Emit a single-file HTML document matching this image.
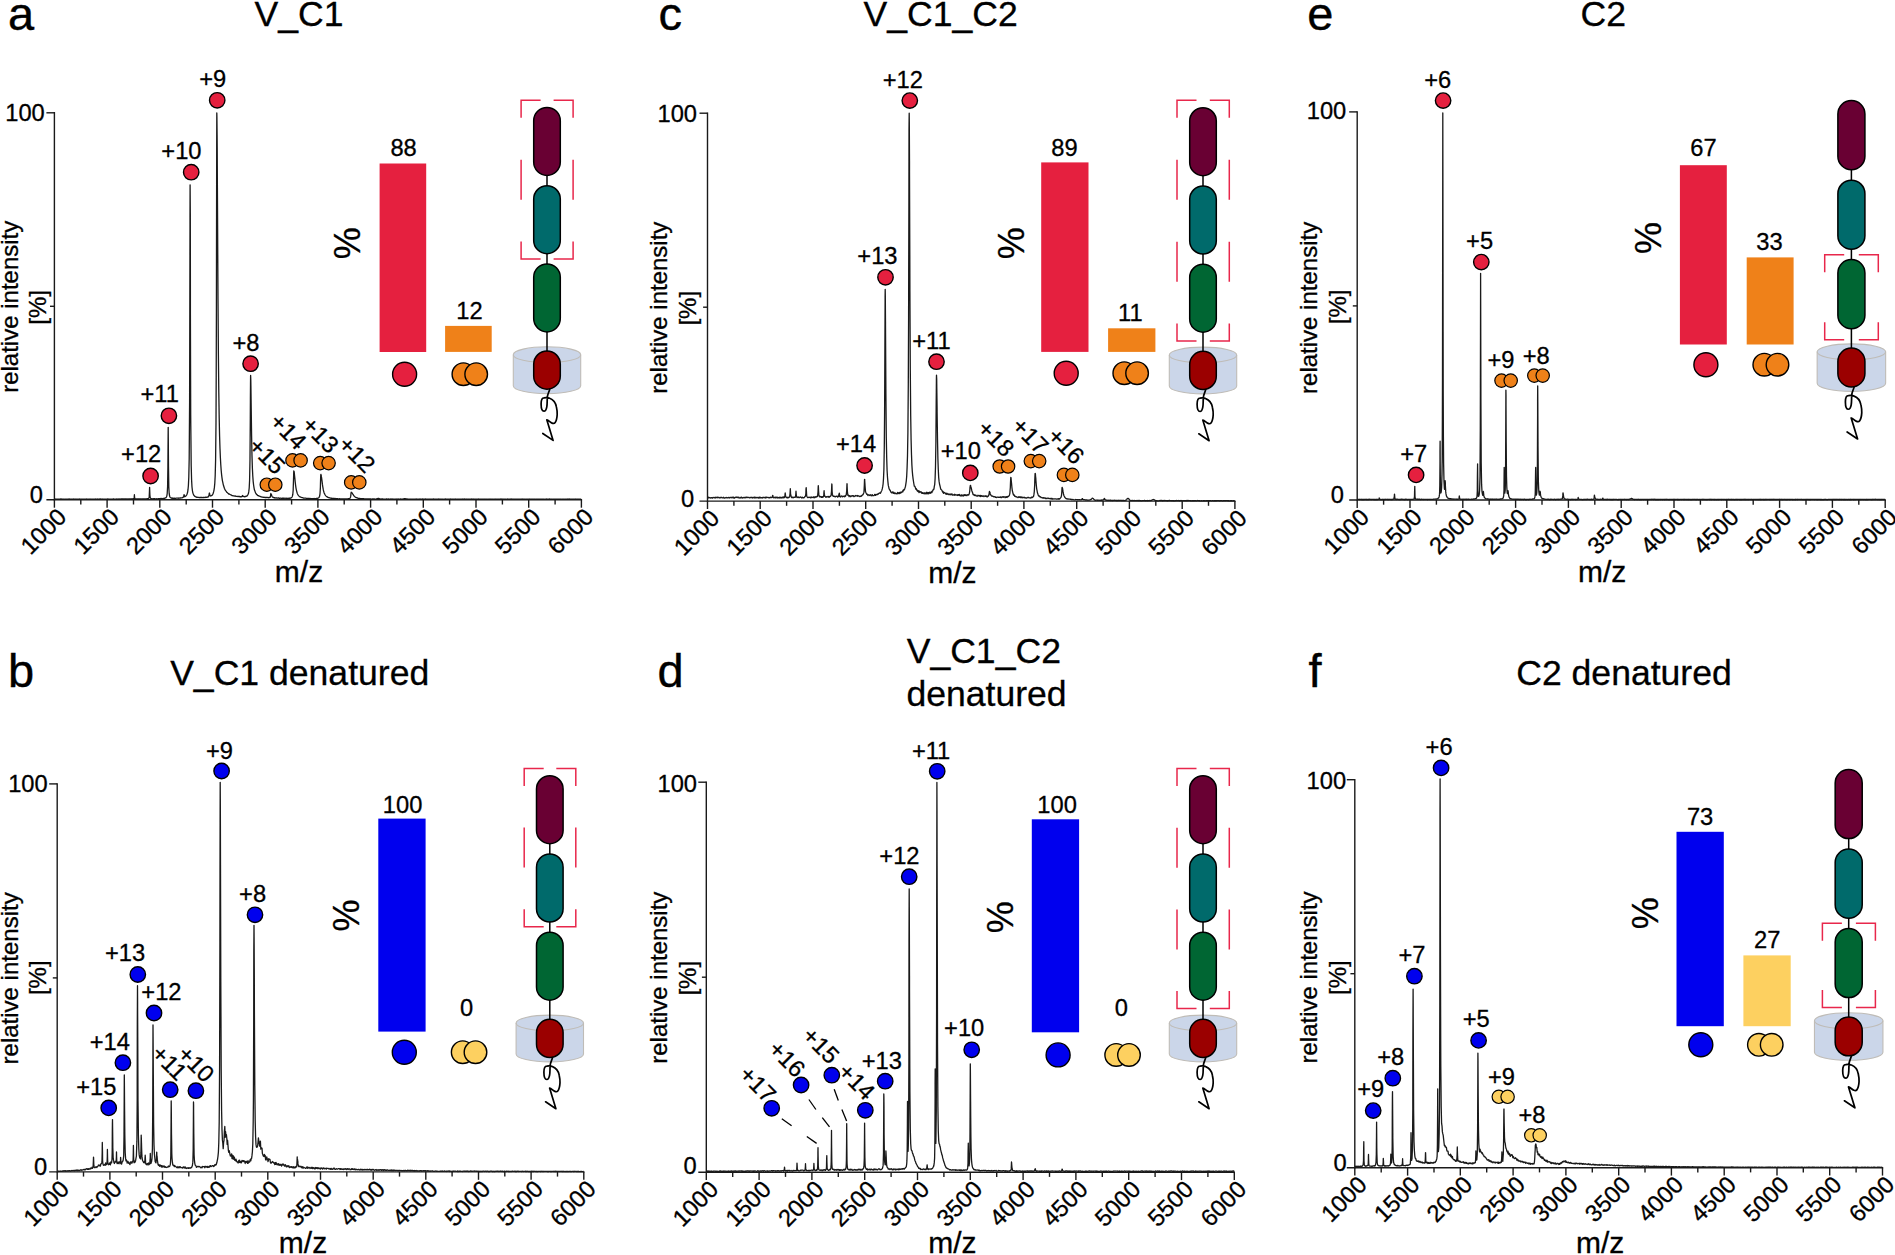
<!DOCTYPE html>
<html lang="en"><head><meta charset="utf-8"><title>Native MS spectra</title>
<style>
html,body{margin:0;padding:0;background:#fff;}
body{width:1895px;height:1255px;overflow:hidden;}
svg{display:block;}
text{font-family:"Liberation Sans",Arial,sans-serif;stroke:#000;stroke-width:.3px;}
</style></head><body>
<svg width="1895" height="1255" viewBox="0 0 1895 1255" font-family='"Liberation Sans", Arial, sans-serif' fill="#000">
<rect width="1895" height="1255" fill="#fff"/>
<text x="8" y="30.4" font-size="47" text-anchor="start" style="stroke-width:.4px">a</text>
<text x="299" y="25.9" font-size="35.6" text-anchor="middle">V_C1</text>
<line x1="54.4" y1="112.1" x2="54.4" y2="500.5" stroke="#1a1a1a" stroke-width="1.4"/>
<line x1="46.4" y1="499.8" x2="582.1" y2="499.8" stroke="#1a1a1a" stroke-width="1.4"/>
<line x1="46.4" y1="112.8" x2="54.4" y2="112.8" stroke="#1a1a1a" stroke-width="1.4"/>
<line x1="50" y1="306.3" x2="54.4" y2="306.3" stroke="#1a1a1a" stroke-width="1.4"/>
<text x="44.8" y="121.3" font-size="23.7" text-anchor="end">100</text>
<text x="42.9" y="503" font-size="23.7" text-anchor="end">0</text>
<line x1="54.4" y1="499.8" x2="54.4" y2="507.7" stroke="#1a1a1a" stroke-width="1.4"/>
<text transform="translate(67.8 518.4) rotate(-45)" font-size="23.7" text-anchor="end">1000</text>
<line x1="80.8" y1="499.8" x2="80.8" y2="504.5" stroke="#1a1a1a" stroke-width="1.4"/>
<line x1="107.1" y1="499.8" x2="107.1" y2="507.7" stroke="#1a1a1a" stroke-width="1.4"/>
<text transform="translate(120.5 518.4) rotate(-45)" font-size="23.7" text-anchor="end">1500</text>
<line x1="133.5" y1="499.8" x2="133.5" y2="504.5" stroke="#1a1a1a" stroke-width="1.4"/>
<line x1="159.8" y1="499.8" x2="159.8" y2="507.7" stroke="#1a1a1a" stroke-width="1.4"/>
<text transform="translate(173.2 518.4) rotate(-45)" font-size="23.7" text-anchor="end">2000</text>
<line x1="186.2" y1="499.8" x2="186.2" y2="504.5" stroke="#1a1a1a" stroke-width="1.4"/>
<line x1="212.5" y1="499.8" x2="212.5" y2="507.7" stroke="#1a1a1a" stroke-width="1.4"/>
<text transform="translate(225.9 518.4) rotate(-45)" font-size="23.7" text-anchor="end">2500</text>
<line x1="238.9" y1="499.8" x2="238.9" y2="504.5" stroke="#1a1a1a" stroke-width="1.4"/>
<line x1="265.2" y1="499.8" x2="265.2" y2="507.7" stroke="#1a1a1a" stroke-width="1.4"/>
<text transform="translate(278.6 518.4) rotate(-45)" font-size="23.7" text-anchor="end">3000</text>
<line x1="291.6" y1="499.8" x2="291.6" y2="504.5" stroke="#1a1a1a" stroke-width="1.4"/>
<line x1="317.9" y1="499.8" x2="317.9" y2="507.7" stroke="#1a1a1a" stroke-width="1.4"/>
<text transform="translate(331.3 518.4) rotate(-45)" font-size="23.7" text-anchor="end">3500</text>
<line x1="344.2" y1="499.8" x2="344.2" y2="504.5" stroke="#1a1a1a" stroke-width="1.4"/>
<line x1="370.6" y1="499.8" x2="370.6" y2="507.7" stroke="#1a1a1a" stroke-width="1.4"/>
<text transform="translate(384 518.4) rotate(-45)" font-size="23.7" text-anchor="end">4000</text>
<line x1="396.9" y1="499.8" x2="396.9" y2="504.5" stroke="#1a1a1a" stroke-width="1.4"/>
<line x1="423.3" y1="499.8" x2="423.3" y2="507.7" stroke="#1a1a1a" stroke-width="1.4"/>
<text transform="translate(436.7 518.4) rotate(-45)" font-size="23.7" text-anchor="end">4500</text>
<line x1="449.6" y1="499.8" x2="449.6" y2="504.5" stroke="#1a1a1a" stroke-width="1.4"/>
<line x1="476" y1="499.8" x2="476" y2="507.7" stroke="#1a1a1a" stroke-width="1.4"/>
<text transform="translate(489.4 518.4) rotate(-45)" font-size="23.7" text-anchor="end">5000</text>
<line x1="502.4" y1="499.8" x2="502.4" y2="504.5" stroke="#1a1a1a" stroke-width="1.4"/>
<line x1="528.7" y1="499.8" x2="528.7" y2="507.7" stroke="#1a1a1a" stroke-width="1.4"/>
<text transform="translate(542.1 518.4) rotate(-45)" font-size="23.7" text-anchor="end">5500</text>
<line x1="555.1" y1="499.8" x2="555.1" y2="504.5" stroke="#1a1a1a" stroke-width="1.4"/>
<line x1="581.4" y1="499.8" x2="581.4" y2="507.7" stroke="#1a1a1a" stroke-width="1.4"/>
<text transform="translate(594.8 518.4) rotate(-45)" font-size="23.7" text-anchor="end">6000</text>
<text transform="translate(17.5 306.8) rotate(-90)" font-size="24" text-anchor="middle">relative intensity</text>
<text transform="translate(46 307.3) rotate(-90)" font-size="24" text-anchor="middle">[%]</text>
<text x="299" y="582" font-size="30" text-anchor="middle">m/z</text>
<path d="M54.4,499.2 54.8,499.1 55.2,499 55.6,499.2 56,499.1 56.4,499.1 56.8,499.2 57.2,499.1 57.6,499.1 58,499.1 58.4,499.2 58.8,499.2 59.2,499.2 59.6,499.1 60,499.1 60.4,499.3 60.8,499 61.2,499 61.6,499.1 62,499.1 62.4,499.2 62.8,499.3 63.2,499.1 63.6,499.3 64,499.2 64.4,499.2 64.8,499.3 65.2,499.2 65.6,499.2 66,499.1 66.4,499.1 66.8,499.1 67.2,499.2 67.6,499.1 68,499.2 68.4,499.2 68.8,499 69.2,499 69.6,499.1 70,499.1 70.4,499.2 70.8,499.2 71.2,499.2 71.6,499.3 72,499.1 72.4,499.2 72.8,499.1 73.2,499.2 73.6,499 74,499.1 74.4,499.3 74.8,499.2 75.2,499.1 75.6,499.2 76,499 76.4,499.2 76.8,499.3 77.2,499.1 77.6,499.1 78,499.2 78.4,499.2 78.8,499.2 79.2,499 79.6,499.1 80,499.2 80.4,499.2 80.8,499.2 81.2,499.3 81.6,499.1 82,499.2 82.4,499.1 82.8,499.2 83.2,499.2 83.6,499.1 84,499.2 84.4,499.1 84.8,499.2 85.2,499.2 85.6,499.2 86,499.2 86.4,499 86.8,499.1 87.2,499.2 87.6,499.1 88,499.2 88.4,499.2 88.8,499.1 89.2,499.1 89.6,499.2 90,499 90.4,499.2 90.8,499.2 91.2,499.1 91.6,499.2 92,499.2 92.4,499.2 92.8,499.2 93.2,499.1 93.6,499.2 94,499.1 94.4,499.2 94.8,499.2 95.2,499 95.6,499.1 96,499.1 96.4,499.1 96.8,499.2 97.2,499.2 97.6,499 98,499.1 98.4,499.2 98.8,499.2 99.2,499.1 99.6,499 100,499.2 100.4,499 100.8,499 101.2,499.1 101.6,499.2 102,499.2 102.4,499.2 102.8,499 103.2,499.2 103.6,499.1 104,499.2 104.4,499.1 104.8,499.1 105.2,499.2 105.6,499.2 106,499.1 106.4,499.2 106.8,499.2 107.2,499.1 107.6,499 108,499.1 108.4,499.2 108.8,499 109.2,499.2 109.6,499.2 110,499.2 110.4,499.1 110.8,499.2 111.2,499.2 111.6,499.1 112,499.1 112.4,499.2 112.8,499.1 113.2,499 113.6,499 114,499.1 114.4,499.1 114.8,499.1 115.2,499.2 115.6,499.2 116,499.2 116.4,499 116.8,499.1 117.2,499 117.6,499.2 118,499.1 118.4,499.1 118.8,499 119.2,499.1 119.6,499 120,499.2 120.4,499.1 120.8,499 121.2,499 121.6,499 122,499 122.4,499 122.8,499 123.2,499.1 123.6,499 124,499 124.4,499 124.8,499.1 125.2,499 125.6,499 126,499.1 126.4,499 126.8,499.1 127.2,499 127.6,499 128,499.2 128.4,499 128.8,498.9 129.2,499 129.6,499 130,499.1 130.4,499 130.8,499 131.2,499.1 131.6,498.9 132,499.1 132.4,498.9 132.8,499.1 133.2,498.9 133.6,498.8 133.8,498.8 134,498.3 134.1,497.9 134.3,496 134.4,494.7 134.4,494.9 134.5,496.3 134.7,498 134.8,498.2 135,498.8 135.2,498.9 135.6,498.8 136,498.9 136.4,499 136.8,498.9 137.2,499 137.6,498.9 138,499.1 138.4,499 138.8,498.9 139.2,498.9 139.6,498.9 140,499 140.4,499 140.8,499 141.2,499.1 141.6,499 142,498.9 142.4,498.9 142.8,498.9 143.2,498.8 143.6,499 144,499 144.4,498.9 144.8,499 145.2,499 145.6,498.9 146,498.9 146.4,498.9 146.8,498.9 147.2,498.7 147.6,498.6 148,498.7 148.4,498.6 148.8,498.2 149,497.4 149.2,496.4 149.3,494.8 149.5,490 149.6,487.4 149.6,487.3 149.7,489.9 149.9,494.7 150,496 150.2,497.6 150.4,497.9 150.8,498.5 151.2,498.7 151.6,498.8 152,498.7 152.4,498.8 152.8,498.8 153.2,498.8 153.6,498.7 154,498.7 154.4,498.7 154.8,498.9 155.2,498.8 155.6,498.9 156,498.9 156.4,498.8 156.8,498.7 157.2,498.8 157.6,498.8 158,498.8 158.4,498.7 158.8,498.7 159.2,498.7 159.6,498.6 160,498.7 160.4,498.6 160.8,498.5 161.2,498.8 161.6,498.5 162,498.5 162.4,498.7 162.8,498.6 163.2,498.5 163.6,498.3 164,498.4 164.4,498.3 164.8,498.1 165.2,498 165.6,497.8 166,497.6 166.4,497 166.8,496.1 167.2,493.6 167.6,486.6 167.6,486.3 167.9,466.7 168,451.1 168.1,439.1 168.2,427.3 168.3,439.1 168.4,454.3 168.5,466.7 168.8,486.7 168.8,486.8 169.2,493.7 169.6,496.1 170,497.1 170.4,497.5 170.8,497.8 171.2,497.9 171.6,498.1 172,498.3 172.4,498.1 172.8,498.4 173.2,498.2 173.6,498.4 174,498.3 174.4,498.2 174.8,498.4 175.2,498.4 175.6,498.3 176,498.2 176.4,498.1 176.8,498.2 177.2,498.1 177.6,498.2 178,498 178.4,498.3 178.8,498.2 179.2,498.1 179.6,498.1 180,498 180.4,498 180.8,497.9 181.2,497.8 181.6,497.8 182,497.8 182.4,497.7 182.8,497.4 183.2,497.2 183.5,497.1 183.6,496.7 183.8,496.1 183.9,495.1 184,494.8 184.1,494.7 184.2,495 184.4,496 184.4,496.1 184.7,496.7 184.8,496.5 185.2,496.6 185.6,496.3 186,495.8 186.4,495.4 186.8,494.7 187.2,493.6 187.6,492.3 188,489.7 188.4,485.5 188.8,477.1 189.2,458.2 189.5,415.9 189.6,402.5 189.8,314.7 190,227.4 190,217.3 190.1,184.8 190.3,215.1 190.4,291 190.4,312.2 190.7,414.7 190.8,425.8 191.2,465.8 191.6,480.1 192,487 192.4,490.5 192.8,492.6 193.2,493.8 193.6,494.9 194,495.5 194.4,495.9 194.8,496.4 195.2,496.5 195.6,496.9 196,496.9 196.4,497.1 196.8,497.3 197.2,497.2 197.6,497.3 198,497.4 198.4,497.4 198.8,497.4 199.2,497.6 199.6,497.6 200,497.5 200.4,497.5 200.8,497.5 201.2,497.4 201.6,497.5 202,497.4 202.4,497.7 202.8,497.5 203.2,497.4 203.6,497.4 204,497.6 204.4,497.6 204.8,497.3 205.2,497.5 205.6,497.2 206,497.2 206.4,497.4 206.8,497.3 207.2,497.1 207.6,497.1 208,497 208.4,496.5 208.8,495.9 208.8,495.8 209.1,494.7 209.2,493.8 209.3,493.2 209.4,493 209.5,493.3 209.6,493.7 209.7,494.2 210,495.3 210,495.7 210.4,496 210.8,495.8 211.2,495.8 211.6,495.4 212,495.3 212.4,494.8 212.8,494.2 213.2,493.3 213.6,491.9 214,490.1 214.4,487.4 214.8,483.2 215.2,475.5 215.6,460 216,422.7 216.2,378.1 216.4,313.7 216.5,251.4 216.7,145.8 216.8,114 216.8,113 216.9,116.4 217.1,134.7 217.2,146.8 217.4,187.8 217.6,224.7 218,299.2 218.4,354.7 218.8,392.3 219.2,418 219.6,436.2 220,448.8 220.4,458 220.8,465 221.2,470.5 221.6,474.6 222,477.8 222.4,480.6 222.8,482.4 223.2,484.3 223.6,485.8 224,487 224.4,488.2 224.8,489.2 225.2,489.9 225.6,490.6 226,491 226.4,491.6 226.8,492.3 227.2,492.5 227.6,492.9 228,493.2 228.4,493.5 228.8,494 229.2,494 229.6,494.2 230,494.5 230.4,494.7 230.8,494.8 231.2,495.1 231.6,495.2 232,495.6 232.4,495.6 232.8,495.6 233.2,495.9 233.6,495.9 234,495.8 234.4,495.9 234.8,496.2 235.2,496 235.6,496.1 236,496.3 236.4,496.3 236.8,496.4 237.2,496.4 237.6,496.5 238,496.3 238.4,496.5 238.8,496.5 239.2,496.5 239.6,496.5 240,496.9 240.4,496.6 240.8,496.6 241.2,496.8 241.6,496.6 241.9,496.7 242,496.5 242.2,496.2 242.4,495.9 242.4,495.8 242.5,495.5 242.6,495.7 242.8,496.1 242.8,495.9 243.1,496.4 243.2,496.3 243.6,496.6 244,496.5 244.4,496.8 244.8,496.6 245.2,496.5 245.6,496.7 246,496.2 246.4,496.3 246.8,496 247.2,495.8 247.6,495.2 248,494.5 248.4,493.6 248.8,491.4 249.2,488 249.6,480.2 250,458.9 250.3,418 250.4,398.7 250.5,384.6 250.6,375.4 250.7,377.3 250.8,380.1 250.9,385.6 251.2,407.6 251.6,436.1 252,456 252.4,468.5 252.8,476.2 253.2,481.6 253.6,485 254,487.6 254.4,489.8 254.8,490.8 255.2,491.9 255.6,493.1 256,493.4 256.4,494.2 256.8,494.6 257.2,494.8 257.6,495.4 258,495.6 258.4,495.6 258.8,495.9 259.2,496.2 259.6,496.1 260,496.3 260.4,496.5 260.8,496.8 261.2,496.8 261.6,496.9 262,497.1 262.4,497.2 262.8,497.1 263.2,497.3 263.6,497.3 264,497.2 264.4,497.3 264.8,497.5 265.2,497.4 265.6,497.5 266,497.4 266.4,497.5 266.8,497.4 267.2,497.4 267.6,497.5 268,497.7 268.4,497.8 268.8,497.5 269.2,497.5 269.6,497.5 270,497.4 270.3,497 270.4,496.4 270.6,495.6 270.7,494.1 270.8,493.7 270.9,493.5 271,493.8 271.2,494.1 271.2,493.9 271.5,494.7 271.6,495.1 272,496.4 272.4,496.9 272.8,497.2 273.2,497.4 273.6,497.5 274,497.8 274.4,497.7 274.8,498 275.2,498 275.6,497.9 276,497.9 276.4,497.9 276.8,498.1 277.2,498 277.6,498.2 278,498.1 278.4,498 278.8,498 279.2,498.3 279.6,498.3 280,498.1 280.4,498.1 280.8,498.1 281.2,498.3 281.6,498.3 282,498.3 282.4,498.1 282.8,498.3 283.2,498.2 283.6,498.1 284,498.3 284.4,498.3 284.8,498.2 285.2,498.2 285.6,498.3 286,498.4 286.4,498.4 286.8,498.2 287.2,498.4 287.6,498.4 288,498.3 288.4,498.3 288.8,498.2 289.2,498.3 289.6,498.1 290,498.3 290.4,498.2 290.8,497.9 291.2,497.9 291.6,497.6 292,497 292.4,496.2 292.8,494.5 293.2,489.9 293.2,489.2 293.5,479.9 293.6,477 293.7,473 293.8,470.9 293.9,471.1 294,471.2 294.1,471.7 294.4,473.7 294.4,474.1 294.8,477.7 295.2,481.9 295.6,485.4 296,488.1 296.4,490.1 296.8,491.7 297.2,493.2 297.6,494.1 298,494.8 298.4,495.4 298.8,495.9 299.2,496.3 299.6,496.6 300,496.8 300.4,496.9 300.8,497.2 301.2,497.3 301.6,497.5 302,497.7 302.4,497.7 302.8,497.7 303.2,498 303.6,498.1 304,498.1 304.4,498.1 304.8,498.2 305.2,498.1 305.6,498.2 306,498.2 306.4,498.5 306.8,498.4 307.2,498.3 307.6,498.5 308,498.6 308.4,498.4 308.8,498.4 309.2,498.6 309.6,498.5 310,498.7 310.4,498.5 310.8,498.6 311.2,498.7 311.6,498.7 312,498.6 312.4,498.6 312.8,498.6 313.2,498.7 313.6,498.7 314,498.5 314.4,498.6 314.8,498.6 315.2,498.6 315.6,498.6 316,498.6 316.4,498.5 316.8,498.6 317.2,498.4 317.6,498.4 318,498.2 318.4,498 318.8,497.7 319.2,497.2 319.6,496.2 320,493.8 320.2,490.7 320.4,487.1 320.5,482.6 320.7,476.3 320.8,474.7 320.8,474.5 321,474.4 321.1,474.9 321.2,475.3 321.4,476.7 321.6,477.8 322,480.9 322.4,484.2 322.8,486.8 323.2,489.2 323.6,491 324,492.4 324.4,493.4 324.8,494.2 325.2,495 325.6,495.6 326,496 326.4,496.3 326.8,496.5 327.2,497 327.6,497.2 328,497.4 328.4,497.6 328.8,497.7 329.2,497.7 329.6,497.8 330,498 330.4,498.1 330.8,498.2 331.2,498.3 331.6,498.2 332,498.4 332.4,498.4 332.8,498.3 333.2,498.5 333.6,498.5 334,498.4 334.4,498.5 334.8,498.6 335.2,498.6 335.6,498.5 336,498.7 336.4,498.7 336.8,498.8 337.2,498.6 337.6,498.7 338,498.8 338.4,498.8 338.8,498.8 339.2,498.8 339.6,498.7 340,498.8 340.4,498.9 340.8,499 341.2,498.9 341.6,498.9 342,498.8 342.4,498.8 342.8,498.9 343.2,499 343.6,499 344,498.9 344.4,499 344.8,498.8 345.2,498.9 345.6,498.9 346,498.8 346.4,499 346.8,498.9 347.2,499 347.6,498.8 348,499 348.4,498.7 348.8,498.7 349.2,498.6 349.6,498.6 350,498.3 350.4,497.5 350.6,496.7 350.8,495.6 350.9,494.4 351.1,492.7 351.2,492.4 351.2,492.2 351.4,492.4 351.5,492.4 351.6,492.5 351.8,492.6 352,492.9 352.4,493.3 352.8,494.1 353.2,494.7 353.6,495.3 354,495.9 354.4,496.2 354.8,496.7 355.2,497 355.6,497.3 356,497.5 356.4,497.6 356.8,497.7 357.2,498 357.6,498 358,498.2 358.4,498.3 358.8,498.3 359.2,498.3 359.6,498.4 360,498.5 360.4,498.7 360.8,498.6 361.2,498.6 361.6,498.7 362,498.7 362.4,498.7 362.8,498.9 363.2,498.6 363.6,498.7 364,498.9 364.4,498.8 364.8,498.9 365.2,498.9 365.6,498.9 366,498.9 366.4,498.9 366.8,498.9 367.2,498.9 367.6,499 368,499 368.4,498.9 368.8,499 369.2,498.8 369.6,498.9 370,498.9 370.4,499 370.8,498.9 371.2,499.1 371.6,499.1 372,499.1 372.4,499 372.8,499 373.2,499.1 373.6,499 374,498.9 374.4,499 374.8,499.1 375.2,499.1 375.6,499.1 376,499.1 376.4,499 376.8,498.9 377.2,498.6 377.6,498.6 378,498.5 378.4,498.4 378.8,498.5 379.2,498.6 379.6,498.8 380,499 380.4,499 380.8,499.2 381.2,499.1 381.6,499 382,499 382.4,499 382.8,499 383.2,499.1 383.6,499.2 384,499.1 384.4,499.1 384.8,499.1 385.2,499.2 385.6,499.1 386,499.1 386.4,499 386.8,499 387.2,499.1 387.6,499.2 388,499 388.4,499 388.8,499.1 389.2,499.1 389.6,499.1 390,499.2 390.4,499.1 390.8,499 391.2,499.1 391.6,499.1 392,499 392.4,499.2 392.8,499 393.2,499.1 393.6,499.2 394,499.2 394.4,499.2 394.8,499.1 395.2,499.1 395.6,499.2 396,499 396.4,499.1 396.8,499.1 397.2,499.2 397.6,499 398,499.2 398.4,499 398.8,499.1 399.2,499.1 399.6,499.1 400,499.2 400.4,499 400.8,499 401.2,499.1 401.6,499.1 402,499.2 402.4,499 402.8,499.2 403.2,499 403.6,499.1 404,498.9 404.4,498.7 404.8,498.8 405.2,498.6 405.6,498.8 406,498.9 406.4,498.9 406.8,498.9 407.2,499 407.6,499.1 408,499.2 408.4,499.1 408.8,499.1 409.2,499.2 409.6,499.1 410,499.1 410.4,499.3 410.8,499.2 411.2,499.1 411.6,499.2 412,499.2 412.4,499.1 412.8,499.2 413.2,499.1 413.6,499.2 414,499.1 414.4,499.2 414.8,499.1 415.2,499.3 415.6,499.1 416,499.2 416.4,499 416.8,499.1 417.2,499.1 417.6,499.2 418,499.1 418.4,499.1 418.8,499.1 419.2,499.1 419.6,499.1 420,499 420.4,499.1 420.8,499.1 421.2,499.2 421.6,499.2 422,499.1 422.4,499 422.8,499.1 423.2,499.1 423.6,499.2 424,499 424.4,499.2 424.8,499.3 425.2,499.1 425.6,499 426,499.1 426.4,499.1 426.8,499.1 427.2,499.2 427.6,499.1 428,499.2 428.4,499.2 428.8,499.2 429.2,499.1 429.6,499.2 430,499.3 430.4,499.1 430.8,499.1 431.2,499.2 431.6,499.2 432,499.2 432.4,499.2 432.8,499.3 433.2,499.1 433.6,499 434,499.1 434.4,499.1 434.8,499.2 435.2,499.1 435.6,499.2 436,499.1 436.4,499.1 436.8,499.1 437.2,499.2 437.6,499.1 438,499.2 438.4,499.1 438.8,499 439.2,499.3 439.6,499.2 440,499.2 440.4,499.2 440.8,499.3 441.2,499.1 441.6,499.1 442,499.2 442.4,499.2 442.8,499.1 443.2,499.3 443.6,499.3 444,499.1 444.4,499.2 444.8,499.2 445.2,499 445.6,499 446,499.2 446.4,499.2 446.8,499.2 447.2,499.1 447.6,499.1 448,499.2 448.4,499.1 448.8,499.2 449.2,499.2 449.6,499.2 450,499.1 450.4,499 450.8,499.2 451.2,499.1 451.6,499.2 452,499.1 452.4,499.3 452.8,499.2 453.2,499.1 453.6,499.2 454,499.1 454.4,499.1 454.8,499.1 455.2,499.2 455.6,499.1 456,499 456.4,499.2 456.8,499.3 457.2,499.2 457.6,499.2 458,499.1 458.4,499.2 458.8,499.2 459.2,499.2 459.6,499.1 460,499.1 460.4,499.2 460.8,499.1 461.2,499.1 461.6,499.1 462,499.2 462.4,499.2 462.8,499 463.2,499.1 463.6,499.2 464,499.1 464.4,499.3 464.8,499 465.2,499.2 465.6,499.1 466,499.1 466.4,499.3 466.8,499.1 467.2,499.2 467.6,499.2 468,499.1 468.4,499.3 468.8,499.2 469.2,499.1 469.6,499.2 470,499.2 470.4,499.1 470.8,499.2 471.2,499.1 471.6,499 472,499.3 472.4,499.2 472.8,499.1 473.2,499.2 473.6,499 474,499.2 474.4,499.2 474.8,499.1 475.2,499.1 475.6,499.2 476,499.1 476.4,499.1 476.8,499.1 477.2,499.2 477.6,499.1 478,499.1 478.4,499.1 478.8,499 479.2,499.2 479.6,499.1 480,499.2 480.4,499.1 480.8,499.2 481.2,499.2 481.6,499.1 482,499.1 482.4,499.1 482.8,499.2 483.2,499.2 483.6,499.2 484,499.1 484.4,499.2 484.8,499.3 485.2,499.1 485.6,499.1 486,499.1 486.4,499.1 486.8,499.2 487.2,499.2 487.6,499.3 488,499.2 488.4,499.2 488.8,499.2 489.2,499.2 489.6,499.1 490,499.3 490.4,499.1 490.8,499.1 491.2,499.1 491.6,499.1 492,499.2 492.4,499.2 492.8,499.2 493.2,499.3 493.6,499.2 494,499.1 494.4,499.1 494.8,499.2 495.2,499.1 495.6,499.3 496,499.1 496.4,499.2 496.8,499.2 497.2,499.2 497.6,499.1 498,499.1 498.4,499.1 498.8,499.3 499.2,499.2 499.6,499.2 500,499.2 500.4,499 500.8,499.3 501.2,499.2 501.6,499.1 502,499 502.4,499.2 502.8,499.2 503.2,499.1 503.6,499.3 504,499.2 504.4,499.1 504.8,499.2 505.2,499.2 505.6,499.2 506,499.2 506.4,499.3 506.8,499.3 507.2,499 507.6,499.1 508,499.1 508.4,499.2 508.8,499.2 509.2,499.1 509.6,499.2 510,499.2 510.4,499 510.8,499.2 511.2,499.2 511.6,499 512,499.1 512.4,499.3 512.8,499.2 513.2,499.1 513.6,499.3 514,499.2 514.4,499.1 514.8,499.1 515.2,499.1 515.6,499.1 516,499.2 516.4,499.2 516.8,499.1 517.2,499.2 517.6,499.1 518,499.2 518.4,499.2 518.8,499.2 519.2,499.1 519.6,499.2 520,499.2 520.4,499.2 520.8,499.2 521.2,499.2 521.6,499.2 522,499 522.4,499.1 522.8,499.1 523.2,499.2 523.6,499.2 524,499.3 524.4,499.1 524.8,499.2 525.2,499.2 525.6,499.3 526,499.2 526.4,499.2 526.8,499.2 527.2,499.1 527.6,499.1 528,499.2 528.4,499.2 528.8,499.2 529.2,499 529.6,499.2 530,499.1 530.4,499.1 530.8,499.1 531.2,499.3 531.6,499.2 532,499.2 532.4,499.3 532.8,499.1 533.2,499.2 533.6,499.1 534,499.1 534.4,499.3 534.8,499.2 535.2,499.2 535.6,499.3 536,499.2 536.4,499.1 536.8,499.3 537.2,499.2 537.6,499.2 538,499.1 538.4,499.2 538.8,499.1 539.2,499.2 539.6,499.1 540,499.1 540.4,499.2 540.8,499.2 541.2,499.2 541.6,499.1 542,499.2 542.4,499.2 542.8,499.1 543.2,499.2 543.6,499.2 544,499.2 544.4,499.2 544.8,499.3 545.2,499.3 545.6,499.1 546,499.1 546.4,499.1 546.8,499 547.2,499.2 547.6,499.1 548,499.1 548.4,499.2 548.8,499.1 549.2,499.1 549.6,499 550,499.1 550.4,499.2 550.8,499.1 551.2,499.3 551.6,499.2 552,499.2 552.4,499.3 552.8,499.2 553.2,499.2 553.6,499.2 554,499.2 554.4,499.2 554.8,499.2 555.2,499.2 555.6,499.2 556,499.1 556.4,499.2 556.8,499.2 557.2,499.2 557.6,499.2 558,499.2 558.4,499.1 558.8,499.1 559.2,499.1 559.6,499.1 560,499.3 560.4,499.2 560.8,499.2 561.2,499.3 561.6,499.2 562,499.3 562.4,499.2 562.8,499.1 563.2,499.2 563.6,499.2 564,499.2 564.4,499.3 564.8,499.2 565.2,499.1 565.6,499.1 566,499.2 566.4,499.1 566.8,499.2 567.2,499.2 567.6,499.1 568,499 568.4,499.2 568.8,499.1 569.2,499 569.6,499.1 570,499.1 570.4,499.1 570.8,499.2 571.2,499.2 571.6,499.2 572,499.1 572.4,499.1 572.8,499.2 573.2,499.1 573.6,499.3 574,499.2 574.4,499.2 574.8,499.2 575.2,499.2 575.6,499 576,499.2 576.4,499.2 576.8,499.2 577.2,499.1 577.6,499.2 578,499.3 578.4,499.1 578.8,499.2 579.2,499.2 579.6,499.2 580,499.1 580.4,499.1 580.8,499.1 581.2,499.1" fill="none" stroke="#1a1a1a" stroke-width="1.3" stroke-linejoin="round"/>
<circle cx="217.2" cy="100.3" r="7.7" fill="#e5203f" stroke="#000" stroke-width="1.4"/>
<text x="212.8" y="87.1" font-size="23.7" text-anchor="middle">+9</text>
<circle cx="191.2" cy="172.2" r="7.7" fill="#e5203f" stroke="#000" stroke-width="1.4"/>
<text x="181.4" y="159.1" font-size="23.7" text-anchor="middle">+10</text>
<circle cx="250.6" cy="363.7" r="7.7" fill="#e5203f" stroke="#000" stroke-width="1.4"/>
<text x="245.9" y="350.6" font-size="23.7" text-anchor="middle">+8</text>
<circle cx="168.9" cy="415.8" r="7.7" fill="#e5203f" stroke="#000" stroke-width="1.4"/>
<text x="159.7" y="402.3" font-size="23.7" text-anchor="middle">+11</text>
<circle cx="150.6" cy="476" r="7.7" fill="#e5203f" stroke="#000" stroke-width="1.4"/>
<text x="141.2" y="462.4" font-size="23.7" text-anchor="middle">+12</text>
<circle cx="266.8" cy="484.7" r="6.7" fill="#ef8119" stroke="#000" stroke-width="1.2"/>
<circle cx="275.3" cy="484.7" r="6.7" fill="#ef8119" stroke="#000" stroke-width="1.2"/>
<text transform="translate(246.9 447.5) rotate(45)" font-size="23.7" text-anchor="start">+15</text>
<circle cx="292.5" cy="460.4" r="6.7" fill="#ef8119" stroke="#000" stroke-width="1.2"/>
<circle cx="300.6" cy="460.4" r="6.7" fill="#ef8119" stroke="#000" stroke-width="1.2"/>
<text transform="translate(268.2 422.9) rotate(45)" font-size="23.7" text-anchor="start">+14</text>
<circle cx="320.2" cy="463.1" r="6.7" fill="#ef8119" stroke="#000" stroke-width="1.2"/>
<circle cx="328.6" cy="463.1" r="6.7" fill="#ef8119" stroke="#000" stroke-width="1.2"/>
<text transform="translate(300.3 426.3) rotate(45)" font-size="23.7" text-anchor="start">+13</text>
<circle cx="351.2" cy="482.4" r="6.7" fill="#ef8119" stroke="#000" stroke-width="1.2"/>
<circle cx="359.3" cy="482.4" r="6.7" fill="#ef8119" stroke="#000" stroke-width="1.2"/>
<text transform="translate(336.8 445.9) rotate(45)" font-size="23.7" text-anchor="start">+12</text>
<rect x="379.6" y="163.5" width="46.6" height="188.5" fill="#e5203f"/>
<rect x="445.1" y="325.9" width="46.6" height="26" fill="#ef8119"/>
<text x="403.6" y="156.4" font-size="23.7" text-anchor="middle">88</text>
<text x="469.4" y="319.1" font-size="23.7" text-anchor="middle">12</text>
<text transform="translate(360.1 243.2) rotate(-90)" font-size="36" text-anchor="middle">%</text>
<circle cx="404.6" cy="374.2" r="12" fill="#e5203f" stroke="#000" stroke-width="1.4"/>
<circle cx="463.4" cy="374.2" r="11.3" fill="#ef8119" stroke="#000" stroke-width="1.4"/>
<circle cx="476.2" cy="374.2" r="11.3" fill="#ef8119" stroke="#000" stroke-width="1.4"/>
<g transform="translate(547 107.4) scale(1.000)">
<path d="M-33.7,247.3 A33.7,7.9 0 0 1 33.7,247.3 L33.7,278.3 A33.7,7.9 0 0 1 -33.7,278.3 Z" fill="#cbd6e9" stroke="#bfbcb7" stroke-width="1.1"/>
<path d="M-33.7,247.3 A33.7,7.9 0 0 0 33.7,247.3" fill="none" stroke="#bfbcb7" stroke-width="1.1"/>
<line x1="0" y1="67" x2="0" y2="245.6" stroke="#000" stroke-width="1.5"/>
<rect x="-13.3" y="0" width="26.6" height="68" rx="13.3" ry="13.3" fill="#690033" stroke="#000" stroke-width="1.5"/>
<rect x="-13.3" y="78.3" width="26.6" height="68" rx="13.3" ry="13.3" fill="#006a6b" stroke="#000" stroke-width="1.5"/>
<rect x="-13.3" y="156.5" width="26.6" height="68" rx="13.3" ry="13.3" fill="#006633" stroke="#000" stroke-width="1.5"/>
<rect x="-13.3" y="243.6" width="26.6" height="38.2" rx="13.3" ry="13.3" fill="#9b0000" stroke="#000" stroke-width="1.5"/>
<path transform="translate(0 281.8)" d="M2.7,0 C2,3 0.5,5 0.3,8.1 C0.1,12 0.3,15 -0.2,17.7 C-0.7,20.5 -1.8,22 -3,22 C-5,22 -5.9,18.5 -5.9,14.8 C-5.9,11 -5,8.6 -3,8.6 C-1,8.3 1,8.3 2.7,9.1 C6.5,10.5 8.7,14 9.4,17.7 C10,20.5 10.4,23 10.2,25.3 C10,29 9.2,32 8,33.5 C7.2,34.5 6,34.3 5.1,33.9 C3,33 1.5,31 -0.2,30.6 L6.1,51.2 L-4.2,44.3" fill="none" stroke="#000" stroke-width="1.7" stroke-linejoin="round" stroke-linecap="round"/>
</g>
<path d="M540.6,100.3 L521.1,100.3 L521.1,117.8 M553.6,100.3 L573.1,100.3 L573.1,117.8 M540.6,259 L521.1,259 L521.1,241.5 M553.6,259 L573.1,259 L573.1,241.5 M521.1,159.7 L521.1,199.7 M573.1,159.7 L573.1,199.7" fill="none" stroke="#e8274b" stroke-width="1.5"/>
<text x="658.6" y="29.7" font-size="47" text-anchor="start" style="stroke-width:.4px">c</text>
<text x="940.6" y="25.9" font-size="35.6" text-anchor="middle">V_C1_C2</text>
<line x1="707.5" y1="112.5" x2="707.5" y2="501.8" stroke="#1a1a1a" stroke-width="1.4"/>
<line x1="699.5" y1="501.1" x2="1235.6" y2="501.1" stroke="#1a1a1a" stroke-width="1.4"/>
<line x1="699.5" y1="113.2" x2="707.5" y2="113.2" stroke="#1a1a1a" stroke-width="1.4"/>
<line x1="703.1" y1="307.2" x2="707.5" y2="307.2" stroke="#1a1a1a" stroke-width="1.4"/>
<text x="697" y="122" font-size="23.7" text-anchor="end">100</text>
<text x="694.2" y="507.2" font-size="23.7" text-anchor="end">0</text>
<line x1="707.5" y1="501.1" x2="707.5" y2="509" stroke="#1a1a1a" stroke-width="1.4"/>
<text transform="translate(720.9 519.7) rotate(-45)" font-size="23.7" text-anchor="end">1000</text>
<line x1="733.9" y1="501.1" x2="733.9" y2="505.8" stroke="#1a1a1a" stroke-width="1.4"/>
<line x1="760.2" y1="501.1" x2="760.2" y2="509" stroke="#1a1a1a" stroke-width="1.4"/>
<text transform="translate(773.6 519.7) rotate(-45)" font-size="23.7" text-anchor="end">1500</text>
<line x1="786.6" y1="501.1" x2="786.6" y2="505.8" stroke="#1a1a1a" stroke-width="1.4"/>
<line x1="813" y1="501.1" x2="813" y2="509" stroke="#1a1a1a" stroke-width="1.4"/>
<text transform="translate(826.4 519.7) rotate(-45)" font-size="23.7" text-anchor="end">2000</text>
<line x1="839.4" y1="501.1" x2="839.4" y2="505.8" stroke="#1a1a1a" stroke-width="1.4"/>
<line x1="865.7" y1="501.1" x2="865.7" y2="509" stroke="#1a1a1a" stroke-width="1.4"/>
<text transform="translate(879.1 519.7) rotate(-45)" font-size="23.7" text-anchor="end">2500</text>
<line x1="892.1" y1="501.1" x2="892.1" y2="505.8" stroke="#1a1a1a" stroke-width="1.4"/>
<line x1="918.5" y1="501.1" x2="918.5" y2="509" stroke="#1a1a1a" stroke-width="1.4"/>
<text transform="translate(931.9 519.7) rotate(-45)" font-size="23.7" text-anchor="end">3000</text>
<line x1="944.8" y1="501.1" x2="944.8" y2="505.8" stroke="#1a1a1a" stroke-width="1.4"/>
<line x1="971.2" y1="501.1" x2="971.2" y2="509" stroke="#1a1a1a" stroke-width="1.4"/>
<text transform="translate(984.6 519.7) rotate(-45)" font-size="23.7" text-anchor="end">3500</text>
<line x1="997.6" y1="501.1" x2="997.6" y2="505.8" stroke="#1a1a1a" stroke-width="1.4"/>
<line x1="1023.9" y1="501.1" x2="1023.9" y2="509" stroke="#1a1a1a" stroke-width="1.4"/>
<text transform="translate(1037.3 519.7) rotate(-45)" font-size="23.7" text-anchor="end">4000</text>
<line x1="1050.3" y1="501.1" x2="1050.3" y2="505.8" stroke="#1a1a1a" stroke-width="1.4"/>
<line x1="1076.7" y1="501.1" x2="1076.7" y2="509" stroke="#1a1a1a" stroke-width="1.4"/>
<text transform="translate(1090.1 519.7) rotate(-45)" font-size="23.7" text-anchor="end">4500</text>
<line x1="1103.1" y1="501.1" x2="1103.1" y2="505.8" stroke="#1a1a1a" stroke-width="1.4"/>
<line x1="1129.4" y1="501.1" x2="1129.4" y2="509" stroke="#1a1a1a" stroke-width="1.4"/>
<text transform="translate(1142.8 519.7) rotate(-45)" font-size="23.7" text-anchor="end">5000</text>
<line x1="1155.8" y1="501.1" x2="1155.8" y2="505.8" stroke="#1a1a1a" stroke-width="1.4"/>
<line x1="1182.2" y1="501.1" x2="1182.2" y2="509" stroke="#1a1a1a" stroke-width="1.4"/>
<text transform="translate(1195.6 519.7) rotate(-45)" font-size="23.7" text-anchor="end">5500</text>
<line x1="1208.5" y1="501.1" x2="1208.5" y2="505.8" stroke="#1a1a1a" stroke-width="1.4"/>
<line x1="1234.9" y1="501.1" x2="1234.9" y2="509" stroke="#1a1a1a" stroke-width="1.4"/>
<text transform="translate(1248.3 519.7) rotate(-45)" font-size="23.7" text-anchor="end">6000</text>
<text transform="translate(667.3 307.7) rotate(-90)" font-size="24" text-anchor="middle">relative intensity</text>
<text transform="translate(695.6 308.2) rotate(-90)" font-size="24" text-anchor="middle">[%]</text>
<text x="952.4" y="583" font-size="30" text-anchor="middle">m/z</text>
<path d="M707.5,497.2 707.9,497.1 708.3,497.2 708.7,498 709.1,497.5 709.5,497.7 709.9,497.6 710.3,498 710.7,497.9 711.1,497.7 711.5,497.9 711.9,497.6 712.3,498.1 712.7,498 713.1,497.4 713.5,497.7 713.9,497.6 714.3,497.4 714.7,497.7 715.1,498.1 715.5,497.3 715.9,497.5 716.3,497.4 716.7,497.5 717.1,497.1 717.5,497.7 717.9,497.3 718.3,497.7 718.7,497.5 719.1,497.4 719.5,497.8 719.9,498 720.3,497.6 720.7,497.4 721.1,497.5 721.5,497.6 721.9,497.4 722.3,497.9 722.7,497.9 723.1,497.8 723.5,497.3 723.9,497.9 724.3,498 724.7,498 725.1,498.1 725.5,497.8 725.9,497.5 726.3,497.3 726.7,497.8 727.1,497.7 727.5,497.8 727.9,497.8 728.3,497.3 728.7,497.5 729.1,497.8 729.5,498 729.9,497.3 730.3,497.4 730.7,497.3 731.1,497.9 731.5,497.5 731.9,497.2 732.3,497.5 732.7,497.1 733.1,497.9 733.5,497.1 733.9,498.1 734.3,497.7 734.7,498.1 735.1,497.3 735.5,497.4 735.9,497.1 736.3,497.3 736.7,497.1 737.1,497.6 737.5,497.1 737.9,497.3 738.3,497.8 738.7,497.1 739.1,497.7 739.5,497.9 739.9,498 740.3,497.6 740.7,497.9 741.1,497.1 741.5,497.1 741.9,497.9 742.3,498 742.7,497.6 743.1,497.9 743.5,497.5 743.9,497.3 744.3,497.8 744.7,497.7 745.1,497.2 745.5,497.6 745.9,497.8 746.3,497.2 746.7,497.3 747.1,497.2 747.5,497.4 747.9,497.7 748.3,497.4 748.7,497.3 749.1,497.4 749.5,497.9 749.9,497.8 750.3,497.7 750.7,497.3 751.1,497.5 751.5,497.5 751.9,497.3 752.3,498 752.7,497.5 753.1,497.8 753.5,497.5 753.9,497.2 754.3,497.9 754.7,497.1 755.1,498 755.5,497.5 755.9,497.5 756.3,497.9 756.7,497.5 757.1,497.6 757.5,497.6 757.9,497.4 758.3,498.1 758.7,497.7 759.1,497.3 759.5,498 759.9,497.2 760.3,497.9 760.7,497.4 761.1,497.9 761.5,497.6 761.9,497.7 762.3,498 762.7,497.4 763.1,497.6 763.5,497.4 763.9,497.5 764.3,497.5 764.7,497.6 765.1,497.8 765.5,497.2 765.9,498 766.3,497.2 766.7,497.2 767.1,497.6 767.5,497.3 767.9,497.4 768.3,497.5 768.7,497.8 769.1,497.8 769.5,497.7 769.9,497.8 770.3,497.1 770.7,497.7 771.1,497.6 771.5,497.6 771.9,497 772.1,497.2 772.3,496.9 772.4,496.8 772.6,495.7 772.7,495.5 772.7,495.3 772.9,495.7 773,496.2 773.1,496.8 773.3,497.6 773.5,497.4 773.9,497.9 774.3,497.5 774.7,497.6 775.1,497.2 775.5,497.8 775.9,497.2 776.3,497.8 776.7,497.1 777.1,497.4 777.5,498 777.9,497.3 778.3,497.8 778.7,497.7 779.1,497.9 779.5,497.2 779.9,498 780.3,497.3 780.7,497.7 781.1,497.4 781.5,497.8 781.9,498 782.3,497.1 782.7,497.4 783.1,497.9 783.5,497 783.9,497 784.3,497.6 784.6,497.4 784.7,496.6 784.9,496.1 785.1,493.6 785.2,493 785.3,493.6 785.5,495.4 785.5,495.4 785.8,496.5 785.9,496.9 786.3,497.2 786.7,497.6 787.1,497.8 787.5,497.9 787.9,497.1 788.3,497.7 788.7,497.4 789.1,497.4 789.5,496.7 789.7,496.3 789.9,494.7 790,494.1 790.2,490.7 790.3,488.7 790.3,488.7 790.4,490.1 790.6,494.2 790.7,494.8 790.9,495.8 791.1,496.3 791.5,497.6 791.9,497.5 792.3,497.1 792.7,497.1 793.1,497.9 793.5,497.6 793.9,497.2 794.3,497.2 794.7,497.3 795.1,497.4 795.4,496.7 795.5,496.9 795.7,495.2 795.9,492.7 795.9,492.1 796,491.2 796.1,492.5 796.3,494.9 796.3,495.2 796.6,496.5 796.7,496.9 797.1,497.6 797.5,497.1 797.9,497.4 798.3,497 798.7,497.5 799.1,497.4 799.5,497.6 799.9,497.4 800.3,497.1 800.7,497 801.1,497.4 801.5,497.6 801.9,498 802.3,497.2 802.7,497.6 803.1,497.6 803.5,497.9 803.9,497.9 804.3,497.5 804.7,496.7 805.1,496.7 805.5,495.8 805.6,495.6 805.9,493.1 805.9,492.4 806,488.8 806.2,487.7 806.3,488.7 806.3,489.2 806.5,492.7 806.7,495.8 806.8,496.2 807.1,496.8 807.5,497.5 807.9,497.1 808.3,497.6 808.7,497.3 809.1,497.2 809.5,497.3 809.9,497.4 810.3,497.8 810.7,497.6 811.1,496.9 811.5,497.7 811.9,497.6 812.3,497.4 812.7,497.3 813.1,497.1 813.5,497.6 813.9,496.8 814.3,497.8 814.7,497 815.1,497.2 815.5,496.8 815.9,497.5 816.3,496.9 816.7,496.5 817.1,496.5 817.5,496.5 817.7,494.7 817.9,493.1 818,492.1 818.2,486.7 818.3,485.7 818.3,485.6 818.4,486.7 818.6,491.4 818.7,492.5 818.9,494.9 819.1,495.8 819.5,496.8 819.9,496.8 820.3,496.4 820.7,496.8 821.1,496.6 821.5,497.4 821.9,496.8 822.3,496.7 822.7,497.4 823.1,496.4 823.5,496.6 823.5,496.5 823.8,495.2 823.9,492.8 823.9,492.8 824.1,490.7 824.2,492.8 824.3,493.6 824.4,494.4 824.7,496.1 824.7,496.2 825.1,496.4 825.5,496.7 825.9,497.3 826.3,496.6 826.7,497.1 827.1,496.8 827.5,496.9 827.9,496.4 828.3,497 828.7,496.5 829.1,497.3 829.5,497 829.9,496.5 830.3,496.4 830.7,495.8 831.1,495.6 831.2,494.3 831.5,491.2 831.5,491.4 831.7,486.6 831.8,484 831.9,484.3 832,485.9 832.1,491 832.3,493.5 832.4,494.2 832.7,495.6 833.1,496.2 833.5,496.4 833.9,496.1 834.3,496.3 834.7,496.3 835.1,497 835.5,496.6 835.9,496.3 836.3,496.4 836.7,496.1 837.1,496.1 837.5,497.1 837.9,496.5 838.3,496.6 838.7,496.5 838.7,496 839,494.5 839.1,493.6 839.1,494.1 839.3,493.2 839.4,493.7 839.5,494.2 839.6,495.1 839.9,496.5 839.9,496.1 840.3,496.7 840.7,497 841.1,496.4 841.5,495.9 841.9,496.2 842.3,496.2 842.7,496.9 843.1,496.4 843.5,496.3 843.9,496.1 844.3,496.4 844.7,496.8 845.1,495.6 845.5,496.3 845.9,495.3 846.3,494.6 846.4,493.4 846.7,490.7 846.7,490.4 846.9,485.5 847,483.7 847.1,484 847.1,485.5 847.3,489.7 847.5,492.7 847.6,493.4 847.9,495.4 848.3,495.2 848.7,495.4 849.1,496.7 849.5,495.7 849.9,495.8 850.3,496 850.7,496.7 851.1,495.9 851.5,495.9 851.9,496.1 852.3,495.6 852.7,495.6 853.1,496 853.5,495.6 853.9,496.7 854.3,496.4 854.7,496.1 855.1,496.1 855.5,495.5 855.9,495.9 856.3,495.9 856.7,495.9 857.1,495.5 857.5,496.2 857.9,495.7 858.3,495.9 858.7,496.1 859.1,496.2 859.5,496.4 859.9,496.6 860.3,496.1 860.7,496.1 861.1,496.3 861.5,495.7 861.9,495.8 862.3,494.9 862.7,494.8 863.1,494.6 863.5,493.6 863.9,492.4 864,491.7 864.3,485.6 864.3,485.9 864.5,480.1 864.6,479.3 864.7,479.3 864.7,480.3 864.9,483.4 865.1,486.5 865.2,487.8 865.5,491.5 865.9,492.5 866.3,493.4 866.7,494.3 867.1,494.1 867.5,494.3 867.9,495.6 868.3,494.8 868.7,494.9 869.1,494.9 869.5,495.5 869.9,495.2 870.3,495.1 870.7,494.7 871.1,495.9 871.5,495.4 871.9,495.5 872.3,494.7 872.7,495.7 873.1,495.7 873.5,495.6 873.9,495.6 874.3,495.1 874.7,494.4 875.1,495.1 875.5,495.4 875.9,494.5 876.3,494.9 876.7,494.5 877.1,494.1 877.5,494.5 877.9,494 878.3,494 878.7,493.5 879.1,493.4 879.5,493 879.9,493 880.3,493.4 880.7,492.7 881.1,491.7 881.5,491 881.9,490.2 882.3,488.7 882.7,486.7 883.1,484 883.5,478.6 883.9,469.4 884.3,446.6 884.6,411.8 884.7,391.1 884.9,345 885.1,301.8 885.1,297.2 885.2,289.3 885.3,295.3 885.5,322.1 885.5,324.2 885.8,376.4 885.9,394.1 886.3,437.6 886.7,458.1 887.1,470.7 887.5,477.3 887.9,481.6 888.3,485.4 888.7,486.9 889.1,488.9 889.5,489.2 889.9,490.3 890.3,490.4 890.7,492 891.1,492.2 891.5,492.2 891.9,493.1 892.3,492.6 892.7,491.9 893.1,492.1 893.5,493.4 893.9,492.4 894.3,493.5 894.7,493.5 895.1,492.9 895.5,493.5 895.9,493.6 896.3,493.8 896.7,493.7 897.1,493.6 897.5,492.4 897.9,493.8 898.3,492.9 898.7,493.4 899.1,492.5 899.5,493.6 899.9,492.9 900.3,492.1 900.7,493.2 901.1,492.4 901.5,492.4 901.9,491.9 902.3,491.4 902.7,492 903.1,490.2 903.5,490.8 903.9,489.4 904.3,489.8 904.7,488.9 905.1,487.6 905.5,486.2 905.9,483.7 906.3,480.8 906.7,476.3 907.1,467.6 907.5,455.8 907.9,432.5 908.3,383.3 908.6,317.3 908.7,272.7 908.9,200.1 909,130.2 909.1,120.3 909.2,113.2 909.3,121.6 909.5,161.1 909.5,171.3 909.8,254.2 909.9,290.7 910.3,370.5 910.7,416 911.1,439.9 911.5,454.7 911.9,465.1 912.3,471.4 912.7,475.6 913.1,478.9 913.5,481.5 913.9,484 914.3,486.2 914.7,486.1 915.1,486.9 915.5,488 915.9,489.3 916.3,488.7 916.7,489.8 917.1,490.7 917.5,490.2 917.9,491.5 918.3,491.7 918.7,490.8 919.1,492.5 919.5,491.2 919.9,492.2 920.3,492 920.7,491.9 921.1,491.7 921.5,493 921.9,493.3 922.3,492.6 922.7,493.2 923.1,492.9 923.5,493.5 923.9,493.6 924.3,492.8 924.7,493.8 925.1,493.4 925.5,493.2 925.9,493.8 926.3,492.5 926.7,492.3 927.1,493.9 927.5,492.5 927.9,493.6 928.3,492.6 928.7,493.8 929.1,492.5 929.5,492.1 929.9,493.2 930.3,493.3 930.7,492.9 931.1,491.8 931.5,491.8 931.9,492.7 932.3,491 932.7,490.9 933.1,489.9 933.5,489.1 933.9,489.3 934.3,486.4 934.7,484.6 935.1,478.7 935.5,466.8 935.9,442 935.9,439.1 936.2,401.8 936.3,392.3 936.4,379.6 936.5,375.1 936.6,377.4 936.7,379.1 936.8,388 937.1,409.3 937.1,411.9 937.5,439.1 937.9,458.8 938.3,469.9 938.7,477.6 939.1,481.4 939.5,484 939.9,485.5 940.3,487.1 940.7,489.2 941.1,489.4 941.5,489.9 941.9,490.3 942.3,491.2 942.7,492.2 943.1,491.5 943.5,493.3 943.9,492.6 944.3,492.9 944.7,492.4 945.1,493 945.5,493.8 945.9,494 946.3,494.3 946.7,493.2 947.1,493.3 947.5,494.1 947.9,494.4 948.3,493.9 948.7,494.6 949.1,494.1 949.5,494.5 949.9,494.6 950.3,494 950.7,494.8 951.1,494.7 951.5,494.4 951.9,493.8 952.3,495.1 952.7,494.9 953.1,495 953.5,495 953.9,494.8 954.3,494.3 954.7,495.3 955.1,494.5 955.5,495 955.9,494.8 956.3,494.9 956.7,494.8 957.1,495.5 957.5,494.8 957.9,495.2 958.3,494.6 958.7,494.9 959.1,495.3 959.5,494.4 959.9,495.6 960.3,495.9 960.7,495.8 961.1,494.9 961.5,495.9 961.9,494.9 962.3,495.9 962.7,495.6 963.1,495.1 963.5,496 963.9,495.4 964.3,494.6 964.7,495 965.1,495.5 965.5,494.8 965.9,495.3 966.3,494.9 966.7,495.6 967.1,495.5 967.5,494.9 967.9,494.7 968.3,494.6 968.7,495.1 969.1,494 969.5,492.6 969.7,491.3 969.9,489.4 970,487.3 970.2,486.3 970.3,485.5 970.4,486.1 970.6,485.5 970.7,486 970.9,487.6 971.1,487.3 971.5,489.1 971.9,491 972.3,492 972.7,493 973.1,494.5 973.5,494.6 973.9,494.9 974.3,495.5 974.7,494.8 975.1,495.1 975.5,495.5 975.9,495.1 976.3,495.9 976.7,495.9 977.1,496.2 977.5,496.1 977.9,495.3 978.3,495.9 978.7,495.6 979.1,495.4 979.5,495.8 979.9,496.2 980.3,495.4 980.7,496.6 981.1,496.2 981.5,495.6 981.9,495.9 982.3,496.4 982.7,495.8 983.1,495.9 983.5,496 983.9,496.6 984.3,496.1 984.7,496.1 985.1,495.9 985.5,496.3 985.9,495.8 986.3,496.1 986.7,496.7 987.1,496.3 987.5,496.7 987.9,496.1 988.3,496.2 988.7,494.9 989,495 989.1,493.8 989.2,492.7 989.4,492 989.5,491.4 989.5,491.8 989.7,491.7 989.9,492.1 989.9,492 990.1,493.2 990.3,494.1 990.7,494.7 991.1,495.5 991.5,495.9 991.9,496.2 992.3,495.9 992.7,496.3 993.1,496.4 993.5,496.6 993.9,496.8 994.3,496.8 994.7,496.6 995.1,496.9 995.5,497.4 995.9,497.2 996.3,497.4 996.7,497.5 997.1,497.1 997.5,497.1 997.9,497.1 998.3,497.4 998.7,497.4 999.1,497.1 999.5,497.3 999.9,497.4 1000.3,497.1 1000.7,496.9 1001.1,497.6 1001.5,497.7 1001.9,497.2 1002.3,496.7 1002.7,497 1003.1,497.3 1003.5,496.7 1003.9,497 1004.3,496.8 1004.7,496.8 1005.1,497.7 1005.5,497.5 1005.9,496.8 1006.3,497.2 1006.7,496.6 1007.1,497.5 1007.5,496.4 1007.9,496.7 1008.3,496.7 1008.7,496 1009.1,495.8 1009.5,494.9 1009.9,493.2 1010.2,488.8 1010.3,488.2 1010.5,482.7 1010.7,478.8 1010.7,478.7 1010.8,477.3 1011,477.8 1011.1,478.3 1011.1,478.7 1011.4,482.3 1011.5,482.7 1011.9,487.3 1012.3,490.5 1012.7,492.2 1013.1,493.8 1013.5,495 1013.9,494.7 1014.3,495.2 1014.7,496.3 1015.1,496.1 1015.5,496.4 1015.9,496.9 1016.3,496.7 1016.7,497.1 1017.1,497.2 1017.5,497.1 1017.9,497.6 1018.3,497.4 1018.7,496.7 1019.1,497 1019.5,497.4 1019.9,496.8 1020.3,497.5 1020.7,497 1021.1,497.6 1021.5,497 1021.9,497.5 1022.3,497.1 1022.7,497.8 1023.1,497.6 1023.5,497.6 1023.9,497.2 1024.3,497.2 1024.7,497.9 1025.1,497.7 1025.5,497.9 1025.9,498 1026.3,498 1026.7,498.1 1027.1,497.8 1027.5,497.7 1027.9,497.3 1028.3,497.5 1028.7,497.4 1029.1,497.9 1029.5,497.9 1029.9,497.8 1030.3,497.9 1030.7,498.1 1031.1,497.8 1031.5,497.1 1031.9,497.8 1032.3,497.3 1032.7,497.3 1033.1,496.5 1033.5,496.5 1033.9,494.7 1034.3,491.6 1034.5,488.1 1034.7,484.9 1034.8,479.7 1035,475.4 1035.1,473.5 1035.2,473.4 1035.3,473.6 1035.5,474.8 1035.5,475.7 1035.8,478.3 1035.9,480.4 1036.3,485 1036.7,488.8 1037.1,490.9 1037.5,493.1 1037.9,494.1 1038.3,495.4 1038.7,496 1039.1,495.8 1039.5,496.6 1039.9,496.9 1040.3,496.6 1040.7,497 1041.1,497.7 1041.5,497.5 1041.9,497.7 1042.3,497.7 1042.7,498 1043.1,498.1 1043.5,497.6 1043.9,498 1044.3,498.1 1044.7,498 1045.1,498 1045.5,498.5 1045.9,498.1 1046.3,498.4 1046.7,498.6 1047.1,498.6 1047.5,498.1 1047.9,498.2 1048.3,498.2 1048.7,498.5 1049.1,498.5 1049.5,498.7 1049.9,498.4 1050.3,498.6 1050.7,498.8 1051.1,498.3 1051.5,498.7 1051.9,499.1 1052.3,498.5 1052.7,499.1 1053.1,498.9 1053.5,498.8 1053.9,499 1054.3,498.9 1054.7,498.9 1055.1,498.8 1055.5,498.8 1055.9,498.8 1056.3,499.2 1056.7,499.1 1057.1,499.2 1057.5,499 1057.9,498.9 1058.3,498.7 1058.7,499.2 1059.1,498.6 1059.5,499 1059.9,498.5 1060.3,498.2 1060.7,497.7 1061.1,497.1 1061.5,495.3 1061.6,494.7 1061.9,490.8 1061.9,490 1062,488 1062.2,487.3 1062.3,488 1062.3,488 1062.5,488.1 1062.7,489.6 1062.8,489.8 1063.1,491.9 1063.5,493.9 1063.9,495.5 1064.3,496.2 1064.7,497.2 1065.1,497.7 1065.5,498.2 1065.9,498.4 1066.3,498.7 1066.7,498.6 1067.1,499.1 1067.5,499 1067.9,498.8 1068.3,498.9 1068.7,499.2 1069.1,499.1 1069.5,499.1 1069.9,499.2 1070.3,499.3 1070.7,499.2 1071.1,499.5 1071.5,499.5 1071.9,499.6 1072.3,499.6 1072.7,499.5 1073.1,499.5 1073.5,499.7 1073.9,499.8 1074.3,499.9 1074.7,499.8 1075.1,499.8 1075.5,499.6 1075.9,499.5 1076.3,499.7 1076.7,499.6 1077.1,499.7 1077.5,499.9 1077.9,499.6 1078.3,499.6 1078.7,499.9 1079.1,499.9 1079.5,499.7 1079.9,499.7 1080.3,499.9 1080.7,499.8 1081.1,499.8 1081.5,499.6 1081.8,499.2 1081.9,499.5 1082.1,499.1 1082.3,498.6 1082.3,499 1082.4,498.9 1082.5,498.7 1082.7,499 1082.7,499.1 1083,499.5 1083.1,499.7 1083.5,499.6 1083.9,499.9 1084.3,499.9 1084.7,499.7 1085.1,499.9 1085.5,500 1085.9,500 1086.3,500.1 1086.7,499.9 1087.1,499.9 1087.5,500.2 1087.9,500.3 1088.3,500.1 1088.7,500.2 1089.1,500 1089.5,500.2 1089.9,500 1090.3,499.9 1090.7,499.5 1091.1,499.5 1091.5,499.1 1091.9,498.6 1092.3,498.1 1092.7,498.3 1093.1,498.5 1093.5,498.8 1093.9,499.3 1094.3,499.9 1094.7,499.8 1095.1,500.3 1095.5,500.3 1095.9,500.2 1096.3,500.2 1096.7,500.1 1097.1,500.4 1097.5,500.2 1097.9,500.4 1098.3,500.4 1098.7,500.1 1099.1,500.1 1099.5,500.4 1099.9,500.4 1100.3,500.4 1100.7,500.2 1101.1,500.4 1101.5,500 1101.9,500.4 1102.3,500.1 1102.7,500 1103.1,500.1 1103.5,499.7 1103.8,499.7 1103.9,499.2 1104.1,498.9 1104.3,498.4 1104.3,498.4 1104.4,498.4 1104.5,498.4 1104.7,499.1 1104.7,499.2 1105,499.7 1105.1,499.6 1105.5,500 1105.9,500.1 1106.3,500.2 1106.7,500.4 1107.1,500.1 1107.5,500.3 1107.9,500.3 1108.3,500.3 1108.7,500.2 1109.1,500.3 1109.5,500.3 1109.9,500.2 1110.3,500.5 1110.7,500.2 1111.1,500.3 1111.5,500.4 1111.9,500.5 1112.3,500.4 1112.7,500.5 1113.1,500.6 1113.5,500.3 1113.9,500.3 1114.3,500.2 1114.7,500.3 1115.1,500.4 1115.5,500.3 1115.9,500.5 1116.3,500.5 1116.7,500.4 1117.1,500.4 1117.5,500.6 1117.9,500.6 1118.3,500.3 1118.7,500.6 1119.1,500.4 1119.5,500.5 1119.9,500.3 1120.3,500.3 1120.7,500.5 1121.1,500.5 1121.5,500.4 1121.9,500.6 1122.3,500.7 1122.7,500.3 1123.1,500.5 1123.5,500.4 1123.9,500.5 1124.3,500.7 1124.7,500.6 1125.1,500.6 1125.5,500.2 1125.9,500.2 1126.3,500.1 1126.7,499.6 1127.1,498.8 1127.5,498.5 1127.9,498.3 1128.3,498.3 1128.7,498.8 1129.1,499.2 1129.5,499.9 1129.9,500.1 1130.3,500.5 1130.7,500.7 1131.1,500.5 1131.5,500.6 1131.9,500.7 1132.3,500.6 1132.7,500.4 1133.1,500.6 1133.5,500.7 1133.9,500.6 1134.3,500.5 1134.7,500.6 1135.1,500.6 1135.5,500.6 1135.9,500.7 1136.3,500.5 1136.7,500.7 1137.1,500.7 1137.5,500.6 1137.9,500.5 1138.3,500.5 1138.7,500.6 1139.1,500.8 1139.5,500.5 1139.9,500.5 1140.3,500.8 1140.7,500.7 1141.1,500.7 1141.5,500.8 1141.9,500.8 1142.3,500.6 1142.7,500.6 1143.1,500.7 1143.5,500.6 1143.9,500.6 1144.3,500.5 1144.7,500.5 1145.1,500.6 1145.5,500.6 1145.9,500.8 1146.3,500.7 1146.7,500.7 1147.1,500.5 1147.5,500.6 1147.9,500.8 1148.3,500.7 1148.7,500.7 1149.1,500.6 1149.5,500.5 1149.9,500.7 1150.3,500.6 1150.7,500.6 1151.1,500.4 1151.5,500.4 1151.9,500.2 1152.3,500 1152.7,499.7 1153.1,499.5 1153.5,499.6 1153.9,499.7 1154.3,499.9 1154.7,500.1 1155.1,500.4 1155.5,500.6 1155.9,500.6 1156.3,500.6 1156.7,500.7 1157.1,500.7 1157.5,500.8 1157.9,500.8 1158.3,500.8 1158.7,500.8 1159.1,500.7 1159.5,500.5 1159.9,500.7 1160.3,500.5 1160.7,500.6 1161.1,500.5 1161.5,500.6 1161.9,500.5 1162.3,500.6 1162.7,500.8 1163.1,500.8 1163.5,500.5 1163.9,500.7 1164.3,500.6 1164.7,500.5 1165.1,500.5 1165.5,500.7 1165.9,500.7 1166.3,500.6 1166.7,500.6 1167.1,500.8 1167.5,500.6 1167.9,500.8 1168.3,500.7 1168.7,500.6 1169.1,500.5 1169.5,500.5 1169.9,500.5 1170.3,500.7 1170.7,500.7 1171.1,500.7 1171.5,500.7 1171.9,500.8 1172.3,500.7 1172.7,500.7 1173.1,500.8 1173.5,500.6 1173.9,500.8 1174.3,500.7 1174.7,500.8 1175.1,500.8 1175.5,500.7 1175.9,500.6 1176.3,500.5 1176.7,500.6 1177.1,500.6 1177.5,500.7 1177.9,500.7 1178.3,500.7 1178.7,500.5 1179.1,500.6 1179.5,500.8 1179.9,500.6 1180.3,500.6 1180.7,500.6 1181.1,500.5 1181.5,500.7 1181.9,500.7 1182.3,500.8 1182.7,500.8 1183.1,500.6 1183.5,500.6 1183.9,500.6 1184.3,500.7 1184.7,500.6 1185.1,500.8 1185.5,500.7 1185.9,500.7 1186.3,500.8 1186.7,500.5 1187.1,500.8 1187.5,500.5 1187.9,500.6 1188.3,500.5 1188.7,500.7 1189.1,500.6 1189.5,500.7 1189.9,500.7 1190.3,500.6 1190.7,500.8 1191.1,500.7 1191.5,500.8 1191.9,500.8 1192.3,500.6 1192.7,500.8 1193.1,500.6 1193.5,500.8 1193.9,500.6 1194.3,500.8 1194.7,500.6 1195.1,500.7 1195.5,500.6 1195.9,500.8 1196.3,500.8 1196.7,500.8 1197.1,500.5 1197.5,500.6 1197.9,500.7 1198.3,500.6 1198.7,500.6 1199.1,500.8 1199.5,500.7 1199.9,500.8 1200.3,500.8 1200.7,500.8 1201.1,500.8 1201.5,500.7 1201.9,500.8 1202.3,500.8 1202.7,500.8 1203.1,500.8 1203.5,500.6 1203.9,500.8 1204.3,500.6 1204.7,500.8 1205.1,500.8 1205.5,500.8 1205.9,500.7 1206.3,500.8 1206.7,500.7 1207.1,500.6 1207.5,500.7 1207.9,500.8 1208.3,500.6 1208.7,500.8 1209.1,500.7 1209.5,500.8 1209.9,500.6 1210.3,500.7 1210.7,500.7 1211.1,500.8 1211.5,500.8 1211.9,500.8 1212.3,500.6 1212.7,500.6 1213.1,500.7 1213.5,500.8 1213.9,500.8 1214.3,500.6 1214.7,500.8 1215.1,500.7 1215.5,500.8 1215.9,500.7 1216.3,500.8 1216.7,500.6 1217.1,500.6 1217.5,500.7 1217.9,500.6 1218.3,500.7 1218.7,500.7 1219.1,500.6 1219.5,500.8 1219.9,500.8 1220.3,500.6 1220.7,500.7 1221.1,500.7 1221.5,500.7 1221.9,500.6 1222.3,500.8 1222.7,500.8 1223.1,500.8 1223.5,500.6 1223.9,500.7 1224.3,500.6 1224.7,500.6 1225.1,500.8 1225.5,500.7 1225.9,500.6 1226.3,500.7 1226.7,500.7 1227.1,500.7 1227.5,500.7 1227.9,500.8 1228.3,500.7 1228.7,500.6 1229.1,500.8 1229.5,500.8 1229.9,500.8 1230.3,500.8 1230.7,500.6 1231.1,500.7 1231.5,500.8 1231.9,500.7 1232.3,500.8 1232.7,500.8 1233.1,500.8 1233.5,500.7 1233.9,500.8 1234.3,500.7 1234.7,500.8" fill="none" stroke="#1a1a1a" stroke-width="1.3" stroke-linejoin="round"/>
<circle cx="909.8" cy="100.6" r="7.7" fill="#e5203f" stroke="#000" stroke-width="1.4"/>
<text x="902.8" y="87.8" font-size="23.7" text-anchor="middle">+12</text>
<circle cx="885.5" cy="277.3" r="7.7" fill="#e5203f" stroke="#000" stroke-width="1.4"/>
<text x="877.4" y="264.4" font-size="23.7" text-anchor="middle">+13</text>
<circle cx="936.5" cy="361.7" r="7.7" fill="#e5203f" stroke="#000" stroke-width="1.4"/>
<text x="931.5" y="348.9" font-size="23.7" text-anchor="middle">+11</text>
<circle cx="864.6" cy="465.5" r="7.7" fill="#e5203f" stroke="#000" stroke-width="1.4"/>
<text x="856.1" y="452" font-size="23.7" text-anchor="middle">+14</text>
<circle cx="970.3" cy="472.9" r="7.7" fill="#e5203f" stroke="#000" stroke-width="1.4"/>
<text x="960.8" y="459.1" font-size="23.7" text-anchor="middle">+10</text>
<circle cx="999.7" cy="466.5" r="6.7" fill="#ef8119" stroke="#000" stroke-width="1.2"/>
<circle cx="1008.1" cy="466.5" r="6.7" fill="#ef8119" stroke="#000" stroke-width="1.2"/>
<text transform="translate(975.8 430) rotate(45)" font-size="23.7" text-anchor="start">+18</text>
<circle cx="1030.8" cy="461.1" r="6.7" fill="#ef8119" stroke="#000" stroke-width="1.2"/>
<circle cx="1039.2" cy="461.1" r="6.7" fill="#ef8119" stroke="#000" stroke-width="1.2"/>
<text transform="translate(1010.2 427.3) rotate(45)" font-size="23.7" text-anchor="start">+17</text>
<circle cx="1063.9" cy="474.9" r="6.7" fill="#ef8119" stroke="#000" stroke-width="1.2"/>
<circle cx="1072.3" cy="474.9" r="6.7" fill="#ef8119" stroke="#000" stroke-width="1.2"/>
<text transform="translate(1046 437.4) rotate(45)" font-size="23.7" text-anchor="start">+16</text>
<rect x="1041.2" y="162.4" width="47.3" height="189.5" fill="#e5203f"/>
<rect x="1108.1" y="328.3" width="47.3" height="23.6" fill="#ef8119"/>
<text x="1064.5" y="156.4" font-size="23.7" text-anchor="middle">89</text>
<text x="1130.4" y="321.2" font-size="23.7" text-anchor="middle">11</text>
<text transform="translate(1023.7 243.2) rotate(-90)" font-size="36" text-anchor="middle">%</text>
<circle cx="1066.2" cy="373.2" r="12" fill="#e5203f" stroke="#000" stroke-width="1.4"/>
<circle cx="1124.3" cy="373.2" r="11.3" fill="#ef8119" stroke="#000" stroke-width="1.4"/>
<circle cx="1137.1" cy="373.2" r="11.3" fill="#ef8119" stroke="#000" stroke-width="1.4"/>
<g transform="translate(1203 107.7) scale(1.000)">
<path d="M-33.7,247.3 A33.7,7.9 0 0 1 33.7,247.3 L33.7,278.3 A33.7,7.9 0 0 1 -33.7,278.3 Z" fill="#cbd6e9" stroke="#bfbcb7" stroke-width="1.1"/>
<path d="M-33.7,247.3 A33.7,7.9 0 0 0 33.7,247.3" fill="none" stroke="#bfbcb7" stroke-width="1.1"/>
<line x1="0" y1="67" x2="0" y2="245.6" stroke="#000" stroke-width="1.5"/>
<rect x="-13.3" y="0" width="26.6" height="68" rx="13.3" ry="13.3" fill="#690033" stroke="#000" stroke-width="1.5"/>
<rect x="-13.3" y="78.3" width="26.6" height="68" rx="13.3" ry="13.3" fill="#006a6b" stroke="#000" stroke-width="1.5"/>
<rect x="-13.3" y="156.5" width="26.6" height="68" rx="13.3" ry="13.3" fill="#006633" stroke="#000" stroke-width="1.5"/>
<rect x="-13.3" y="243.6" width="26.6" height="38.2" rx="13.3" ry="13.3" fill="#9b0000" stroke="#000" stroke-width="1.5"/>
<path transform="translate(0 281.8)" d="M2.7,0 C2,3 0.5,5 0.3,8.1 C0.1,12 0.3,15 -0.2,17.7 C-0.7,20.5 -1.8,22 -3,22 C-5,22 -5.9,18.5 -5.9,14.8 C-5.9,11 -5,8.6 -3,8.6 C-1,8.3 1,8.3 2.7,9.1 C6.5,10.5 8.7,14 9.4,17.7 C10,20.5 10.4,23 10.2,25.3 C10,29 9.2,32 8,33.5 C7.2,34.5 6,34.3 5.1,33.9 C3,33 1.5,31 -0.2,30.6 L6.1,51.2 L-4.2,44.3" fill="none" stroke="#000" stroke-width="1.7" stroke-linejoin="round" stroke-linecap="round"/>
</g>
<path d="M1196.5,100.3 L1177,100.3 L1177,117.8 M1209.8,100.3 L1229.3,100.3 L1229.3,117.8 M1196.5,341.1 L1177,341.1 L1177,323.6 M1209.8,341.1 L1229.3,341.1 L1229.3,323.6 M1177,159.7 L1177,199.7 M1229.3,159.7 L1229.3,199.7 M1177,241.7 L1177,281.7 M1229.3,241.7 L1229.3,281.7" fill="none" stroke="#e8274b" stroke-width="1.5"/>
<text x="1307.3" y="29.7" font-size="47" text-anchor="start" style="stroke-width:.4px">e</text>
<text x="1603.2" y="25.9" font-size="35.6" text-anchor="middle">C2</text>
<line x1="1357.2" y1="111.2" x2="1357.2" y2="500.7" stroke="#1a1a1a" stroke-width="1.4"/>
<line x1="1349.2" y1="500" x2="1885.9" y2="500" stroke="#1a1a1a" stroke-width="1.4"/>
<line x1="1349.2" y1="111.9" x2="1357.2" y2="111.9" stroke="#1a1a1a" stroke-width="1.4"/>
<line x1="1352.8" y1="305.9" x2="1357.2" y2="305.9" stroke="#1a1a1a" stroke-width="1.4"/>
<text x="1346.3" y="118.9" font-size="23.7" text-anchor="end">100</text>
<text x="1343.9" y="502.9" font-size="23.7" text-anchor="end">0</text>
<line x1="1357.2" y1="500" x2="1357.2" y2="507.9" stroke="#1a1a1a" stroke-width="1.4"/>
<text transform="translate(1370.6 518.6) rotate(-45)" font-size="23.7" text-anchor="end">1000</text>
<line x1="1383.6" y1="500" x2="1383.6" y2="504.7" stroke="#1a1a1a" stroke-width="1.4"/>
<line x1="1410" y1="500" x2="1410" y2="507.9" stroke="#1a1a1a" stroke-width="1.4"/>
<text transform="translate(1423.4 518.6) rotate(-45)" font-size="23.7" text-anchor="end">1500</text>
<line x1="1436.4" y1="500" x2="1436.4" y2="504.7" stroke="#1a1a1a" stroke-width="1.4"/>
<line x1="1462.8" y1="500" x2="1462.8" y2="507.9" stroke="#1a1a1a" stroke-width="1.4"/>
<text transform="translate(1476.2 518.6) rotate(-45)" font-size="23.7" text-anchor="end">2000</text>
<line x1="1489.2" y1="500" x2="1489.2" y2="504.7" stroke="#1a1a1a" stroke-width="1.4"/>
<line x1="1515.6" y1="500" x2="1515.6" y2="507.9" stroke="#1a1a1a" stroke-width="1.4"/>
<text transform="translate(1529 518.6) rotate(-45)" font-size="23.7" text-anchor="end">2500</text>
<line x1="1542" y1="500" x2="1542" y2="504.7" stroke="#1a1a1a" stroke-width="1.4"/>
<line x1="1568.4" y1="500" x2="1568.4" y2="507.9" stroke="#1a1a1a" stroke-width="1.4"/>
<text transform="translate(1581.8 518.6) rotate(-45)" font-size="23.7" text-anchor="end">3000</text>
<line x1="1594.8" y1="500" x2="1594.8" y2="504.7" stroke="#1a1a1a" stroke-width="1.4"/>
<line x1="1621.2" y1="500" x2="1621.2" y2="507.9" stroke="#1a1a1a" stroke-width="1.4"/>
<text transform="translate(1634.6 518.6) rotate(-45)" font-size="23.7" text-anchor="end">3500</text>
<line x1="1647.6" y1="500" x2="1647.6" y2="504.7" stroke="#1a1a1a" stroke-width="1.4"/>
<line x1="1674" y1="500" x2="1674" y2="507.9" stroke="#1a1a1a" stroke-width="1.4"/>
<text transform="translate(1687.4 518.6) rotate(-45)" font-size="23.7" text-anchor="end">4000</text>
<line x1="1700.4" y1="500" x2="1700.4" y2="504.7" stroke="#1a1a1a" stroke-width="1.4"/>
<line x1="1726.8" y1="500" x2="1726.8" y2="507.9" stroke="#1a1a1a" stroke-width="1.4"/>
<text transform="translate(1740.2 518.6) rotate(-45)" font-size="23.7" text-anchor="end">4500</text>
<line x1="1753.2" y1="500" x2="1753.2" y2="504.7" stroke="#1a1a1a" stroke-width="1.4"/>
<line x1="1779.6" y1="500" x2="1779.6" y2="507.9" stroke="#1a1a1a" stroke-width="1.4"/>
<text transform="translate(1793 518.6) rotate(-45)" font-size="23.7" text-anchor="end">5000</text>
<line x1="1806" y1="500" x2="1806" y2="504.7" stroke="#1a1a1a" stroke-width="1.4"/>
<line x1="1832.4" y1="500" x2="1832.4" y2="507.9" stroke="#1a1a1a" stroke-width="1.4"/>
<text transform="translate(1845.8 518.6) rotate(-45)" font-size="23.7" text-anchor="end">5500</text>
<line x1="1858.8" y1="500" x2="1858.8" y2="504.7" stroke="#1a1a1a" stroke-width="1.4"/>
<line x1="1885.2" y1="500" x2="1885.2" y2="507.9" stroke="#1a1a1a" stroke-width="1.4"/>
<text transform="translate(1898.6 518.6) rotate(-45)" font-size="23.7" text-anchor="end">6000</text>
<text transform="translate(1317.2 307.9) rotate(-90)" font-size="24" text-anchor="middle">relative intensity</text>
<text transform="translate(1346 306.9) rotate(-90)" font-size="24" text-anchor="middle">[%]</text>
<text x="1602.2" y="582" font-size="30" text-anchor="middle">m/z</text>
<path d="M1357.2,499.4 1357.6,499.3 1358,499.3 1358.4,499.3 1358.8,499.3 1359.2,499.3 1359.6,499.6 1360,499.4 1360.4,499.3 1360.8,499.4 1361.2,499.3 1361.6,499.6 1362,499.4 1362.4,499.5 1362.8,499.4 1363.2,499.4 1363.6,499.6 1364,499.5 1364.4,499.5 1364.8,499.3 1365.2,499.3 1365.6,499.5 1366,499.3 1366.4,499.6 1366.8,499.4 1367.2,499.6 1367.6,499.6 1368,499.3 1368.4,499.5 1368.8,499.5 1369.2,499.2 1369.6,499.3 1370,499.5 1370.4,499.3 1370.8,499.4 1371.2,499.4 1371.6,499.5 1372,499.3 1372.4,499.4 1372.8,499.3 1373.2,499.3 1373.6,499.5 1374,499.5 1374.4,499.5 1374.8,499.5 1375.2,499.6 1375.6,499.5 1376,499.4 1376.4,499.6 1376.8,499.4 1377.2,499.5 1377.6,499.5 1378,499.3 1378.4,499.4 1378.7,499.4 1378.8,499.2 1379,498.9 1379.2,498.5 1379.2,498 1379.3,498 1379.4,498.2 1379.6,498.9 1379.6,499.2 1379.9,499.2 1380,499.4 1380.4,499.4 1380.8,499.6 1381.2,499.6 1381.6,499.5 1382,499.3 1382.4,499.5 1382.8,499.3 1383.2,499.3 1383.6,499.3 1384,499.5 1384.4,499.5 1384.8,499.4 1385.2,499.3 1385.6,499.6 1386,499.3 1386.4,499.3 1386.8,499.3 1387.2,499.6 1387.6,499.3 1388,499.6 1388.4,499.5 1388.8,499.4 1389.2,499.3 1389.6,499.5 1390,499.3 1390.4,499.4 1390.8,499.5 1391.2,499.5 1391.6,499.5 1392,499.5 1392.4,499.5 1392.8,499.3 1393.2,499.1 1393.6,499.2 1393.9,498.9 1394,498.3 1394.2,497.5 1394.4,495.4 1394.4,494.8 1394.5,494.1 1394.6,495.1 1394.8,497.5 1394.8,497.7 1395.1,498.9 1395.2,498.8 1395.6,499.4 1396,499.3 1396.4,499.2 1396.8,499.5 1397.2,499.3 1397.6,499.2 1398,499.3 1398.4,499.3 1398.8,499.5 1399.2,499.4 1399.6,499.5 1400,499.3 1400.4,499.5 1400.8,499.4 1401.2,499.2 1401.6,499.3 1402,499.2 1402.4,499.4 1402.8,499.4 1403.2,499.3 1403.6,499.4 1404,499.5 1404.4,499.4 1404.8,499.5 1405.2,499.5 1405.6,499.2 1406,499.2 1406.4,499.4 1406.8,499.4 1407.2,499.5 1407.6,499.6 1408,499.5 1408.4,499.3 1408.8,499.3 1409.2,499.4 1409.6,499.3 1410,499.3 1410.4,499.3 1410.8,499.3 1411.2,499.3 1411.6,499.4 1412,499.3 1412.4,499.4 1412.8,499.3 1413.2,499.2 1413.6,499.1 1414,498.9 1414.2,498.4 1414.4,497.1 1414.5,496.5 1414.6,491.1 1414.8,486.3 1414.8,487.8 1414.9,491.2 1415,496.6 1415.2,497.9 1415.3,498.5 1415.6,498.9 1416,499.3 1416.4,499.2 1416.8,499.2 1417.2,499.2 1417.6,499.4 1418,499.2 1418.4,499.2 1418.8,499.3 1419.2,499.2 1419.6,499.2 1420,499.4 1420.4,499.4 1420.8,499.5 1421.2,499.3 1421.6,499.2 1422,499.4 1422.4,499.3 1422.8,499.3 1423.2,499.3 1423.6,499.5 1424,499.3 1424.4,499.3 1424.8,499.3 1425.2,499.4 1425.6,499.3 1426,499.3 1426.4,499.3 1426.8,499.3 1427.2,499.5 1427.6,499.5 1428,499.4 1428.4,499.3 1428.8,499.4 1429.2,499.3 1429.6,499.3 1430,499.5 1430.4,499.3 1430.8,499.4 1431.2,499.4 1431.6,499.4 1432,499.3 1432.4,499.4 1432.8,499.3 1433.2,499.4 1433.6,499.2 1434,499.2 1434.4,499.1 1434.8,499.1 1435.2,499.2 1435.6,498.9 1436,499.2 1436.4,499 1436.8,498.9 1437.2,498.8 1437.6,498.7 1438,498.3 1438.4,498.1 1438.8,497.7 1439.2,496.4 1439.5,494.4 1439.6,492.3 1439.8,485.4 1440,461.2 1440,451.9 1440.1,441.2 1440.2,462.4 1440.4,484.7 1440.4,485.8 1440.7,492.3 1440.8,493 1441.2,492 1441.6,487.7 1442,474.3 1442.2,459.2 1442.4,413 1442.5,377.3 1442.7,211 1442.8,112.9 1442.8,115.5 1442.9,180.7 1443.1,332 1443.2,390.9 1443.4,436.9 1443.6,462.9 1444,481.7 1444.4,488.3 1444.5,489.3 1444.8,488.8 1444.8,488.1 1445,483.5 1445.1,480.7 1445.2,481.2 1445.3,482.2 1445.4,486.1 1445.6,489.1 1445.7,491.4 1446,493.9 1446.4,495.9 1446.8,496.6 1447.2,497.4 1447.6,497.9 1448,498.1 1448.4,498.4 1448.8,498.4 1449.2,498.6 1449.6,498.8 1450,498.7 1450.4,498.7 1450.8,499.1 1451.2,498.9 1451.6,499.1 1452,498.9 1452.4,499 1452.8,499.2 1453.2,499.2 1453.6,499.3 1454,499 1454.4,499.2 1454.8,499.1 1455.2,499.2 1455.6,499.2 1456,499.2 1456.4,499.1 1456.8,499.4 1457.2,499.1 1457.6,499.3 1458,499.2 1458.4,499.2 1458.7,499.1 1458.8,498.9 1459,498.4 1459.2,497.1 1459.2,496.9 1459.3,496 1459.5,497.2 1459.6,498.4 1459.6,498.4 1459.9,498.9 1460,498.9 1460.4,499.2 1460.8,499.4 1461.2,499.2 1461.6,499.3 1462,499.3 1462.4,499.2 1462.8,499.3 1463.2,499.3 1463.6,499.2 1464,499.4 1464.4,499.3 1464.8,499.2 1465.2,499.4 1465.6,499.4 1466,499.2 1466.4,499.5 1466.8,499.2 1467.2,499.2 1467.6,499.3 1468,499.4 1468.4,499.2 1468.8,499.1 1469.2,499.4 1469.6,499.3 1470,499.3 1470.4,499.3 1470.8,499.3 1471.2,499.4 1471.6,499.2 1472,499.1 1472.4,499.4 1472.8,499.3 1473.2,499.1 1473.6,499 1474,499 1474.4,499.2 1474.8,498.9 1475.2,498.7 1475.6,498.6 1476,498.5 1476.4,498.4 1476.8,497.2 1477,496.6 1477.2,493.1 1477.3,491.1 1477.4,477.1 1477.6,463.9 1477.6,465.4 1477.7,475.6 1477.9,490.6 1478,494 1478.2,495.6 1478.4,496.4 1478.8,496 1479.2,494.6 1479.6,490.5 1480,476.5 1480.3,430 1480.4,387.4 1480.5,335.1 1480.6,273.3 1480.7,309.8 1480.8,353.9 1480.9,399.4 1481.2,462.4 1481.6,484.4 1482,491.4 1482.4,494.1 1482.7,495.2 1482.8,495.3 1483,494.4 1483.2,492.5 1483.2,492.1 1483.3,491.3 1483.4,491.7 1483.6,493.4 1483.6,493.5 1483.9,495.9 1484,496.2 1484.4,497.5 1484.8,497.9 1485.2,498.3 1485.6,498.7 1486,498.8 1486.4,498.8 1486.8,498.8 1487.2,499.1 1487.6,498.9 1488,499 1488.4,499.2 1488.8,499 1489.2,499.3 1489.6,499.3 1490,499.1 1490.4,499.3 1490.8,499.1 1491.2,499.2 1491.6,499.3 1492,499.1 1492.4,499.4 1492.8,499.2 1493.2,499.4 1493.6,499.4 1494,499.1 1494.4,499.2 1494.8,499.4 1495.2,499.4 1495.6,499.1 1496,499.2 1496.4,499.2 1496.8,499.4 1497.2,499.2 1497.6,499.3 1498,499.3 1498.4,499.3 1498.8,499.2 1499.2,499.3 1499.6,499.2 1500,499.3 1500.4,499 1500.8,499.1 1501.2,498.9 1501.6,499 1502,498.8 1502.4,498.7 1502.8,498.4 1503.2,497.9 1503.6,496.2 1503.7,496 1504,490.1 1504,487.6 1504.1,476.4 1504.2,467.3 1504.4,476.7 1504.4,479.9 1504.5,489 1504.8,493.2 1504.8,493.2 1505.2,490.4 1505.3,487.4 1505.6,469.5 1505.6,465.3 1505.8,419.8 1505.9,390.1 1506,395 1506,403.9 1506.2,443.1 1506.4,466.4 1506.5,476.6 1506.8,487.1 1507.2,492.7 1507.4,493.6 1507.6,493.6 1507.7,493.3 1507.8,491.4 1508,490.8 1508,490.6 1508.1,491.2 1508.3,492.5 1508.4,493.8 1508.6,495 1508.8,496.3 1509.2,497.2 1509.6,498.1 1510,498.3 1510.4,498.6 1510.8,498.7 1511.2,498.8 1511.6,499 1512,499.1 1512.4,499.2 1512.8,499.2 1513.2,499.3 1513.6,499.2 1514,499 1514.4,499.2 1514.8,499.3 1515.2,499.2 1515.6,499.3 1516,499.2 1516.4,499.2 1516.8,499.4 1517.2,499.4 1517.6,499.2 1518,499.1 1518.4,499.3 1518.8,499.3 1519.2,499.1 1519.6,499.5 1520,499.5 1520.4,499.2 1520.8,499.4 1521.2,499.5 1521.6,499.3 1522,499.2 1522.4,499.3 1522.8,499.4 1523.2,499.5 1523.6,499.5 1524,499.2 1524.4,499.3 1524.8,499.2 1525.2,499.5 1525.6,499.4 1526,499.5 1526.4,499.4 1526.8,499.5 1527.2,499.4 1527.6,499.4 1528,499.4 1528.4,499.5 1528.8,499.5 1529.2,499.1 1529.6,499.4 1530,499.3 1530.4,499.3 1530.8,499.2 1531.2,499.4 1531.6,499.3 1532,499.3 1532.4,499.1 1532.8,498.9 1533.2,499 1533.6,498.8 1534,498.8 1534.4,498.5 1534.8,497.5 1535,496.2 1535.2,494.5 1535.3,490.6 1535.5,477.6 1535.6,470.2 1535.7,467.5 1535.8,476.5 1536,489.6 1536,491.1 1536.2,494.7 1536.4,495.1 1536.8,493 1537.1,487.5 1537.2,481.8 1537.4,463.5 1537.6,415.5 1537.6,401.4 1537.7,385.9 1537.8,401 1538,441.7 1538,445.3 1538.3,475.9 1538.4,482 1538.8,491.4 1539.2,494.3 1539.4,495.2 1539.6,495 1539.7,494.2 1539.9,492.1 1540,491.4 1540,491.2 1540.2,491.7 1540.3,493 1540.4,493.5 1540.6,495.2 1540.8,496.1 1541.2,497.3 1541.6,498 1542,498.4 1542.4,498.5 1542.8,498.7 1543.2,498.7 1543.6,498.9 1544,498.9 1544.4,499.2 1544.8,499 1545.2,499.2 1545.6,499.3 1546,499.4 1546.4,499.3 1546.8,499.3 1547.2,499.2 1547.6,499.3 1548,499.4 1548.4,499.2 1548.8,499.3 1549.2,499.5 1549.6,499.5 1550,499.5 1550.4,499.4 1550.8,499.2 1551.2,499.2 1551.6,499.3 1552,499.4 1552.4,499.4 1552.8,499.4 1553.2,499.4 1553.6,499.5 1554,499.3 1554.4,499.2 1554.8,499.3 1555.2,499.5 1555.6,499.4 1556,499.5 1556.4,499.3 1556.8,499.4 1557.2,499.2 1557.6,499.3 1558,499.5 1558.4,499.4 1558.8,499.2 1559.2,499.4 1559.6,499.4 1560,499.4 1560.4,499.2 1560.8,499.1 1561.2,499.2 1561.6,499 1562,498.9 1562.4,498.5 1562.4,498.2 1562.7,496.5 1562.8,495.4 1562.9,493.7 1563,492.9 1563.1,493.1 1563.2,493.6 1563.3,494.4 1563.6,496.7 1563.6,496.9 1564,498.2 1564.4,498.8 1564.8,498.9 1565.2,499.1 1565.6,499.1 1566,499.3 1566.4,499.3 1566.8,499.4 1567.2,499.1 1567.6,499.2 1568,499.2 1568.4,499.3 1568.8,499.4 1569.2,499.5 1569.6,499.3 1570,499.4 1570.4,499.5 1570.8,499.5 1571.2,499.5 1571.6,499.3 1572,499.2 1572.4,499.5 1572.8,499.3 1573.2,499.5 1573.6,499.3 1574,499.3 1574.4,499.4 1574.8,499.3 1575.2,499.4 1575.6,499.6 1576,499.4 1576.4,499.3 1576.8,499.5 1577.2,499.4 1577.6,499.2 1577.6,499.3 1577.9,498.8 1578,498.4 1578.1,497.9 1578.2,497.4 1578.3,498 1578.4,498.1 1578.5,498.6 1578.8,499 1578.8,499.1 1579.2,499.3 1579.6,499.3 1580,499.3 1580.4,499.4 1580.8,499.4 1581.2,499.3 1581.6,499.4 1582,499.5 1582.4,499.6 1582.8,499.6 1583.2,499.5 1583.6,499.4 1584,499.3 1584.4,499.3 1584.8,499.5 1585.2,499.3 1585.6,499.5 1586,499.3 1586.4,499.6 1586.8,499.3 1587.2,499.4 1587.6,499.2 1588,499.3 1588.4,499.3 1588.8,499.3 1589.2,499.3 1589.6,499.4 1590,499.5 1590.4,499.4 1590.8,499.3 1591.2,499.5 1591.6,499.2 1592,499.4 1592.4,499.4 1592.8,499.5 1593.2,499.3 1593.6,499.2 1593.8,498.8 1594,498.3 1594.1,497.7 1594.3,496 1594.4,495.2 1594.4,495.3 1594.5,495.3 1594.7,496.4 1594.8,496.8 1595,497.9 1595.2,498.2 1595.6,499 1596,499.2 1596.4,499.3 1596.8,499.2 1597.2,499.2 1597.6,499.5 1598,499.3 1598.4,499.3 1598.8,499.5 1599.2,499.5 1599.6,499.4 1600,499.3 1600.4,499.2 1600.8,499.3 1601.2,499.4 1601.6,499.4 1602,499.3 1602.3,499.1 1602.4,499.2 1602.6,498.9 1602.7,498.3 1602.8,498.1 1602.9,498.3 1603,498.5 1603.2,499 1603.2,498.9 1603.5,499.2 1603.6,499.4 1604,499.5 1604.4,499.3 1604.8,499.3 1605.2,499.3 1605.6,499.3 1606,499.6 1606.4,499.4 1606.8,499.3 1607.2,499.2 1607.6,499.5 1608,499.3 1608.4,499.4 1608.8,499.3 1609.2,499.5 1609.6,499.3 1610,499.3 1610.4,499.4 1610.8,499.6 1611.2,499.5 1611.6,499.5 1612,499.6 1612.4,499.5 1612.8,499.4 1613.2,499.6 1613.6,499.3 1614,499.3 1614.4,499.3 1614.8,499.3 1615.2,499.3 1615.6,499.3 1616,499.3 1616.4,499.4 1616.8,499.3 1617.2,499.6 1617.6,499.6 1618,499.6 1618.4,499.5 1618.8,499.5 1619.2,499.4 1619.6,499.4 1620,499.3 1620.4,499.6 1620.8,499.5 1621.2,499.4 1621.6,499.5 1622,499.6 1622.4,499.4 1622.8,499.5 1623.2,499.4 1623.6,499.4 1624,499.3 1624.4,499.3 1624.8,499.6 1625.2,499.3 1625.6,499.3 1626,499.5 1626.4,499.6 1626.8,499.4 1627.2,499.5 1627.6,499.3 1628,499.3 1628.4,499.5 1628.8,499.5 1629.2,499.4 1629.6,499.2 1630,499.1 1630.4,498.9 1630.8,498.8 1631.2,498.6 1631.6,498.4 1632,498.6 1632.4,498.9 1632.8,499 1633.2,499.3 1633.6,499.3 1634,499.5 1634.4,499.5 1634.8,499.6 1635.2,499.4 1635.6,499.3 1636,499.4 1636.4,499.5 1636.8,499.3 1637.2,499.6 1637.6,499.5 1638,499.3 1638.4,499.6 1638.8,499.3 1639.2,499.5 1639.6,499.6 1640,499.5 1640.4,499.4 1640.8,499.5 1641.2,499.4 1641.6,499.6 1642,499.5 1642.4,499.3 1642.8,499.4 1643.2,499.4 1643.6,499.6 1644,499.5 1644.4,499.3 1644.8,499.4 1645.2,499.4 1645.6,499.6 1646,499.5 1646.4,499.3 1646.8,499.5 1647.2,499.4 1647.6,499.3 1648,499.4 1648.4,499.4 1648.8,499.6 1649.2,499.6 1649.6,499.3 1650,499.5 1650.4,499.3 1650.8,499.3 1651.2,499.3 1651.6,499.5 1652,499.2 1652.4,499.3 1652.8,499.3 1653.2,499.6 1653.6,499.3 1654,499.5 1654.4,499.3 1654.8,499.2 1655.2,499.5 1655.6,499.5 1656,499.5 1656.4,499.4 1656.8,499.5 1657.2,499.4 1657.6,499.6 1658,499.5 1658.4,499.4 1658.8,499.6 1659.2,499.5 1659.6,499.3 1660,499.3 1660.4,499.5 1660.8,499.6 1661.2,499.3 1661.6,499.3 1662,499.4 1662.4,499.6 1662.8,499.5 1663.2,499.3 1663.6,499.3 1664,499.6 1664.4,499.5 1664.8,499.5 1665.2,499.5 1665.6,499.3 1666,499.5 1666.4,499.3 1666.8,499.6 1667.2,499.4 1667.6,499.3 1668,499.4 1668.4,499.6 1668.8,499.6 1669.2,499.4 1669.6,499.5 1670,499.5 1670.4,499.4 1670.8,499.4 1671.2,499.3 1671.6,499.5 1672,499.4 1672.4,499.5 1672.8,499.4 1673.2,499.3 1673.6,499.6 1674,499.4 1674.4,499.4 1674.8,499.6 1675.2,499.3 1675.6,499.5 1676,499.4 1676.4,499.4 1676.8,499.3 1677.2,499.6 1677.6,499.4 1678,499.6 1678.4,499.5 1678.8,499.5 1679.2,499.6 1679.6,499.5 1680,499.4 1680.4,499.4 1680.8,499.3 1681.2,499.5 1681.6,499.4 1682,499.4 1682.4,499.3 1682.8,499.3 1683.2,499.3 1683.6,499.5 1684,499.5 1684.4,499.3 1684.8,499.6 1685.2,499.4 1685.6,499.3 1686,499.4 1686.4,499.5 1686.8,499.3 1687.2,499.5 1687.6,499.4 1688,499.3 1688.4,499.6 1688.8,499.5 1689.2,499.4 1689.6,499.4 1690,499.5 1690.4,499.4 1690.8,499.6 1691.2,499.6 1691.6,499.5 1692,499.6 1692.4,499.3 1692.8,499.5 1693.2,499.5 1693.6,499.3 1694,499.3 1694.4,499.5 1694.8,499.3 1695.2,499.4 1695.6,499.5 1696,499.4 1696.4,499.5 1696.8,499.5 1697.2,499.3 1697.6,499.5 1698,499.3 1698.4,499.5 1698.8,499.6 1699.2,499.6 1699.6,499.3 1700,499.4 1700.4,499.6 1700.8,499.6 1701.2,499.3 1701.6,499.4 1702,499.3 1702.4,499.6 1702.8,499.4 1703.2,499.6 1703.6,499.3 1704,499.4 1704.4,499.4 1704.8,499.5 1705.2,499.3 1705.6,499.6 1706,499.6 1706.4,499.4 1706.8,499.6 1707.2,499.6 1707.6,499.4 1708,499.4 1708.4,499.3 1708.8,499.3 1709.2,499.6 1709.6,499.4 1710,499.3 1710.4,499.6 1710.8,499.3 1711.2,499.5 1711.6,499.5 1712,499.6 1712.4,499.3 1712.8,499.4 1713.2,499.3 1713.6,499.4 1714,499.6 1714.4,499.5 1714.8,499.5 1715.2,499.3 1715.6,499.5 1716,499.6 1716.4,499.5 1716.8,499.6 1717.2,499.5 1717.6,499.4 1718,499.4 1718.4,499.5 1718.8,499.6 1719.2,499.4 1719.6,499.4 1720,499.4 1720.4,499.4 1720.8,499.3 1721.2,499.6 1721.6,499.5 1722,499.4 1722.4,499.4 1722.8,499.3 1723.2,499.4 1723.6,499.4 1724,499.5 1724.4,499.3 1724.8,499.3 1725.2,499.5 1725.6,499.6 1726,499.5 1726.4,499.5 1726.8,499.3 1727.2,499.5 1727.6,499.4 1728,499.4 1728.4,499.3 1728.8,499.6 1729.2,499.3 1729.6,499.5 1730,499.6 1730.4,499.4 1730.8,499.3 1731.2,499.4 1731.6,499.6 1732,499.3 1732.4,499.5 1732.8,499.4 1733.2,499.3 1733.6,499.5 1734,499.5 1734.4,499.5 1734.8,499.6 1735.2,499.6 1735.6,499.3 1736,499.5 1736.4,499.3 1736.8,499.6 1737.2,499.5 1737.6,499.5 1738,499.3 1738.4,499.3 1738.8,499.3 1739.2,499.4 1739.6,499.6 1740,499.5 1740.4,499.5 1740.8,499.6 1741.2,499.4 1741.6,499.5 1742,499.6 1742.4,499.4 1742.8,499.3 1743.2,499.3 1743.6,499.4 1744,499.6 1744.4,499.3 1744.8,499.6 1745.2,499.4 1745.6,499.6 1746,499.3 1746.4,499.4 1746.8,499.5 1747.2,499.5 1747.6,499.4 1748,499.3 1748.4,499.5 1748.8,499.5 1749.2,499.4 1749.6,499.3 1750,499.5 1750.4,499.4 1750.8,499.3 1751.2,499.5 1751.6,499.3 1752,499.4 1752.4,499.6 1752.8,499.6 1753.2,499.3 1753.6,499.4 1754,499.4 1754.4,499.3 1754.8,499.4 1755.2,499.4 1755.6,499.5 1756,499.3 1756.4,499.5 1756.8,499.4 1757.2,499.3 1757.6,499.4 1758,499.6 1758.4,499.5 1758.8,499.4 1759.2,499.3 1759.6,499.6 1760,499.2 1760.4,499.6 1760.8,499.5 1761.2,499.6 1761.6,499.4 1762,499.4 1762.4,499.3 1762.8,499.5 1763.2,499.4 1763.6,499.6 1764,499.4 1764.4,499.5 1764.8,499.5 1765.2,499.6 1765.6,499.3 1766,499.6 1766.4,499.3 1766.8,499.5 1767.2,499.4 1767.6,499.4 1768,499.4 1768.4,499.3 1768.8,499.3 1769.2,499.5 1769.6,499.5 1770,499.3 1770.4,499.6 1770.8,499.5 1771.2,499.5 1771.6,499.3 1772,499.6 1772.4,499.4 1772.8,499.3 1773.2,499.3 1773.6,499.6 1774,499.3 1774.4,499.5 1774.8,499.3 1775.2,499.4 1775.6,499.5 1776,499.3 1776.4,499.4 1776.8,499.5 1777.2,499.3 1777.6,499.4 1778,499.4 1778.4,499.4 1778.8,499.3 1779.2,499.6 1779.6,499.4 1780,499.6 1780.4,499.3 1780.8,499.3 1781.2,499.3 1781.6,499.6 1782,499.4 1782.4,499.4 1782.8,499.6 1783.2,499.5 1783.6,499.3 1784,499.3 1784.4,499.5 1784.8,499.3 1785.2,499.4 1785.6,499.5 1786,499.4 1786.4,499.5 1786.8,499.5 1787.2,499.6 1787.6,499.4 1788,499.4 1788.4,499.3 1788.8,499.4 1789.2,499.5 1789.6,499.5 1790,499.3 1790.4,499.5 1790.8,499.4 1791.2,499.3 1791.6,499.4 1792,499.4 1792.4,499.6 1792.8,499.5 1793.2,499.3 1793.6,499.6 1794,499.6 1794.4,499.6 1794.8,499.3 1795.2,499.6 1795.6,499.4 1796,499.5 1796.4,499.3 1796.8,499.4 1797.2,499.4 1797.6,499.6 1798,499.3 1798.4,499.3 1798.8,499.4 1799.2,499.3 1799.6,499.4 1800,499.4 1800.4,499.3 1800.8,499.4 1801.2,499.6 1801.6,499.3 1802,499.3 1802.4,499.5 1802.8,499.6 1803.2,499.5 1803.6,499.6 1804,499.5 1804.4,499.6 1804.8,499.5 1805.2,499.6 1805.6,499.5 1806,499.5 1806.4,499.3 1806.8,499.5 1807.2,499.5 1807.6,499.3 1808,499.3 1808.4,499.4 1808.8,499.5 1809.2,499.5 1809.6,499.4 1810,499.5 1810.4,499.6 1810.8,499.4 1811.2,499.3 1811.6,499.4 1812,499.3 1812.4,499.4 1812.8,499.3 1813.2,499.3 1813.6,499.3 1814,499.3 1814.4,499.5 1814.8,499.4 1815.2,499.4 1815.6,499.3 1816,499.4 1816.4,499.4 1816.8,499.5 1817.2,499.5 1817.6,499.5 1818,499.4 1818.4,499.3 1818.8,499.5 1819.2,499.4 1819.6,499.3 1820,499.5 1820.4,499.6 1820.8,499.4 1821.2,499.5 1821.6,499.6 1822,499.5 1822.4,499.6 1822.8,499.6 1823.2,499.5 1823.6,499.6 1824,499.6 1824.4,499.4 1824.8,499.3 1825.2,499.3 1825.6,499.5 1826,499.3 1826.4,499.6 1826.8,499.6 1827.2,499.6 1827.6,499.6 1828,499.4 1828.4,499.3 1828.8,499.4 1829.2,499.3 1829.6,499.4 1830,499.3 1830.4,499.4 1830.8,499.4 1831.2,499.5 1831.6,499.5 1832,499.4 1832.4,499.3 1832.8,499.5 1833.2,499.5 1833.6,499.3 1834,499.6 1834.4,499.4 1834.8,499.5 1835.2,499.4 1835.6,499.4 1836,499.6 1836.4,499.3 1836.8,499.5 1837.2,499.5 1837.6,499.3 1838,499.3 1838.4,499.5 1838.8,499.4 1839.2,499.6 1839.6,499.4 1840,499.6 1840.4,499.4 1840.8,499.3 1841.2,499.4 1841.6,499.6 1842,499.4 1842.4,499.4 1842.8,499.4 1843.2,499.6 1843.6,499.5 1844,499.4 1844.4,499.6 1844.8,499.4 1845.2,499.5 1845.6,499.5 1846,499.6 1846.4,499.5 1846.8,499.3 1847.2,499.5 1847.6,499.6 1848,499.5 1848.4,499.3 1848.8,499.6 1849.2,499.5 1849.6,499.5 1850,499.4 1850.4,499.4 1850.8,499.6 1851.2,499.3 1851.6,499.5 1852,499.4 1852.4,499.4 1852.8,499.3 1853.2,499.6 1853.6,499.5 1854,499.5 1854.4,499.5 1854.8,499.3 1855.2,499.4 1855.6,499.5 1856,499.4 1856.4,499.3 1856.8,499.4 1857.2,499.4 1857.6,499.4 1858,499.4 1858.4,499.5 1858.8,499.5 1859.2,499.6 1859.6,499.4 1860,499.3 1860.4,499.5 1860.8,499.5 1861.2,499.4 1861.6,499.4 1862,499.5 1862.4,499.4 1862.8,499.3 1863.2,499.6 1863.6,499.6 1864,499.3 1864.4,499.3 1864.8,499.6 1865.2,499.6 1865.6,499.4 1866,499.5 1866.4,499.4 1866.8,499.6 1867.2,499.4 1867.6,499.5 1868,499.5 1868.4,499.4 1868.8,499.4 1869.2,499.3 1869.6,499.3 1870,499.4 1870.4,499.3 1870.8,499.5 1871.2,499.4 1871.6,499.5 1872,499.4 1872.4,499.6 1872.8,499.3 1873.2,499.5 1873.6,499.3 1874,499.3 1874.4,499.3 1874.8,499.5 1875.2,499.3 1875.6,499.2 1876,499.6 1876.4,499.3 1876.8,499.3 1877.2,499.4 1877.6,499.5 1878,499.5 1878.4,499.5 1878.8,499.3 1879.2,499.5 1879.6,499.5 1880,499.4 1880.4,499.5 1880.8,499.4 1881.2,499.4 1881.6,499.5 1882,499.6 1882.4,499.3 1882.8,499.4 1883.2,499.5 1883.6,499.4 1884,499.4 1884.4,499.4 1884.8,499.3 1885.2,499.3" fill="none" stroke="#1a1a1a" stroke-width="1.3" stroke-linejoin="round"/>
<circle cx="1443.1" cy="100.6" r="7.7" fill="#e5203f" stroke="#000" stroke-width="1.4"/>
<text x="1437.7" y="87.8" font-size="23.7" text-anchor="middle">+6</text>
<circle cx="1481.3" cy="262.1" r="7.7" fill="#e5203f" stroke="#000" stroke-width="1.4"/>
<text x="1479.6" y="249.2" font-size="23.7" text-anchor="middle">+5</text>
<circle cx="1416.1" cy="474.9" r="7.7" fill="#e5203f" stroke="#000" stroke-width="1.4"/>
<text x="1413.7" y="461.8" font-size="23.7" text-anchor="middle">+7</text>
<circle cx="1501.5" cy="380.6" r="6.7" fill="#ef8119" stroke="#000" stroke-width="1.2"/>
<circle cx="1510.7" cy="380.6" r="6.7" fill="#ef8119" stroke="#000" stroke-width="1.2"/>
<text x="1500.9" y="368.1" font-size="23.7" text-anchor="middle">+9</text>
<circle cx="1534.3" cy="375.6" r="6.7" fill="#ef8119" stroke="#000" stroke-width="1.2"/>
<circle cx="1542.7" cy="375.6" r="6.7" fill="#ef8119" stroke="#000" stroke-width="1.2"/>
<text x="1536.3" y="364.1" font-size="23.7" text-anchor="middle">+8</text>
<rect x="1679.9" y="165.2" width="46.9" height="179.3" fill="#e5203f"/>
<rect x="1746.7" y="257.4" width="46.9" height="87.1" fill="#ef8119"/>
<text x="1703.5" y="156.4" font-size="23.7" text-anchor="middle">67</text>
<text x="1769.4" y="250.2" font-size="23.7" text-anchor="middle">33</text>
<text transform="translate(1660.7 238.1) rotate(-90)" font-size="36" text-anchor="middle">%</text>
<circle cx="1705.9" cy="364.7" r="12" fill="#e5203f" stroke="#000" stroke-width="1.4"/>
<circle cx="1764.3" cy="364.7" r="11.3" fill="#ef8119" stroke="#000" stroke-width="1.4"/>
<circle cx="1777.5" cy="364.7" r="11.3" fill="#ef8119" stroke="#000" stroke-width="1.4"/>
<g transform="translate(1851.4 100.6) scale(1.016)">
<path d="M-33.7,247.3 A33.7,7.9 0 0 1 33.7,247.3 L33.7,278.3 A33.7,7.9 0 0 1 -33.7,278.3 Z" fill="#cbd6e9" stroke="#bfbcb7" stroke-width="1.1"/>
<path d="M-33.7,247.3 A33.7,7.9 0 0 0 33.7,247.3" fill="none" stroke="#bfbcb7" stroke-width="1.1"/>
<line x1="0" y1="67" x2="0" y2="245.6" stroke="#000" stroke-width="1.5"/>
<rect x="-13.3" y="0" width="26.6" height="68" rx="13.3" ry="13.3" fill="#690033" stroke="#000" stroke-width="1.5"/>
<rect x="-13.3" y="78.3" width="26.6" height="68" rx="13.3" ry="13.3" fill="#006a6b" stroke="#000" stroke-width="1.5"/>
<rect x="-13.3" y="156.5" width="26.6" height="68" rx="13.3" ry="13.3" fill="#006633" stroke="#000" stroke-width="1.5"/>
<rect x="-13.3" y="243.6" width="26.6" height="38.2" rx="13.3" ry="13.3" fill="#9b0000" stroke="#000" stroke-width="1.5"/>
<path transform="translate(0 281.8)" d="M2.7,0 C2,3 0.5,5 0.3,8.1 C0.1,12 0.3,15 -0.2,17.7 C-0.7,20.5 -1.8,22 -3,22 C-5,22 -5.9,18.5 -5.9,14.8 C-5.9,11 -5,8.6 -3,8.6 C-1,8.3 1,8.3 2.7,9.1 C6.5,10.5 8.7,14 9.4,17.7 C10,20.5 10.4,23 10.2,25.3 C10,29 9.2,32 8,33.5 C7.2,34.5 6,34.3 5.1,33.9 C3,33 1.5,31 -0.2,30.6 L6.1,51.2 L-4.2,44.3" fill="none" stroke="#000" stroke-width="1.7" stroke-linejoin="round" stroke-linecap="round"/>
</g>
<path d="M1844.2,254.8 L1824.7,254.8 L1824.7,272.3 M1858.8,254.8 L1878.3,254.8 L1878.3,272.3 M1844.2,339.7 L1824.7,339.7 L1824.7,322.2 M1858.8,339.7 L1878.3,339.7 L1878.3,322.2" fill="none" stroke="#e8274b" stroke-width="1.5"/>
<text x="8" y="686.9" font-size="47" text-anchor="start" style="stroke-width:.4px">b</text>
<text x="299.7" y="684.8" font-size="35.6" text-anchor="middle">V_C1 denatured</text>
<line x1="57.2" y1="783.2" x2="57.2" y2="1172.6" stroke="#1a1a1a" stroke-width="1.4"/>
<line x1="49.2" y1="1171.9" x2="584.5" y2="1171.9" stroke="#1a1a1a" stroke-width="1.4"/>
<line x1="49.2" y1="783.9" x2="57.2" y2="783.9" stroke="#1a1a1a" stroke-width="1.4"/>
<line x1="52.8" y1="977.9" x2="57.2" y2="977.9" stroke="#1a1a1a" stroke-width="1.4"/>
<text x="47.7" y="791.6" font-size="23.7" text-anchor="end">100</text>
<text x="47.2" y="1174.8" font-size="23.7" text-anchor="end">0</text>
<line x1="57.2" y1="1171.9" x2="57.2" y2="1179.8" stroke="#1a1a1a" stroke-width="1.4"/>
<text transform="translate(70.6 1190.5) rotate(-45)" font-size="23.7" text-anchor="end">1000</text>
<line x1="83.5" y1="1171.9" x2="83.5" y2="1176.6" stroke="#1a1a1a" stroke-width="1.4"/>
<line x1="109.9" y1="1171.9" x2="109.9" y2="1179.8" stroke="#1a1a1a" stroke-width="1.4"/>
<text transform="translate(123.3 1190.5) rotate(-45)" font-size="23.7" text-anchor="end">1500</text>
<line x1="136.2" y1="1171.9" x2="136.2" y2="1176.6" stroke="#1a1a1a" stroke-width="1.4"/>
<line x1="162.5" y1="1171.9" x2="162.5" y2="1179.8" stroke="#1a1a1a" stroke-width="1.4"/>
<text transform="translate(175.9 1190.5) rotate(-45)" font-size="23.7" text-anchor="end">2000</text>
<line x1="188.8" y1="1171.9" x2="188.8" y2="1176.6" stroke="#1a1a1a" stroke-width="1.4"/>
<line x1="215.2" y1="1171.9" x2="215.2" y2="1179.8" stroke="#1a1a1a" stroke-width="1.4"/>
<text transform="translate(228.6 1190.5) rotate(-45)" font-size="23.7" text-anchor="end">2500</text>
<line x1="241.5" y1="1171.9" x2="241.5" y2="1176.6" stroke="#1a1a1a" stroke-width="1.4"/>
<line x1="267.8" y1="1171.9" x2="267.8" y2="1179.8" stroke="#1a1a1a" stroke-width="1.4"/>
<text transform="translate(281.2 1190.5) rotate(-45)" font-size="23.7" text-anchor="end">3000</text>
<line x1="294.2" y1="1171.9" x2="294.2" y2="1176.6" stroke="#1a1a1a" stroke-width="1.4"/>
<line x1="320.5" y1="1171.9" x2="320.5" y2="1179.8" stroke="#1a1a1a" stroke-width="1.4"/>
<text transform="translate(333.9 1190.5) rotate(-45)" font-size="23.7" text-anchor="end">3500</text>
<line x1="346.8" y1="1171.9" x2="346.8" y2="1176.6" stroke="#1a1a1a" stroke-width="1.4"/>
<line x1="373.2" y1="1171.9" x2="373.2" y2="1179.8" stroke="#1a1a1a" stroke-width="1.4"/>
<text transform="translate(386.6 1190.5) rotate(-45)" font-size="23.7" text-anchor="end">4000</text>
<line x1="399.5" y1="1171.9" x2="399.5" y2="1176.6" stroke="#1a1a1a" stroke-width="1.4"/>
<line x1="425.8" y1="1171.9" x2="425.8" y2="1179.8" stroke="#1a1a1a" stroke-width="1.4"/>
<text transform="translate(439.2 1190.5) rotate(-45)" font-size="23.7" text-anchor="end">4500</text>
<line x1="452.1" y1="1171.9" x2="452.1" y2="1176.6" stroke="#1a1a1a" stroke-width="1.4"/>
<line x1="478.5" y1="1171.9" x2="478.5" y2="1179.8" stroke="#1a1a1a" stroke-width="1.4"/>
<text transform="translate(491.9 1190.5) rotate(-45)" font-size="23.7" text-anchor="end">5000</text>
<line x1="504.8" y1="1171.9" x2="504.8" y2="1176.6" stroke="#1a1a1a" stroke-width="1.4"/>
<line x1="531.1" y1="1171.9" x2="531.1" y2="1179.8" stroke="#1a1a1a" stroke-width="1.4"/>
<text transform="translate(544.5 1190.5) rotate(-45)" font-size="23.7" text-anchor="end">5500</text>
<line x1="557.5" y1="1171.9" x2="557.5" y2="1176.6" stroke="#1a1a1a" stroke-width="1.4"/>
<line x1="583.8" y1="1171.9" x2="583.8" y2="1179.8" stroke="#1a1a1a" stroke-width="1.4"/>
<text transform="translate(597.2 1190.5) rotate(-45)" font-size="23.7" text-anchor="end">6000</text>
<text transform="translate(17.5 978.4) rotate(-90)" font-size="24" text-anchor="middle">relative intensity</text>
<text transform="translate(46 977.7) rotate(-90)" font-size="24" text-anchor="middle">[%]</text>
<text x="303" y="1253" font-size="30" text-anchor="middle">m/z</text>
<path d="M57.2,1171.4 57.6,1171.5 58,1171.2 58.4,1171.5 58.8,1171.2 59.2,1171.3 59.6,1171.4 60,1171.2 60.4,1171.4 60.8,1171.2 61.2,1171.3 61.6,1171.3 62,1171.1 62.4,1170.9 62.8,1171.3 63.2,1171.2 63.6,1170.9 64,1170.7 64.4,1170.9 64.8,1171 65.2,1170.6 65.6,1171.2 66,1170.7 66.4,1171 66.8,1171.1 67.2,1171.1 67.6,1170.9 68,1170.6 68.4,1171 68.8,1170.7 69.2,1170.6 69.6,1170.8 70,1170.7 70.4,1171 70.8,1171 71.2,1170.8 71.6,1170.5 72,1170.7 72.4,1170.7 72.8,1170.5 73.2,1170.6 73.6,1170.7 74,1170.3 74.4,1170.3 74.8,1170.7 75.2,1170.4 75.6,1170.4 76,1170.1 76.4,1170.2 76.8,1170.5 77.2,1170 77.6,1170.6 78,1170.4 78.4,1170.1 78.8,1170.6 79.2,1170.3 79.6,1170.6 80,1170.1 80.4,1170 80.8,1170.1 81.2,1169.8 81.6,1170.3 82,1170 82.4,1170 82.8,1169.9 83.2,1169.9 83.6,1169.5 84,1169.3 84.4,1169.7 84.8,1169.4 85.2,1169.9 85.6,1169.2 86,1169.1 86.4,1168.7 86.8,1168.8 87.2,1169.3 87.6,1169.1 88,1168.7 88.4,1169.4 88.8,1168.7 89.2,1169 89.6,1169 90,1169 90.4,1168 90.8,1168.8 91.2,1168.5 91.6,1168.2 92,1167.3 92.4,1168.4 92.8,1167.5 93,1167 93.2,1165.3 93.2,1164.9 93.4,1160.4 93.5,1157.2 93.6,1157.9 93.7,1161 93.8,1164.6 94,1165.7 94.2,1167.4 94.4,1167.7 94.8,1167.6 95.2,1167.6 95.6,1167 96,1166.7 96.4,1167.2 96.8,1167.5 97.2,1166.6 97.6,1166.6 98,1166 98.4,1165 98.8,1165.4 99.2,1165.7 99.6,1165.3 100,1165 100.4,1166.2 100.8,1164 101.2,1163.9 101.6,1163 101.7,1162.7 102,1161 102,1160.3 102.2,1152.1 102.3,1142.5 102.4,1147.3 102.5,1151.7 102.6,1160.5 102.8,1163.1 102.9,1163.4 103.2,1164.8 103.6,1165.3 104,1165 104.4,1165.1 104.8,1164.4 105.2,1165.3 105.6,1163 106,1163.6 106.4,1164.7 106.8,1163.8 107.1,1161.5 107.2,1159.2 107.3,1156.4 107.4,1149.5 107.5,1154.2 107.6,1159 107.7,1161.1 108,1164.2 108.4,1164.7 108.8,1164.1 109.2,1164.3 109.6,1162.8 110,1164.5 110.4,1164.8 110.8,1162 111.2,1162.8 111.6,1162.9 111.9,1160.1 112,1159.4 112.2,1152.3 112.3,1132.8 112.4,1124 112.5,1119.6 112.6,1127.5 112.8,1144.2 112.8,1147.5 113.1,1155.4 113.2,1158.4 113.6,1160.5 114,1162.8 114.4,1163.5 114.8,1162.1 115.2,1161.7 115.6,1162 115.9,1161.8 116,1161.5 116.2,1160.2 116.4,1156.8 116.5,1151.9 116.6,1156.7 116.8,1162.1 116.8,1162.4 117.1,1163.4 117.2,1163.6 117.6,1162.7 118,1162.1 118.4,1163.5 118.8,1162.2 119.2,1162 119.6,1162 120,1163.4 120,1163.8 120.3,1162.9 120.4,1161.6 120.5,1160.6 120.6,1157.3 120.7,1158.6 120.8,1160.5 120.9,1162.1 121.2,1162.5 121.2,1162.1 121.6,1164.2 122,1162.4 122.4,1161.4 122.8,1161.2 123.2,1160 123.6,1156.6 123.7,1155.7 124,1136 124,1134.7 124.2,1099.4 124.3,1074.9 124.4,1084.4 124.6,1111.1 124.8,1133.2 124.9,1139.1 125.2,1152.6 125.6,1158.4 126,1160.8 126.4,1159.9 126.8,1160.9 127.2,1163.2 127.6,1161.6 128,1161.4 128.4,1162.4 128.8,1163.4 129.2,1162.9 129.6,1164.1 130,1164.5 130.4,1161.8 130.8,1162.7 131.2,1163 131.6,1161.8 132,1163.1 132.4,1161.7 132.8,1161 133.1,1160 133.2,1156.9 133.3,1152.3 133.4,1145.5 133.5,1150.9 133.6,1156.5 133.7,1159.1 134,1162.7 134.4,1161 134.8,1162.5 135.2,1161.8 135.6,1160.7 136,1158.2 136.4,1156.1 136.8,1143.7 136.9,1141.4 137.2,1098.4 137.2,1086.1 137.3,1024.5 137.5,985.7 137.6,1001.6 137.6,1006.8 137.8,1048.8 138,1101 138.1,1108.4 138.4,1135.3 138.8,1148.6 139.2,1154.9 139.6,1157.2 140,1158.4 140.4,1157.8 140.6,1158.9 140.8,1154.2 140.9,1152.9 141.1,1142.2 141.2,1135.1 141.2,1136 141.3,1137.5 141.5,1143.4 141.6,1147.6 141.8,1153.2 142,1156.4 142.4,1159.8 142.8,1161.1 143.2,1161.4 143.6,1162.5 144,1162.6 144.4,1162.8 144.6,1161.3 144.8,1161.5 144.9,1160.2 145.1,1156.8 145.2,1156.1 145.2,1155.2 145.3,1156.6 145.5,1160.4 145.6,1163 145.8,1163.9 146,1163.4 146.4,1164.7 146.8,1164.4 147.2,1164.9 147.6,1163.5 148,1163.3 148.4,1163 148.8,1164.8 149.2,1163.3 149.6,1163.1 149.7,1164.2 150,1160.6 150,1160.2 150.2,1158.1 150.3,1153.4 150.4,1157.2 150.4,1157.3 150.6,1160 150.8,1161.6 150.9,1163.4 151.2,1162.6 151.6,1161.3 152,1158.5 152.4,1148.6 152.4,1147.8 152.7,1114.5 152.8,1085 152.9,1056.6 153,1024.9 153.1,1036.8 153.2,1054.5 153.3,1073.8 153.6,1121.1 153.6,1123.1 154,1144.8 154.4,1154 154.8,1157.7 155.2,1161.6 155.6,1162.3 156,1162.9 156.1,1161 156.4,1159.5 156.4,1159.6 156.6,1154.8 156.7,1152.1 156.8,1152.7 156.8,1154.2 157,1156.7 157.2,1157.7 157.3,1159.6 157.6,1161.6 158,1164.4 158.4,1165.3 158.8,1164.5 159.2,1165.4 159.6,1166.3 160,1164.9 160.4,1165.6 160.8,1165.4 161.2,1166.9 161.6,1165.6 162,1167.2 162.4,1165.8 162.8,1166.6 163.2,1166.8 163.6,1166.4 164,1165.8 164.4,1167 164.8,1167.3 165.2,1166.6 165.6,1167.1 166,1167.4 166.4,1167.3 166.8,1167.5 167.2,1167.2 167.6,1166.9 168,1166.9 168.4,1166 168.8,1166.8 169.2,1166.2 169.6,1166.4 170,1165.4 170.4,1164.1 170.6,1160.6 170.8,1155.8 170.9,1145.8 171.1,1117.9 171.2,1102.9 171.2,1101 171.3,1109.2 171.5,1134.3 171.6,1139.8 171.8,1153.6 172,1158.1 172.4,1162.2 172.8,1164.8 173.2,1165.4 173.6,1165.6 174,1165.3 174.4,1166.7 174.8,1165.9 175.2,1166.2 175.6,1166.4 176,1166.9 176.4,1167.1 176.8,1167.6 177.2,1167.5 177.6,1167.7 178,1166.5 178.4,1167.4 178.8,1167.6 179.2,1167.8 179.6,1166.6 180,1166.6 180.4,1166.9 180.8,1167.6 181.2,1167.7 181.6,1167.7 182,1167.5 182.4,1168 182.8,1167.5 183.2,1167.9 183.6,1166.8 184,1166.8 184.4,1167.5 184.8,1168 185.2,1166.9 185.6,1168 186,1167.9 186.4,1168.5 186.8,1168 187.2,1167.8 187.6,1167.8 188,1168.2 188.4,1167.7 188.8,1168.4 189.2,1168 189.6,1168.2 190,1167.7 190.4,1168.2 190.8,1168.1 191.2,1167.5 191.6,1167.4 192,1166.4 192.4,1165.5 192.8,1162.4 192.9,1160.6 193.2,1148.4 193.2,1146.3 193.4,1119 193.5,1102 193.6,1105.2 193.6,1111.2 193.8,1133.9 194,1148.5 194.1,1154.8 194.4,1160 194.8,1163.3 195.2,1165.2 195.6,1165.7 196,1165.9 196.4,1167.3 196.8,1166.8 197.2,1166.9 197.6,1166.4 198,1166.5 198.4,1166.5 198.8,1166.9 199.2,1166.4 199.6,1166.7 200,1166.7 200.4,1167.5 200.8,1167.8 201.2,1167.7 201.6,1167.2 202,1167.7 202.4,1166.4 202.8,1166.8 203.2,1166.7 203.6,1166.7 204,1166.5 204.4,1166.9 204.8,1167.7 205.2,1166.3 205.6,1166.4 206,1166.8 206.4,1166.7 206.8,1166.5 207.2,1167.5 207.6,1166.3 208,1167.1 208.4,1167.4 208.8,1167 209.2,1166.2 209.6,1167.1 210,1166.1 210.4,1165.6 210.8,1166.4 211.2,1166.6 211.6,1166.3 212,1165.9 212.4,1165.6 212.8,1165.8 213.2,1165.6 213.6,1166.6 214,1166.3 214.4,1165.9 214.8,1164.7 215.2,1165.3 215.6,1164.4 216,1164.9 216.4,1164.1 216.8,1162.8 217.2,1160.8 217.6,1159 218,1156.1 218.4,1152.1 218.8,1142.6 219.2,1122.5 219.6,1065.1 219.9,941.4 220,873.2 220.1,822.6 220.2,782.3 220.3,798.2 220.4,825.3 220.5,864.8 220.8,981.6 221.2,1069.6 221.6,1110.6 222,1130 222.4,1139.9 222.8,1143 223.2,1148.6 223.6,1142.4 224,1140.4 224.4,1131.2 224.8,1126.5 225.2,1137.3 225.6,1131.7 226,1136.5 226.4,1134.6 226.8,1138.3 227.2,1144.4 227.6,1140.5 228,1145.6 228.4,1150.7 228.8,1152.3 229.2,1150.6 229.6,1152.5 230,1154.6 230.4,1156 230.8,1155.4 231.2,1156 231.6,1153.9 232,1158.5 232.4,1155.4 232.8,1155.5 233.2,1159.3 233.6,1156.2 234,1157.6 234.4,1157.4 234.8,1160.3 235.2,1160.4 235.6,1160.8 236,1159.1 236.4,1160.8 236.8,1161.7 237.2,1161.5 237.6,1162.1 238,1162.9 238.4,1162.8 238.8,1160.4 239.2,1162.3 239.6,1160.1 240,1162.5 240.4,1162.5 240.8,1161.7 241.2,1162.8 241.6,1162.2 242,1160.4 242.4,1160.7 242.8,1160.9 243.2,1161.6 243.6,1160.7 244,1160.6 244.4,1161.9 244.8,1161.4 245.2,1163.5 245.6,1161.4 246,1162.3 246.4,1161.3 246.8,1161.7 247.2,1162.7 247.6,1163.4 248,1160.6 248.4,1163 248.8,1161.8 249.2,1162.1 249.6,1162 250,1160.3 250.4,1159.2 250.8,1160.8 251.2,1158.7 251.6,1158.4 252,1155.4 252.4,1151.7 252.8,1143.7 253.2,1121.9 253.4,1101.8 253.6,1047.9 253.7,1024.8 253.8,952.4 254,925.3 254,925.5 254.1,936 254.3,977.1 254.4,1011 254.6,1049.9 254.8,1085.7 255.2,1121 255.6,1136.7 256,1144.4 256.4,1147 256.8,1147.4 257.2,1147 257.6,1145.9 258,1142.6 258.4,1137.9 258.8,1140.8 259.2,1142.5 259.6,1146.2 260,1145.4 260.4,1141.1 260.8,1149.2 261.2,1147.7 261.6,1148.2 262,1148.1 262.4,1153.5 262.8,1154.4 263.2,1155.8 263.6,1156.2 264,1156.5 264.4,1154.5 264.8,1155.3 265.2,1155.6 265.6,1159.8 266,1160.1 266.4,1157.4 266.8,1156.9 267.2,1159.1 267.6,1158.9 268,1161.6 268.4,1160.3 268.8,1158.6 269.2,1159.3 269.6,1159.5 270,1159.5 270.4,1162.3 270.8,1163.1 271.2,1163.2 271.6,1162.3 272,1162.1 272.4,1161.5 272.8,1162.3 273.2,1162.6 273.6,1162.3 274,1163.3 274.4,1163.1 274.8,1164.7 275.2,1162.6 275.6,1164.3 276,1162.4 276.4,1163.3 276.8,1164.3 277.2,1164.9 277.6,1164.6 278,1163.7 278.4,1163.6 278.8,1165.2 279.2,1165.4 279.6,1164.3 280,1164.2 280.4,1164.8 280.8,1165.3 281.2,1164.4 281.6,1166 282,1165.3 282.4,1165 282.8,1163.9 283.2,1164.8 283.6,1164.3 284,1165.4 284.4,1166 284.8,1166.1 285.2,1164.6 285.6,1165.2 286,1166.2 286.4,1166.9 286.8,1166 287.2,1165.7 287.6,1166.3 288,1166.7 288.4,1166 288.8,1165.6 289.2,1167.1 289.6,1167.5 290,1167 290.4,1167 290.8,1166.6 291.2,1167.5 291.6,1166.6 292,1166.8 292.4,1167.3 292.8,1167.9 293.2,1166.7 293.6,1167.8 294,1166.9 294.4,1167.9 294.8,1167.9 295.2,1166.9 295.6,1167.6 296,1166.4 296.4,1166.8 296.6,1166.8 296.8,1165.6 296.9,1164.1 297.1,1159.5 297.2,1156.8 297.3,1158.4 297.5,1159.3 297.6,1160.6 297.8,1161.1 298,1163.9 298.4,1165.8 298.8,1166.7 299.2,1166.7 299.6,1166.1 300,1166.3 300.4,1166.7 300.8,1166.4 301.2,1166.5 301.6,1167.6 302,1167.9 302.4,1166.7 302.8,1167 303.2,1168.2 303.6,1167.2 304,1167.7 304.4,1167.7 304.8,1167.8 305.2,1168.1 305.6,1168.4 306,1167.9 306.4,1167.9 306.8,1166.9 307.2,1168.3 307.6,1167 308,1168.2 308.4,1168 308.8,1167.3 309.2,1167.3 309.6,1167.9 310,1168.5 310.4,1167.9 310.8,1168.1 311.2,1167.3 311.6,1168.4 312,1168.1 312.4,1167.4 312.8,1168.7 313.2,1168.1 313.6,1167.6 314,1167.7 314.4,1168.8 314.8,1168.8 315.2,1168.8 315.6,1167.5 316,1168.5 316.4,1167.8 316.8,1167.6 317.2,1168.4 317.6,1168.6 318,1167.6 318.4,1168.1 318.8,1168.6 319.2,1168 319.6,1168.6 320,1168.7 320.4,1169.1 320.8,1168 321.2,1167.9 321.6,1168.3 322,1167.9 322.4,1169.1 322.8,1168.9 323.2,1168.6 323.6,1167.9 324,1168 324.4,1168.7 324.8,1168.9 325.2,1168.7 325.6,1168.6 326,1168.1 326.4,1169.1 326.8,1168.3 327.2,1168.4 327.6,1168.3 328,1168.3 328.4,1168.6 328.8,1168.9 329.2,1169 329.6,1168.9 330,1168.4 330.4,1169.3 330.8,1169.1 331.2,1168.4 331.6,1169.1 332,1169.3 332.4,1169.4 332.8,1168.7 333.2,1169 333.6,1168.2 334,1168.4 334.4,1168.2 334.8,1169.2 335.2,1169.4 335.6,1169.4 336,1168.9 336.4,1168.6 336.8,1169 337.2,1169.3 337.6,1169 338,1168.8 338.4,1168.7 338.8,1168.7 339.2,1168.6 339.6,1168.8 340,1169.5 340.4,1168.6 340.8,1169.3 341.2,1168.9 341.6,1169.2 342,1168.8 342.4,1169.4 342.8,1169.4 343.2,1169.4 343.6,1169.5 344,1168.6 344.4,1169 344.8,1169.3 345.2,1169.2 345.6,1168.6 346,1169.1 346.4,1169.5 346.8,1168.8 347.2,1169 347.6,1168.6 348,1169.6 348.4,1169.2 348.8,1168.8 349.2,1168.8 349.6,1168.8 350,1169.8 350.4,1169.5 350.8,1169.7 351.2,1169.6 351.6,1168.7 352,1169.2 352.4,1168.8 352.8,1169.4 353.2,1168.9 353.6,1169.4 354,1169.6 354.4,1169 354.8,1168.9 355.2,1169.8 355.6,1169.3 356,1169.2 356.4,1169.7 356.8,1169.5 357.2,1169.8 357.6,1169.7 358,1169.7 358.4,1169.3 358.8,1169.3 359.2,1169.8 359.6,1170 360,1169.7 360.4,1169.3 360.8,1169.8 361.2,1169.7 361.6,1169.8 362,1169.2 362.4,1169.5 362.8,1170 363.2,1170 363.6,1169.7 364,1169.5 364.4,1169.4 364.8,1170 365.2,1169.9 365.6,1169.4 366,1169.7 366.4,1169.9 366.8,1169.8 367.2,1169.2 367.6,1169.9 368,1169.6 368.4,1169.8 368.8,1169.8 369.2,1169.3 369.6,1169.2 370,1169.9 370.4,1170 370.8,1169.5 371.2,1170 371.6,1170.2 372,1169.4 372.4,1169.9 372.8,1169.5 373.2,1169.9 373.6,1169.5 374,1169.9 374.4,1170.2 374.8,1170.3 375.2,1169.8 375.6,1169.7 376,1169.5 376.4,1170.3 376.8,1169.8 377.2,1170 377.6,1169.9 378,1170.3 378.4,1170.1 378.8,1169.9 379.2,1169.6 379.6,1170.3 380,1170 380.4,1169.7 380.8,1169.6 381.2,1170.3 381.6,1170.4 382,1169.6 382.4,1169.6 382.8,1170.1 383.2,1170.5 383.6,1169.7 384,1170.2 384.4,1169.7 384.8,1170 385.2,1169.8 385.6,1170.4 386,1169.9 386.4,1170.4 386.8,1170.2 387.2,1169.9 387.6,1169.9 388,1170.4 388.4,1170.4 388.8,1170.3 389.2,1170.2 389.6,1170.3 390,1170.5 390.4,1170.4 390.8,1170.1 391.2,1169.9 391.6,1170.6 392,1170.2 392.4,1170.1 392.8,1170.7 393.2,1170 393.6,1170.6 394,1170.2 394.4,1170.3 394.8,1170.2 395.2,1170.5 395.6,1170.4 396,1170.3 396.4,1170.4 396.8,1170.3 397.2,1170.4 397.6,1170.5 398,1170.8 398.4,1170.3 398.8,1170.5 399.2,1170.7 399.6,1170.3 400,1170.3 400.4,1170.5 400.8,1170.7 401.2,1170.5 401.6,1170.8 402,1170.8 402.4,1170.6 402.8,1170.8 403.2,1170.6 403.6,1170.5 404,1170.9 404.4,1170.5 404.8,1170.9 405.2,1170.4 405.6,1170.4 406,1170.6 406.4,1170.9 406.8,1170.6 407.2,1170.7 407.6,1170.3 408,1170.9 408.4,1170.4 408.8,1170.3 409.2,1170.5 409.6,1170.4 410,1170.9 410.4,1170.3 410.8,1170.7 411.2,1170.4 411.6,1170.4 412,1170.9 412.4,1170.5 412.8,1170.4 413.2,1171 413.6,1170.8 414,1170.6 414.4,1171 414.8,1170.5 415.2,1170.9 415.6,1170.6 416,1171 416.4,1170.8 416.8,1170.5 417.2,1171 417.6,1171 418,1170.8 418.4,1170.9 418.8,1171.1 419.2,1171 419.6,1171.1 420,1170.6 420.4,1170.7 420.8,1170.6 421.2,1171.1 421.6,1170.7 422,1171.1 422.4,1170.9 422.8,1170.8 423.2,1171 423.6,1170.7 424,1170.9 424.4,1170.9 424.8,1170.7 425.2,1171.2 425.6,1170.6 426,1170.9 426.4,1171 426.8,1170.8 427.2,1171.1 427.6,1170.7 428,1170.9 428.4,1171.1 428.8,1170.9 429.2,1171 429.6,1171.2 430,1170.9 430.4,1171.3 430.8,1170.9 431.2,1171.2 431.6,1171 432,1170.8 432.4,1171 432.8,1171 433.2,1171.2 433.6,1171.4 434,1171.4 434.4,1171.3 434.8,1171.1 435.2,1171.2 435.6,1171.1 436,1170.9 436.4,1171.3 436.8,1171.3 437.2,1171.1 437.6,1171.4 438,1171.4 438.4,1171.3 438.8,1171.4 439.2,1171.3 439.6,1171.3 440,1171.2 440.4,1171.2 440.8,1171.4 441.2,1171.1 441.6,1171.2 442,1171.4 442.4,1171 442.8,1171.3 443.2,1171.4 443.6,1171.4 444,1171.1 444.4,1171 444.8,1171.1 445.2,1171.3 445.6,1171.3 446,1171.5 446.4,1171.1 446.8,1171.2 447.2,1171.3 447.6,1171.1 448,1171.2 448.4,1171 448.8,1171.1 449.2,1171.3 449.6,1171 450,1171.5 450.4,1171.2 450.8,1171.3 451.2,1171.4 451.6,1171.5 452,1171.1 452.4,1171.5 452.8,1171.2 453.2,1171 453.6,1171.4 454,1171.4 454.4,1171.2 454.8,1171.2 455.2,1171.2 455.6,1171.1 456,1171.4 456.4,1171.3 456.8,1171.3 457.2,1171.5 457.6,1171 458,1171.1 458.4,1171.1 458.8,1171.5 459.2,1171.1 459.6,1171.1 460,1171.3 460.4,1171.1 460.8,1171.3 461.2,1171.4 461.6,1171.4 462,1171.4 462.4,1171.5 462.8,1171.3 463.2,1171.1 463.6,1171.1 464,1171.1 464.4,1171.1 464.8,1171.4 465.2,1171.2 465.6,1171.3 466,1171.1 466.4,1171.2 466.8,1171.4 467.2,1171.2 467.6,1171 468,1171.4 468.4,1171.1 468.8,1171.5 469.2,1171.4 469.6,1171.4 470,1171.1 470.4,1171 470.8,1171.1 471.2,1171.4 471.6,1171.1 472,1171.4 472.4,1171.4 472.8,1171.1 473.2,1171.2 473.6,1171.2 474,1171.2 474.4,1171 474.8,1171.3 475.2,1171.1 475.6,1171.2 476,1171.1 476.4,1171.3 476.8,1171.2 477.2,1171.2 477.6,1171.4 478,1171.4 478.4,1171.2 478.8,1171.5 479.2,1171.1 479.6,1171.5 480,1171.5 480.4,1171.5 480.8,1171.1 481.2,1171.4 481.6,1171.5 482,1171.5 482.4,1171.5 482.8,1171.2 483.2,1171.2 483.6,1171.2 484,1171.2 484.4,1171.5 484.8,1171.3 485.2,1171.4 485.6,1171.1 486,1171.1 486.4,1171.1 486.8,1171.5 487.2,1171.1 487.6,1171.1 488,1171.1 488.4,1171.5 488.8,1171.4 489.2,1171.5 489.6,1171.5 490,1171.1 490.4,1171.2 490.8,1171.2 491.2,1171.1 491.6,1171.2 492,1171.4 492.4,1171.5 492.8,1171.5 493.2,1171.2 493.6,1171.5 494,1171.4 494.4,1171.4 494.8,1171.6 495.2,1171.4 495.6,1171.4 496,1171.2 496.4,1171.4 496.8,1171.4 497.2,1171.1 497.6,1171.3 498,1171.2 498.4,1171.3 498.8,1171.6 499.2,1171.4 499.6,1171.4 500,1171.2 500.4,1171.4 500.8,1171.2 501.2,1171.3 501.6,1171.5 502,1171.2 502.4,1171.5 502.8,1171.2 503.2,1171.5 503.6,1171.6 504,1171.5 504.4,1171.2 504.8,1171.1 505.2,1171.6 505.6,1171.3 506,1171.3 506.4,1171.2 506.8,1171.5 507.2,1171.3 507.6,1171.4 508,1171.2 508.4,1171.5 508.8,1171.1 509.2,1171.5 509.6,1171.5 510,1171.3 510.4,1171.4 510.8,1171.5 511.2,1171.3 511.6,1171.6 512,1171.2 512.4,1171.3 512.8,1171.2 513.2,1171.3 513.6,1171.4 514,1171.4 514.4,1171.4 514.8,1171.2 515.2,1171.6 515.6,1171.2 516,1171.6 516.4,1171.5 516.8,1171.5 517.2,1171.2 517.6,1171.4 518,1171.4 518.4,1171.2 518.8,1171.5 519.2,1171.4 519.6,1171.4 520,1171.3 520.4,1171.3 520.8,1171.3 521.2,1171.4 521.6,1171.5 522,1171.5 522.4,1171.2 522.8,1171.3 523.2,1171.3 523.6,1171.5 524,1171.4 524.4,1171.3 524.8,1171.3 525.2,1171.6 525.6,1171.4 526,1171.2 526.4,1171.5 526.8,1171.5 527.2,1171.5 527.6,1171.3 528,1171.2 528.4,1171.6 528.8,1171.6 529.2,1171.5 529.6,1171.5 530,1171.4 530.4,1171.6 530.8,1171.5 531.2,1171.5 531.6,1171.2 532,1171.3 532.4,1171.6 532.8,1171.2 533.2,1171.6 533.6,1171.5 534,1171.2 534.4,1171.3 534.8,1171.3 535.2,1171.4 535.6,1171.5 536,1171.3 536.4,1171.6 536.8,1171.5 537.2,1171.5 537.6,1171.6 538,1171.5 538.4,1171.3 538.8,1171.3 539.2,1171.4 539.6,1171.4 540,1171.4 540.4,1171.6 540.8,1171.4 541.2,1171.5 541.6,1171.3 542,1171.2 542.4,1171.5 542.8,1171.4 543.2,1171.3 543.6,1171.5 544,1171.5 544.4,1171.3 544.8,1171.3 545.2,1171.3 545.6,1171.3 546,1171.3 546.4,1171.3 546.8,1171.4 547.2,1171.5 547.6,1171.5 548,1171.4 548.4,1171.6 548.8,1171.5 549.2,1171.3 549.6,1171.3 550,1171.4 550.4,1171.6 550.8,1171.5 551.2,1171.5 551.6,1171.4 552,1171.5 552.4,1171.4 552.8,1171.3 553.2,1171.6 553.6,1171.4 554,1171.3 554.4,1171.5 554.8,1171.5 555.2,1171.2 555.6,1171.6 556,1171.4 556.4,1171.6 556.8,1171.3 557.2,1171.3 557.6,1171.4 558,1171.6 558.4,1171.4 558.8,1171.4 559.2,1171.4 559.6,1171.5 560,1171.4 560.4,1171.3 560.8,1171.5 561.2,1171.5 561.6,1171.3 562,1171.6 562.4,1171.4 562.8,1171.5 563.2,1171.4 563.6,1171.6 564,1171.3 564.4,1171.5 564.8,1171.6 565.2,1171.6 565.6,1171.5 566,1171.6 566.4,1171.5 566.8,1171.5 567.2,1171.4 567.6,1171.5 568,1171.6 568.4,1171.6 568.8,1171.4 569.2,1171.3 569.6,1171.5 570,1171.6 570.4,1171.4 570.8,1171.5 571.2,1171.6 571.6,1171.6 572,1171.4 572.4,1171.4 572.8,1171.4 573.2,1171.5 573.6,1171.5 574,1171.6 574.4,1171.3 574.8,1171.6 575.2,1171.4 575.6,1171.4 576,1171.4 576.4,1171.5 576.8,1171.6 577.2,1171.5 577.6,1171.6 578,1171.4 578.4,1171.6 578.8,1171.4 579.2,1171.6 579.6,1171.6 580,1171.6 580.4,1171.5 580.8,1171.6 581.2,1171.6 581.6,1171.4 582,1171.6 582.4,1171.6 582.8,1171.6 583.2,1171.5 583.6,1171.5" fill="none" stroke="#1a1a1a" stroke-width="1.3" stroke-linejoin="round"/>
<circle cx="221.6" cy="771" r="7.7" fill="#0000ee" stroke="#000" stroke-width="1.4"/>
<text x="219.5" y="758.5" font-size="23.7" text-anchor="middle">+9</text>
<circle cx="255" cy="914.8" r="7.7" fill="#0000ee" stroke="#000" stroke-width="1.4"/>
<text x="252.6" y="902" font-size="23.7" text-anchor="middle">+8</text>
<circle cx="137.8" cy="974.5" r="7.7" fill="#0000ee" stroke="#000" stroke-width="1.4"/>
<text x="125" y="961.3" font-size="23.7" text-anchor="middle">+13</text>
<circle cx="154" cy="1013" r="7.7" fill="#0000ee" stroke="#000" stroke-width="1.4"/>
<text x="161.4" y="1000.2" font-size="23.7" text-anchor="middle">+12</text>
<circle cx="122.9" cy="1062.7" r="7.7" fill="#0000ee" stroke="#000" stroke-width="1.4"/>
<text x="109.8" y="1049.8" font-size="23.7" text-anchor="middle">+14</text>
<circle cx="108.7" cy="1107.9" r="7.7" fill="#0000ee" stroke="#000" stroke-width="1.4"/>
<text x="96.3" y="1094.7" font-size="23.7" text-anchor="middle">+15</text>
<circle cx="170.2" cy="1089.7" r="7.7" fill="#0000ee" stroke="#000" stroke-width="1.4"/>
<text transform="translate(150 1054.9) rotate(45)" font-size="23.7" text-anchor="start">+11</text>
<circle cx="195.9" cy="1090.7" r="7.7" fill="#0000ee" stroke="#000" stroke-width="1.4"/>
<text transform="translate(176 1055.5) rotate(45)" font-size="23.7" text-anchor="start">+10</text>
<rect x="378.3" y="818.6" width="47.3" height="213" fill="#0000ee"/>
<text x="402.6" y="812.5" font-size="23.7" text-anchor="middle">100</text>
<text x="466.7" y="1016" font-size="23.7" text-anchor="middle">0</text>
<text transform="translate(359 915.5) rotate(-90)" font-size="36" text-anchor="middle">%</text>
<circle cx="404.3" cy="1052.2" r="12" fill="#0000ee" stroke="#000" stroke-width="1.4"/>
<circle cx="462.7" cy="1052.2" r="11.3" fill="#fdd060" stroke="#000" stroke-width="1.4"/>
<circle cx="475.5" cy="1052.2" r="11.3" fill="#fdd060" stroke="#000" stroke-width="1.4"/>
<g transform="translate(549.8 775.7) scale(1.000)">
<path d="M-33.7,247.3 A33.7,7.9 0 0 1 33.7,247.3 L33.7,278.3 A33.7,7.9 0 0 1 -33.7,278.3 Z" fill="#cbd6e9" stroke="#bfbcb7" stroke-width="1.1"/>
<path d="M-33.7,247.3 A33.7,7.9 0 0 0 33.7,247.3" fill="none" stroke="#bfbcb7" stroke-width="1.1"/>
<line x1="0" y1="67" x2="0" y2="245.6" stroke="#000" stroke-width="1.5"/>
<rect x="-13.3" y="0" width="26.6" height="68" rx="13.3" ry="13.3" fill="#690033" stroke="#000" stroke-width="1.5"/>
<rect x="-13.3" y="78.3" width="26.6" height="68" rx="13.3" ry="13.3" fill="#006a6b" stroke="#000" stroke-width="1.5"/>
<rect x="-13.3" y="156.5" width="26.6" height="68" rx="13.3" ry="13.3" fill="#006633" stroke="#000" stroke-width="1.5"/>
<rect x="-13.3" y="243.6" width="26.6" height="38.2" rx="13.3" ry="13.3" fill="#9b0000" stroke="#000" stroke-width="1.5"/>
<path transform="translate(0 281.8)" d="M2.7,0 C2,3 0.5,5 0.3,8.1 C0.1,12 0.3,15 -0.2,17.7 C-0.7,20.5 -1.8,22 -3,22 C-5,22 -5.9,18.5 -5.9,14.8 C-5.9,11 -5,8.6 -3,8.6 C-1,8.3 1,8.3 2.7,9.1 C6.5,10.5 8.7,14 9.4,17.7 C10,20.5 10.4,23 10.2,25.3 C10,29 9.2,32 8,33.5 C7.2,34.5 6,34.3 5.1,33.9 C3,33 1.5,31 -0.2,30.6 L6.1,51.2 L-4.2,44.3" fill="none" stroke="#000" stroke-width="1.7" stroke-linejoin="round" stroke-linecap="round"/>
</g>
<path d="M543.7,768.6 L524.2,768.6 L524.2,786.1 M556.3,768.6 L575.8,768.6 L575.8,786.1 M543.7,926.7 L524.2,926.7 L524.2,909.2 M556.3,926.7 L575.8,926.7 L575.8,909.2 M524.2,827.6 L524.2,867.6 M575.8,827.6 L575.8,867.6" fill="none" stroke="#e8274b" stroke-width="1.5"/>
<text x="657.6" y="686.9" font-size="47" text-anchor="start" style="stroke-width:.4px">d</text>
<text x="983.8" y="662.7" font-size="35.6" text-anchor="middle">V_C1_C2</text>
<text x="986.5" y="706.1" font-size="35.6" text-anchor="middle">denatured</text>
<line x1="706.3" y1="781.5" x2="706.3" y2="1172.9" stroke="#1a1a1a" stroke-width="1.4"/>
<line x1="698.3" y1="1172.2" x2="1235" y2="1172.2" stroke="#1a1a1a" stroke-width="1.4"/>
<line x1="698.3" y1="782.2" x2="706.3" y2="782.2" stroke="#1a1a1a" stroke-width="1.4"/>
<line x1="701.9" y1="977.2" x2="706.3" y2="977.2" stroke="#1a1a1a" stroke-width="1.4"/>
<text x="697" y="791.6" font-size="23.7" text-anchor="end">100</text>
<text x="696.7" y="1174.4" font-size="23.7" text-anchor="end">0</text>
<line x1="706.3" y1="1172.2" x2="706.3" y2="1180.1" stroke="#1a1a1a" stroke-width="1.4"/>
<text transform="translate(719.7 1190.8) rotate(-45)" font-size="23.7" text-anchor="end">1000</text>
<line x1="732.7" y1="1172.2" x2="732.7" y2="1176.9" stroke="#1a1a1a" stroke-width="1.4"/>
<line x1="759.1" y1="1172.2" x2="759.1" y2="1180.1" stroke="#1a1a1a" stroke-width="1.4"/>
<text transform="translate(772.5 1190.8) rotate(-45)" font-size="23.7" text-anchor="end">1500</text>
<line x1="785.5" y1="1172.2" x2="785.5" y2="1176.9" stroke="#1a1a1a" stroke-width="1.4"/>
<line x1="811.9" y1="1172.2" x2="811.9" y2="1180.1" stroke="#1a1a1a" stroke-width="1.4"/>
<text transform="translate(825.3 1190.8) rotate(-45)" font-size="23.7" text-anchor="end">2000</text>
<line x1="838.3" y1="1172.2" x2="838.3" y2="1176.9" stroke="#1a1a1a" stroke-width="1.4"/>
<line x1="864.7" y1="1172.2" x2="864.7" y2="1180.1" stroke="#1a1a1a" stroke-width="1.4"/>
<text transform="translate(878.1 1190.8) rotate(-45)" font-size="23.7" text-anchor="end">2500</text>
<line x1="891.1" y1="1172.2" x2="891.1" y2="1176.9" stroke="#1a1a1a" stroke-width="1.4"/>
<line x1="917.5" y1="1172.2" x2="917.5" y2="1180.1" stroke="#1a1a1a" stroke-width="1.4"/>
<text transform="translate(930.9 1190.8) rotate(-45)" font-size="23.7" text-anchor="end">3000</text>
<line x1="943.9" y1="1172.2" x2="943.9" y2="1176.9" stroke="#1a1a1a" stroke-width="1.4"/>
<line x1="970.3" y1="1172.2" x2="970.3" y2="1180.1" stroke="#1a1a1a" stroke-width="1.4"/>
<text transform="translate(983.7 1190.8) rotate(-45)" font-size="23.7" text-anchor="end">3500</text>
<line x1="996.7" y1="1172.2" x2="996.7" y2="1176.9" stroke="#1a1a1a" stroke-width="1.4"/>
<line x1="1023.1" y1="1172.2" x2="1023.1" y2="1180.1" stroke="#1a1a1a" stroke-width="1.4"/>
<text transform="translate(1036.5 1190.8) rotate(-45)" font-size="23.7" text-anchor="end">4000</text>
<line x1="1049.5" y1="1172.2" x2="1049.5" y2="1176.9" stroke="#1a1a1a" stroke-width="1.4"/>
<line x1="1075.9" y1="1172.2" x2="1075.9" y2="1180.1" stroke="#1a1a1a" stroke-width="1.4"/>
<text transform="translate(1089.3 1190.8) rotate(-45)" font-size="23.7" text-anchor="end">4500</text>
<line x1="1102.3" y1="1172.2" x2="1102.3" y2="1176.9" stroke="#1a1a1a" stroke-width="1.4"/>
<line x1="1128.7" y1="1172.2" x2="1128.7" y2="1180.1" stroke="#1a1a1a" stroke-width="1.4"/>
<text transform="translate(1142.1 1190.8) rotate(-45)" font-size="23.7" text-anchor="end">5000</text>
<line x1="1155.1" y1="1172.2" x2="1155.1" y2="1176.9" stroke="#1a1a1a" stroke-width="1.4"/>
<line x1="1181.5" y1="1172.2" x2="1181.5" y2="1180.1" stroke="#1a1a1a" stroke-width="1.4"/>
<text transform="translate(1194.9 1190.8) rotate(-45)" font-size="23.7" text-anchor="end">5500</text>
<line x1="1207.9" y1="1172.2" x2="1207.9" y2="1176.9" stroke="#1a1a1a" stroke-width="1.4"/>
<line x1="1234.3" y1="1172.2" x2="1234.3" y2="1180.1" stroke="#1a1a1a" stroke-width="1.4"/>
<text transform="translate(1247.7 1190.8) rotate(-45)" font-size="23.7" text-anchor="end">6000</text>
<text transform="translate(667.3 977.7) rotate(-90)" font-size="24" text-anchor="middle">relative intensity</text>
<text transform="translate(695.6 978.2) rotate(-90)" font-size="24" text-anchor="middle">[%]</text>
<text x="952.4" y="1253" font-size="30" text-anchor="middle">m/z</text>
<path d="M706.3,1171.3 706.7,1171.3 707.1,1171.5 707.5,1171 707.9,1171.5 708.3,1171.2 708.7,1171 709.1,1171.5 709.5,1171.2 709.9,1171.2 710.3,1171.5 710.7,1171.3 711.1,1171.1 711.5,1171.3 711.9,1171.1 712.3,1171.4 712.7,1171.4 713.1,1171.5 713.5,1171.2 713.9,1171 714.3,1171.2 714.7,1171.1 715.1,1171.3 715.5,1171.1 715.9,1171.5 716.3,1171.4 716.7,1171.1 717.1,1171.1 717.5,1171.3 717.9,1171.5 718.3,1171.4 718.7,1171.4 719.1,1171.4 719.5,1171 719.9,1171.4 720.3,1171 720.7,1171 721.1,1171.5 721.5,1171.3 721.9,1171.2 722.3,1171.5 722.7,1171.3 723.1,1171 723.5,1171.5 723.9,1171.2 724.3,1171.4 724.7,1171.2 725.1,1171 725.5,1171.4 725.9,1171.5 726.3,1171.5 726.7,1171.2 727.1,1171.5 727.5,1171.5 727.9,1171.2 728.3,1170.9 728.7,1171.3 729.1,1171.3 729.5,1171.1 729.9,1171.5 730.3,1171.1 730.7,1171.4 731.1,1171.1 731.5,1170.9 731.9,1171.5 732.3,1171.2 732.7,1171.1 733.1,1171.4 733.5,1171.3 733.9,1170.9 734.3,1170.9 734.7,1171.4 735.1,1171.1 735.5,1170.9 735.9,1171.3 736.3,1171.1 736.7,1171.5 737.1,1171.3 737.5,1171.1 737.9,1171.1 738.3,1171 738.7,1171.4 739.1,1171.3 739.5,1170.9 739.9,1171.1 740.3,1171.2 740.7,1171.2 741.1,1170.8 741.5,1171.1 741.9,1171.5 742.3,1171 742.7,1171.3 743.1,1171.2 743.5,1171.3 743.9,1171.2 744.3,1171.3 744.7,1171.4 745.1,1171.1 745.5,1171.4 745.9,1171 746.3,1171.4 746.7,1170.9 747.1,1170.9 747.5,1171.1 747.9,1171 748.3,1171.3 748.7,1171 749.1,1171.2 749.5,1171.3 749.9,1170.8 750.3,1171.2 750.7,1171.2 751.1,1170.9 751.5,1171.2 751.9,1171 752.3,1171.3 752.7,1170.9 753.1,1171.2 753.5,1171.4 753.9,1170.8 754.3,1171.3 754.7,1170.8 755.1,1170.8 755.5,1171 755.9,1171.4 756.3,1171.4 756.7,1171.3 757.1,1171.1 757.5,1171 757.9,1170.7 758.3,1171.2 758.7,1171.3 759.1,1171 759.5,1171.3 759.9,1171.3 760.3,1171 760.7,1170.9 761.1,1171.3 761.5,1171.1 761.9,1170.9 762.3,1170.8 762.7,1171.1 763.1,1170.8 763.5,1171.2 763.9,1170.9 764.3,1170.8 764.7,1170.7 765.1,1171 765.5,1171.3 765.9,1171.3 766.3,1171 766.7,1171.2 767.1,1170.9 767.5,1171.3 767.9,1170.8 768.3,1171.2 768.7,1171.3 769.1,1171.2 769.5,1171 769.9,1170.9 770.3,1171 770.7,1171.2 771.1,1171 771.5,1170.6 771.9,1170.9 772.3,1170.6 772.7,1171.3 773.1,1170.6 773.5,1170.7 773.9,1170.9 774.3,1170.9 774.7,1170.9 775.1,1170.6 775.5,1171.2 775.9,1170.8 776.3,1170.9 776.7,1171 777.1,1170.7 777.5,1170.7 777.9,1171.2 778.3,1170.7 778.7,1170.9 779.1,1170.9 779.5,1170.8 779.9,1171.2 780.3,1170.8 780.7,1170.9 781.1,1170.6 781.5,1171 781.9,1170.6 782.3,1170.6 782.7,1170.7 783.1,1170.5 783.5,1171.1 783.9,1170.5 784,1170.5 784.2,1169.8 784.3,1169.8 784.4,1168.6 784.5,1167.1 784.7,1168.3 784.7,1169 784.9,1170.3 785.1,1170.6 785.1,1170.6 785.5,1170.7 785.9,1171.1 786.3,1170.5 786.7,1170.9 787.1,1170.5 787.5,1171.1 787.9,1170.4 788.3,1170.7 788.7,1170.4 789.1,1170.4 789.5,1170.5 789.9,1171 790.3,1170.8 790.7,1170.9 791.1,1170.5 791.5,1170.9 791.9,1170.9 792.3,1171 792.7,1171 793.1,1170.3 793.5,1170.3 793.9,1170.8 794.3,1170.5 794.7,1170.7 795.1,1170.6 795.5,1170.7 795.9,1170.4 796.3,1170.6 796.4,1170.4 796.7,1169.4 796.7,1169.4 796.9,1166.3 797,1163.1 797.1,1164.6 797.2,1166.3 797.3,1168.8 797.5,1170.2 797.6,1170.4 797.9,1170.1 798.3,1170.4 798.7,1170.8 799.1,1170.9 799.5,1170.8 799.9,1170.7 800.3,1170.3 800.7,1170.2 801.1,1170.3 801.5,1170.2 801.9,1170.2 802.3,1170.2 802.7,1170.2 803.1,1170.1 803.5,1170.8 803.9,1170.6 804.3,1170.6 804.7,1170.2 804.9,1170.1 805.1,1169.6 805.2,1168.7 805.4,1166.1 805.5,1163.7 805.5,1163.7 805.6,1166.1 805.8,1168.9 805.9,1169.5 806.1,1170.1 806.3,1170.5 806.7,1170.5 807.1,1170.6 807.5,1170.7 807.9,1170.4 808.3,1170.7 808.7,1170.3 809.1,1170.3 809.5,1170.7 809.9,1170.3 810.3,1170.5 810.7,1170.4 811.1,1170.3 811.5,1170.2 811.9,1170 812.3,1170.1 812.7,1170.5 813.1,1170.1 813.3,1170.1 813.5,1170 813.6,1168.8 813.8,1166 813.9,1163.4 813.9,1163.6 814,1165.6 814.2,1168.8 814.3,1169.6 814.5,1169.7 814.7,1170.2 815.1,1170.1 815.5,1170.6 815.9,1170.6 816.3,1169.7 816.7,1170.4 817.1,1169.9 817.4,1169.2 817.5,1168.5 817.7,1165.2 817.9,1155.8 817.9,1152.5 818,1147.7 818.1,1155.2 818.3,1165.3 818.3,1166.1 818.6,1168.6 818.7,1169.4 819.1,1170 819.5,1170.2 819.9,1170.2 820.3,1170.4 820.7,1170.1 821.1,1169.9 821.5,1170.1 821.9,1170.6 822.3,1170 822.7,1170.6 823.1,1170.2 823.5,1169.8 823.9,1170 824.3,1169.7 824.7,1169.9 825.1,1170.3 825.5,1170.3 825.9,1169.7 826.2,1169 826.3,1168.9 826.5,1167.1 826.6,1160.5 826.7,1157.9 826.8,1155.6 826.9,1161.2 827.1,1166.7 827.1,1167.9 827.4,1169.5 827.5,1169.2 827.9,1169.6 828.3,1170.3 828.7,1170.3 829.1,1170.2 829.5,1169.8 829.9,1169.3 830.3,1169.7 830.7,1168.9 830.9,1167.4 831.1,1164.7 831.2,1161.4 831.4,1145.2 831.5,1130.3 831.5,1130.5 831.6,1144.6 831.8,1161.8 831.9,1164.6 832.1,1167.6 832.3,1168.7 832.7,1169.3 833.1,1169.2 833.5,1169.8 833.9,1169.5 834.3,1169.5 834.7,1170.3 835.1,1170.1 835.5,1169.6 835.9,1169.7 836.3,1169.5 836.7,1170.3 837.1,1169.9 837.5,1169.5 837.9,1169.9 838.3,1169.8 838.7,1169.5 839.1,1170.3 839.5,1170.4 839.9,1169.6 840.3,1169.8 840.7,1170.2 841.1,1169.6 841.5,1170.1 841.9,1170.2 842.3,1170.1 842.7,1170.3 843.1,1169.9 843.5,1169.5 843.9,1169.8 844.3,1169.2 844.7,1170.1 845.1,1169.8 845.5,1169.5 845.9,1168 846.1,1167.2 846.3,1163.3 846.4,1160 846.6,1140.9 846.7,1123.6 846.7,1123.7 846.8,1140.1 847,1160.2 847.1,1164 847.3,1166.4 847.5,1168.3 847.9,1169.3 848.3,1169.4 848.7,1169.9 849.1,1169.3 849.5,1169.5 849.9,1170.1 850.3,1169.2 850.7,1169.7 851.1,1170 851.5,1169.6 851.9,1169.3 852.3,1169.9 852.7,1170.3 853.1,1170.1 853.5,1170.2 853.9,1169.7 854.3,1169.9 854.7,1169.4 855.1,1170 855.5,1170.2 855.9,1169.8 856.3,1170.1 856.7,1169.9 857.1,1170 857.5,1170 857.9,1169.5 858.3,1169.2 858.7,1169.8 859.1,1169.5 859.5,1169.8 859.9,1169.2 860.3,1169.5 860.7,1170.1 861.1,1169.3 861.5,1169.8 861.9,1170 862.3,1169.9 862.7,1168.9 863.1,1168.8 863.5,1168.6 863.9,1166.7 864,1165.6 864.3,1158 864.3,1156.7 864.5,1137.7 864.6,1123.1 864.7,1136.4 864.7,1137.5 864.9,1157.4 865.1,1164.1 865.2,1166 865.5,1167.7 865.9,1168.3 866.3,1169.3 866.7,1169.3 867.1,1169 867.5,1170 867.9,1169 868.3,1169.7 868.7,1169.6 869.1,1169.8 869.5,1169.2 869.9,1169.5 870.3,1169.3 870.7,1170 871.1,1169.1 871.5,1169.2 871.9,1169.3 872.3,1169.9 872.7,1169.8 873.1,1169.6 873.5,1170 873.9,1169 874.3,1169.6 874.7,1169 875.1,1169.9 875.5,1169.4 875.9,1169.2 876.3,1169.3 876.7,1169.6 877.1,1170 877.5,1169.6 877.9,1169.6 878.3,1169 878.7,1168.9 879.1,1168.9 879.5,1168.9 879.9,1169.7 880.3,1169.8 880.7,1169.5 881.1,1169.7 881.5,1169.5 881.9,1168.8 882.3,1168.8 882.7,1167.5 883.1,1165.4 883.2,1163.5 883.5,1152.5 883.5,1149.9 883.7,1117.2 883.8,1093.9 883.9,1097.1 884,1106.4 884.1,1135 884.3,1149.3 884.4,1156.7 884.7,1162.2 885.1,1164.7 885.3,1164.9 885.5,1162.7 885.6,1161.4 885.8,1155 885.9,1151 885.9,1151.1 886,1152.6 886.2,1156.7 886.3,1159.6 886.5,1162.7 886.7,1165.5 887.1,1167.1 887.5,1167.6 887.9,1168.1 888.3,1169.2 888.7,1168.9 889.1,1168.9 889.5,1169 889.9,1169.5 890.3,1169 890.7,1169 891.1,1169.2 891.5,1168.8 891.9,1169.2 892.3,1169.9 892.7,1169.6 893.1,1169.1 893.5,1169.8 893.9,1168.9 894.3,1169.2 894.7,1169.1 895.1,1169.8 895.5,1169.9 895.9,1169 896.3,1169.4 896.7,1169.5 897.1,1169.4 897.5,1169.1 897.9,1169.5 898.3,1169.1 898.7,1169.7 899.1,1168.8 899.5,1169.1 899.9,1169.5 900.3,1169.3 900.7,1168.9 901.1,1169.4 901.5,1169 901.9,1168.7 902.3,1168.6 902.7,1169.3 903.1,1168.7 903.5,1168.8 903.9,1168.5 904.3,1169.1 904.7,1168.6 905.1,1168.3 905.5,1167.5 905.9,1167.3 906.3,1166.6 906.7,1164 906.9,1160.9 907.1,1154 907.2,1149.1 907.4,1122.7 907.5,1101.5 907.5,1101.8 907.6,1119.5 907.8,1144.4 907.9,1149.9 908.1,1151.3 908.3,1145.6 908.6,1127.8 908.7,1108.3 908.9,1055.5 909,943.8 909.1,910.3 909.2,888.8 909.3,907.9 909.5,975.9 909.5,987.9 909.8,1068.7 909.9,1091.8 910.3,1129.5 910.7,1143.7 911.1,1148.8 911.5,1150.4 911.9,1150.6 912.3,1152.2 912.7,1153.6 913.1,1154.3 913.5,1156 913.9,1156.4 914.3,1157.8 914.7,1159.6 915.1,1161 915.5,1161.6 915.9,1163.2 916.3,1163.8 916.7,1164.6 917.1,1165.3 917.5,1166.4 917.9,1166.9 918.3,1167.1 918.7,1168.3 919.1,1168.4 919.5,1168.2 919.9,1168.9 920.3,1168.5 920.7,1169.5 921.1,1169.6 921.5,1169.3 921.9,1169.3 922.3,1169.4 922.7,1169.6 923.1,1169.4 923.5,1169 923.9,1168.9 924.3,1169.3 924.7,1169.6 925.1,1169.3 925.5,1169.7 925.9,1169.7 926.3,1168.7 926.5,1169.1 926.7,1168.5 926.8,1167.4 927,1166.1 927.1,1164.9 927.1,1165.1 927.2,1165.3 927.4,1167.5 927.5,1168.7 927.7,1169.2 927.9,1168.6 928.3,1169.6 928.7,1169 929.1,1169 929.5,1169.1 929.9,1169.2 930.3,1169.2 930.7,1169.2 931.1,1168.8 931.5,1169.1 931.9,1168.6 932.3,1168.6 932.7,1168.1 933.1,1167.1 933.5,1166.7 933.9,1165.3 934.3,1162.4 934.6,1158.2 934.7,1153.1 934.9,1138.7 935.1,1097.3 935.1,1084 935.2,1068.8 935.3,1096.9 935.5,1134 935.5,1136 935.8,1143.4 935.9,1141.2 936.3,1110.8 936.3,1105.9 936.6,1009.5 936.7,901.6 936.8,851.7 936.9,782.4 937,810.1 937.1,866.1 937.2,905.9 937.5,1032.4 937.5,1041.3 937.9,1106.7 938.3,1131.2 938.7,1140.6 939.1,1143.7 939.5,1144.1 939.9,1146.3 940.3,1147.5 940.7,1149.9 941.1,1151.6 941.5,1153 941.9,1154.8 942.3,1155.6 942.7,1157.9 943.1,1159.1 943.5,1160.8 943.9,1162.1 944.3,1163 944.7,1164.4 945.1,1165.7 945.5,1166.1 945.9,1167.4 946.3,1168 946.7,1167.9 947.1,1168.2 947.5,1168.6 947.9,1168.9 948.3,1168.8 948.7,1169 949.1,1169.4 949.5,1169.9 949.9,1169.6 950.3,1169.8 950.7,1169.6 951.1,1169.9 951.5,1170.2 951.9,1170.1 952.3,1170.2 952.7,1169.7 953.1,1169.8 953.5,1169.9 953.9,1170.1 954.3,1169.8 954.7,1170.1 955.1,1170 955.5,1170.3 955.9,1169.6 956.3,1170.1 956.7,1170.1 957.1,1170.4 957.5,1170.2 957.9,1170.1 958.3,1170.2 958.7,1169.9 959.1,1170.3 959.5,1170.1 959.9,1170 960.3,1170.5 960.7,1169.9 961.1,1170.6 961.5,1170.4 961.9,1169.9 962.3,1170.5 962.7,1170.4 963.1,1170.3 963.5,1169.8 963.9,1169.8 964.3,1170.4 964.7,1170 965.1,1169.8 965.5,1170 965.9,1170.1 966.3,1170.1 966.7,1170 967.1,1169.7 967.5,1168.8 967.7,1167.4 967.9,1164.6 968,1163.2 968.1,1151.6 968.3,1143.1 968.3,1144.1 968.4,1150.9 968.6,1161.4 968.7,1164.4 968.9,1165.5 969.1,1165.9 969.5,1161.9 969.7,1157 969.9,1145 970,1132.3 970.2,1087.6 970.3,1063.8 970.4,1072.3 970.6,1101 970.7,1116.3 970.9,1137.1 971.1,1148.9 971.5,1159.9 971.9,1164.1 972.3,1166.3 972.7,1167.9 973.1,1168.3 973.5,1168.9 973.9,1169.6 974.3,1169.5 974.7,1169.9 975.1,1170 975.5,1169.7 975.9,1170.1 976.3,1170.2 976.7,1170.1 977.1,1170 977.5,1170.2 977.9,1170 978.3,1170.2 978.7,1170.5 979.1,1170 979.5,1170.8 979.9,1170.7 980.3,1170.8 980.7,1170.6 981.1,1170.6 981.5,1170.6 981.9,1170.4 982.3,1170.7 982.7,1170.6 983.1,1170.4 983.5,1170.3 983.9,1170.3 984.3,1170.7 984.7,1170.7 985.1,1170.3 985.5,1170.4 985.9,1170.4 986.3,1171 986.7,1170.8 987.1,1170.7 987.5,1170.8 987.9,1170.7 988.3,1170.4 988.7,1170.8 989.1,1170.7 989.5,1170.9 989.9,1170.7 990.3,1170.7 990.7,1171 991.1,1171.1 991.5,1170.6 991.9,1170.5 992.3,1170.9 992.7,1171 993.1,1171.1 993.5,1170.7 993.9,1170.8 994.3,1170.5 994.7,1170.7 995.1,1170.8 995.5,1170.8 995.9,1170.5 996.3,1170.5 996.7,1171.1 997.1,1171.1 997.5,1171.1 997.9,1171.2 998.3,1170.6 998.7,1170.5 999.1,1170.9 999.5,1170.7 999.9,1170.8 1000.3,1170.8 1000.7,1171 1001.1,1170.6 1001.5,1171 1001.9,1171.2 1002.3,1171.2 1002.7,1170.7 1003.1,1170.7 1003.5,1170.7 1003.9,1170.7 1004.3,1171.1 1004.7,1171 1005.1,1171.1 1005.5,1170.7 1005.9,1171.3 1006.3,1171.1 1006.7,1170.8 1007.1,1170.9 1007.5,1171.3 1007.9,1171.2 1008.3,1171.2 1008.7,1171.1 1009.1,1170.9 1009.5,1171.2 1009.9,1170.7 1010.3,1170.8 1010.7,1170.5 1010.9,1170.3 1011.1,1169.2 1011.2,1168.9 1011.4,1164.5 1011.5,1162 1011.6,1162.7 1011.8,1165.5 1011.9,1166.7 1012.1,1168.5 1012.3,1169.3 1012.7,1170.6 1013.1,1170.6 1013.5,1170.7 1013.9,1170.7 1014.3,1171.1 1014.7,1170.8 1015.1,1171.2 1015.5,1171.3 1015.9,1171.3 1016.3,1170.7 1016.7,1171.2 1017.1,1170.9 1017.5,1171.3 1017.9,1171 1018.3,1171.2 1018.7,1171 1019.1,1170.9 1019.5,1170.9 1019.9,1171 1020.3,1170.9 1020.7,1171.4 1021.1,1171.4 1021.5,1171.3 1021.9,1171.1 1022.3,1170.9 1022.7,1171.4 1023.1,1171.3 1023.5,1171.1 1023.9,1171.2 1024.3,1171.4 1024.7,1171.2 1025.1,1171.4 1025.5,1171.4 1025.9,1170.9 1026.3,1171.2 1026.7,1171 1027.1,1171.3 1027.5,1171 1027.9,1170.9 1028.3,1171.4 1028.7,1171.1 1029.1,1170.9 1029.5,1171 1029.9,1171.4 1030.3,1171 1030.7,1171 1031.1,1171.3 1031.5,1171 1031.9,1171 1032.3,1171.3 1032.7,1170.9 1033.1,1170.9 1033.5,1171.3 1033.9,1171 1034.3,1170.8 1034.5,1170.9 1034.7,1170.3 1034.8,1169.5 1035,1169.2 1035.1,1169 1035.2,1168.6 1035.3,1168.9 1035.5,1169.6 1035.5,1170.3 1035.8,1170.3 1035.9,1170.9 1036.3,1171.1 1036.7,1171.3 1037.1,1170.9 1037.5,1171.1 1037.9,1171.2 1038.3,1171.2 1038.7,1171.1 1039.1,1171.1 1039.5,1171.4 1039.9,1171 1040.3,1171.3 1040.7,1171.5 1041.1,1170.9 1041.5,1171.4 1041.9,1171 1042.3,1171 1042.7,1171.2 1043.1,1171.1 1043.5,1171.4 1043.9,1171.4 1044.3,1171 1044.7,1171 1045.1,1171 1045.5,1171.2 1045.9,1171.5 1046.3,1171 1046.7,1170.9 1047.1,1171.3 1047.5,1171.1 1047.9,1171.4 1048.3,1170.9 1048.7,1171.1 1049.1,1171.5 1049.5,1171.1 1049.9,1171.1 1050.3,1171.3 1050.7,1171.2 1051.1,1171 1051.5,1171.1 1051.9,1171.2 1052.3,1170.9 1052.7,1171.1 1053.1,1171.1 1053.5,1171.2 1053.9,1171.1 1054.3,1171.1 1054.7,1171.2 1055.1,1171.2 1055.5,1171.4 1055.9,1171.1 1056.3,1171.1 1056.7,1171.3 1057.1,1171.5 1057.5,1171.1 1057.9,1171.1 1058.3,1171.1 1058.7,1171.4 1059.1,1171 1059.5,1171.1 1059.9,1171 1060.3,1171.4 1060.7,1171.3 1061.1,1171.1 1061.5,1171.2 1061.6,1170.6 1061.9,1170.4 1061.9,1170.3 1062,1169.1 1062.2,1169.1 1062.3,1169.2 1062.3,1169.3 1062.5,1170.4 1062.7,1171 1062.8,1170.7 1063.1,1170.8 1063.5,1171 1063.9,1171.4 1064.3,1171.3 1064.7,1171.2 1065.1,1171.5 1065.5,1171 1065.9,1171 1066.3,1171 1066.7,1171 1067.1,1171 1067.5,1171.4 1067.9,1171.2 1068.3,1171 1068.7,1171.5 1069.1,1171.5 1069.5,1171 1069.9,1171.5 1070.3,1171 1070.7,1171.3 1071.1,1171.4 1071.5,1171.3 1071.9,1171 1072.3,1171.2 1072.7,1171.5 1073.1,1171.1 1073.5,1171.3 1073.9,1171.1 1074.3,1171.3 1074.7,1171 1075.1,1171.2 1075.5,1171.3 1075.9,1171 1076.3,1171 1076.7,1171.2 1077.1,1171.2 1077.5,1171.2 1077.9,1171.2 1078.3,1171.4 1078.7,1171 1079.1,1171.3 1079.5,1171 1079.9,1171.2 1080.3,1171 1080.7,1171 1081.1,1171.4 1081.5,1171.5 1081.9,1171.2 1082.3,1171.2 1082.7,1171.4 1083.1,1171.4 1083.5,1171.4 1083.9,1171.5 1084.3,1171.3 1084.7,1171.3 1085.1,1171.3 1085.5,1171.1 1085.9,1171.3 1086.3,1171.1 1086.7,1171.1 1087.1,1171.3 1087.5,1171.3 1087.9,1171.4 1088.3,1171.2 1088.7,1171.1 1089.1,1171 1089.5,1171.1 1089.9,1171 1090.3,1171.2 1090.7,1171.3 1091.1,1171 1091.5,1171.2 1091.9,1171.5 1092.3,1171.1 1092.7,1171.2 1093.1,1171.1 1093.5,1171.3 1093.9,1171.2 1094.3,1171.2 1094.7,1171.2 1095.1,1171 1095.5,1171.3 1095.9,1171.2 1096.3,1171 1096.7,1171.5 1097.1,1171.1 1097.5,1171.2 1097.9,1171.3 1098.3,1171.5 1098.7,1171.3 1099.1,1171.5 1099.5,1171.5 1099.9,1171.3 1100.3,1171.2 1100.7,1171 1101.1,1171.2 1101.5,1171.1 1101.9,1171.2 1102.3,1171.6 1102.7,1171.4 1103.1,1171.5 1103.5,1171.2 1103.9,1171.4 1104.3,1171.2 1104.7,1171.4 1105.1,1171.5 1105.5,1171.4 1105.9,1171 1106.3,1171.3 1106.7,1171.2 1107.1,1171.3 1107.5,1171.3 1107.9,1171.2 1108.3,1171 1108.7,1171.2 1109.1,1171.1 1109.5,1171.4 1109.9,1171.4 1110.3,1171.6 1110.7,1171.3 1111.1,1171.5 1111.5,1171.4 1111.9,1171.3 1112.3,1171.4 1112.7,1171.5 1113.1,1171.3 1113.5,1171 1113.9,1171.2 1114.3,1171.2 1114.7,1171 1115.1,1171.2 1115.5,1171 1115.9,1171.2 1116.3,1171.1 1116.7,1171.2 1117.1,1171 1117.5,1171.2 1117.9,1171.4 1118.3,1171.2 1118.7,1171.5 1119.1,1171.3 1119.5,1171 1119.9,1171.5 1120.3,1171.3 1120.7,1171.4 1121.1,1171.2 1121.5,1171.1 1121.9,1171.4 1122.3,1171.2 1122.7,1171.6 1123.1,1171.4 1123.5,1171.3 1123.9,1171.2 1124.3,1171.1 1124.7,1171 1125.1,1171.3 1125.5,1171.4 1125.9,1171.1 1126.3,1171.1 1126.7,1171.1 1127.1,1171.2 1127.5,1171.2 1127.9,1171.3 1128.3,1171.2 1128.7,1171.4 1129.1,1171.2 1129.5,1171.1 1129.9,1171.4 1130.3,1171.1 1130.7,1171.5 1131.1,1171.5 1131.5,1171.5 1131.9,1171.4 1132.3,1171.3 1132.7,1171.3 1133.1,1171 1133.5,1171.5 1133.9,1171.1 1134.3,1171.4 1134.7,1171.4 1135.1,1171.3 1135.5,1171.3 1135.9,1171.2 1136.3,1171.6 1136.7,1171.2 1137.1,1171.6 1137.5,1171.5 1137.9,1171.4 1138.3,1171.3 1138.7,1171.1 1139.1,1171.6 1139.5,1171.6 1139.9,1171.3 1140.3,1171.4 1140.7,1171.2 1141.1,1171.1 1141.5,1171 1141.9,1171 1142.3,1171 1142.7,1171.4 1143.1,1171.2 1143.5,1171.5 1143.9,1171.3 1144.3,1171.2 1144.7,1171.2 1145.1,1171 1145.5,1171.4 1145.9,1171.3 1146.3,1171 1146.7,1171.1 1147.1,1171.5 1147.5,1171.3 1147.9,1171.1 1148.3,1171.5 1148.7,1171.1 1149.1,1171 1149.5,1171.2 1149.9,1171.5 1150.3,1171.2 1150.7,1171.5 1151.1,1171 1151.5,1171.4 1151.9,1171.5 1152.3,1171.3 1152.7,1171.4 1153.1,1171.1 1153.5,1171.5 1153.9,1171.5 1154.3,1171.4 1154.7,1171.3 1155.1,1171.3 1155.5,1171 1155.9,1171.3 1156.3,1171.1 1156.7,1171.5 1157.1,1171.3 1157.5,1171 1157.9,1171.1 1158.3,1171.2 1158.7,1171.5 1159.1,1171 1159.5,1171.4 1159.9,1171.2 1160.3,1171.5 1160.7,1171.5 1161.1,1171.3 1161.5,1171.1 1161.9,1171.1 1162.3,1171.3 1162.7,1171.4 1163.1,1171.2 1163.5,1171.3 1163.9,1171.4 1164.3,1171.5 1164.7,1171.5 1165.1,1171.5 1165.5,1171.1 1165.9,1171 1166.3,1171.1 1166.7,1171.2 1167.1,1171.3 1167.5,1171.4 1167.9,1171.3 1168.3,1171.3 1168.7,1171.1 1169.1,1171 1169.5,1171.3 1169.9,1171.4 1170.3,1171.1 1170.7,1171 1171.1,1171 1171.5,1171 1171.9,1171.1 1172.3,1171.1 1172.7,1171.3 1173.1,1171.2 1173.5,1171.5 1173.9,1171 1174.3,1171.4 1174.7,1171.1 1175.1,1171.1 1175.5,1171.1 1175.9,1171.4 1176.3,1171.3 1176.7,1171.6 1177.1,1171.1 1177.5,1171.2 1177.9,1171.5 1178.3,1171.4 1178.7,1171.3 1179.1,1171.3 1179.5,1171.4 1179.9,1171.4 1180.3,1171.3 1180.7,1171.1 1181.1,1171.3 1181.5,1171.3 1181.9,1171.4 1182.3,1171 1182.7,1171.1 1183.1,1171.2 1183.5,1171.5 1183.9,1171.1 1184.3,1171.3 1184.7,1171.2 1185.1,1171.3 1185.5,1171.5 1185.9,1171.3 1186.3,1171.1 1186.7,1171.5 1187.1,1171.2 1187.5,1171.4 1187.9,1171.6 1188.3,1171.5 1188.7,1171.3 1189.1,1171.4 1189.5,1171.5 1189.9,1171.4 1190.3,1171.1 1190.7,1171.3 1191.1,1171.2 1191.5,1171 1191.9,1171.4 1192.3,1171 1192.7,1171.2 1193.1,1171.2 1193.5,1171 1193.9,1171.5 1194.3,1171.3 1194.7,1171.3 1195.1,1171.3 1195.5,1171 1195.9,1171.4 1196.3,1171.4 1196.7,1171.1 1197.1,1171.1 1197.5,1171.4 1197.9,1171.5 1198.3,1171.3 1198.7,1171.2 1199.1,1171.1 1199.5,1171.2 1199.9,1171.3 1200.3,1171.1 1200.7,1171.2 1201.1,1171.2 1201.5,1171.6 1201.9,1171.2 1202.3,1171.3 1202.7,1171.3 1203.1,1171.3 1203.5,1171.1 1203.9,1171.5 1204.3,1171.1 1204.7,1171.5 1205.1,1171.1 1205.5,1171.1 1205.9,1171.6 1206.3,1171.3 1206.7,1171.1 1207.1,1171.4 1207.5,1171.5 1207.9,1171 1208.3,1171.4 1208.7,1171 1209.1,1171.4 1209.5,1171 1209.9,1171.2 1210.3,1171.5 1210.7,1171.4 1211.1,1171.2 1211.5,1171.6 1211.9,1171.4 1212.3,1171.4 1212.7,1171.5 1213.1,1171 1213.5,1171.3 1213.9,1171.4 1214.3,1171.4 1214.7,1171.5 1215.1,1171.2 1215.5,1171.2 1215.9,1171.1 1216.3,1171.1 1216.7,1171.1 1217.1,1171.4 1217.5,1171.4 1217.9,1171.5 1218.3,1171.2 1218.7,1171.2 1219.1,1171.5 1219.5,1171.2 1219.9,1171.1 1220.3,1171.6 1220.7,1171.2 1221.1,1171.1 1221.5,1171.1 1221.9,1171.4 1222.3,1171.4 1222.7,1171.5 1223.1,1171.4 1223.5,1171.2 1223.9,1171 1224.3,1171.4 1224.7,1171.2 1225.1,1171 1225.5,1171.2 1225.9,1171.5 1226.3,1171.4 1226.7,1171 1227.1,1171.6 1227.5,1171.3 1227.9,1171.4 1228.3,1171.5 1228.7,1171.2 1229.1,1171.4 1229.5,1171.4 1229.9,1171.1 1230.3,1171.2 1230.7,1171.1 1231.1,1171.6 1231.5,1171.1 1231.9,1171.3 1232.3,1171.3 1232.7,1171 1233.1,1171.3 1233.5,1171 1233.9,1171.1 1234.3,1171.5" fill="none" stroke="#1a1a1a" stroke-width="1.3" stroke-linejoin="round"/>
<circle cx="937.2" cy="771.3" r="7.7" fill="#0000ee" stroke="#000" stroke-width="1.4"/>
<text x="931.1" y="758.8" font-size="23.7" text-anchor="middle">+11</text>
<circle cx="909.2" cy="876.7" r="7.7" fill="#0000ee" stroke="#000" stroke-width="1.4"/>
<text x="899.4" y="864.2" font-size="23.7" text-anchor="middle">+12</text>
<circle cx="971.7" cy="1049.8" r="7.7" fill="#0000ee" stroke="#000" stroke-width="1.4"/>
<text x="964.2" y="1036.3" font-size="23.7" text-anchor="middle">+10</text>
<circle cx="885.2" cy="1081.2" r="7.7" fill="#0000ee" stroke="#000" stroke-width="1.4"/>
<text x="881.8" y="1068.7" font-size="23.7" text-anchor="middle">+13</text>
<circle cx="865.3" cy="1110.3" r="7.7" fill="#0000ee" stroke="#000" stroke-width="1.4"/>
<text transform="translate(836.6 1073.1) rotate(45)" font-size="23.7" text-anchor="start">+14</text>
<circle cx="831.8" cy="1075.2" r="7.7" fill="#0000ee" stroke="#000" stroke-width="1.4"/>
<text transform="translate(800.8 1037) rotate(45)" font-size="23.7" text-anchor="start">+15</text>
<circle cx="801.1" cy="1085" r="7.7" fill="#0000ee" stroke="#000" stroke-width="1.4"/>
<text transform="translate(767 1050.5) rotate(45)" font-size="23.7" text-anchor="start">+16</text>
<circle cx="771.7" cy="1108.3" r="7.7" fill="#0000ee" stroke="#000" stroke-width="1.4"/>
<text transform="translate(737.7 1075.8) rotate(45)" font-size="23.7" text-anchor="start">+17</text>
<line x1="781.8" y1="1118.7" x2="791.6" y2="1125.7" stroke="#000" stroke-width="1.3"/>
<line x1="806.8" y1="1136.5" x2="816.6" y2="1143.4" stroke="#000" stroke-width="1.3"/>
<line x1="808.9" y1="1099.5" x2="815.9" y2="1109.5" stroke="#000" stroke-width="1.3"/>
<line x1="822.3" y1="1117.7" x2="829.5" y2="1126.8" stroke="#000" stroke-width="1.3"/>
<line x1="834.2" y1="1089.3" x2="838.3" y2="1100.5" stroke="#000" stroke-width="1.3"/>
<line x1="841.9" y1="1109.5" x2="846.6" y2="1120.9" stroke="#000" stroke-width="1.3"/>
<rect x="1031.8" y="819.3" width="47.3" height="213" fill="#0000ee"/>
<text x="1057.1" y="812.5" font-size="23.7" text-anchor="middle">100</text>
<text x="1121.3" y="1016" font-size="23.7" text-anchor="middle">0</text>
<text transform="translate(1012.9 917.2) rotate(-90)" font-size="36" text-anchor="middle">%</text>
<circle cx="1058.1" cy="1054.9" r="12" fill="#0000ee" stroke="#000" stroke-width="1.4"/>
<circle cx="1116.2" cy="1054.9" r="11.3" fill="#fdd060" stroke="#000" stroke-width="1.4"/>
<circle cx="1129" cy="1054.9" r="11.3" fill="#fdd060" stroke="#000" stroke-width="1.4"/>
<g transform="translate(1203 775.7) scale(1.000)">
<path d="M-33.7,247.3 A33.7,7.9 0 0 1 33.7,247.3 L33.7,278.3 A33.7,7.9 0 0 1 -33.7,278.3 Z" fill="#cbd6e9" stroke="#bfbcb7" stroke-width="1.1"/>
<path d="M-33.7,247.3 A33.7,7.9 0 0 0 33.7,247.3" fill="none" stroke="#bfbcb7" stroke-width="1.1"/>
<line x1="0" y1="67" x2="0" y2="245.6" stroke="#000" stroke-width="1.5"/>
<rect x="-13.3" y="0" width="26.6" height="68" rx="13.3" ry="13.3" fill="#690033" stroke="#000" stroke-width="1.5"/>
<rect x="-13.3" y="78.3" width="26.6" height="68" rx="13.3" ry="13.3" fill="#006a6b" stroke="#000" stroke-width="1.5"/>
<rect x="-13.3" y="156.5" width="26.6" height="68" rx="13.3" ry="13.3" fill="#006633" stroke="#000" stroke-width="1.5"/>
<rect x="-13.3" y="243.6" width="26.6" height="38.2" rx="13.3" ry="13.3" fill="#9b0000" stroke="#000" stroke-width="1.5"/>
<path transform="translate(0 281.8)" d="M2.7,0 C2,3 0.5,5 0.3,8.1 C0.1,12 0.3,15 -0.2,17.7 C-0.7,20.5 -1.8,22 -3,22 C-5,22 -5.9,18.5 -5.9,14.8 C-5.9,11 -5,8.6 -3,8.6 C-1,8.3 1,8.3 2.7,9.1 C6.5,10.5 8.7,14 9.4,17.7 C10,20.5 10.4,23 10.2,25.3 C10,29 9.2,32 8,33.5 C7.2,34.5 6,34.3 5.1,33.9 C3,33 1.5,31 -0.2,30.6 L6.1,51.2 L-4.2,44.3" fill="none" stroke="#000" stroke-width="1.7" stroke-linejoin="round" stroke-linecap="round"/>
</g>
<path d="M1196.5,768.6 L1177,768.6 L1177,786.1 M1209.8,768.6 L1229.3,768.6 L1229.3,786.1 M1196.5,1008.6 L1177,1008.6 L1177,991.1 M1209.8,1008.6 L1229.3,1008.6 L1229.3,991.1 M1177,827.8 L1177,867.8 M1229.3,827.8 L1229.3,867.8 M1177,909.5 L1177,949.5 M1229.3,909.5 L1229.3,949.5" fill="none" stroke="#e8274b" stroke-width="1.5"/>
<text x="1308.4" y="686.9" font-size="47" text-anchor="start" style="stroke-width:.4px">f</text>
<text x="1624" y="684.8" font-size="35.6" text-anchor="middle">C2 denatured</text>
<line x1="1354.8" y1="779" x2="1354.8" y2="1168.4" stroke="#1a1a1a" stroke-width="1.4"/>
<line x1="1346.8" y1="1167.7" x2="1883.2" y2="1167.7" stroke="#1a1a1a" stroke-width="1.4"/>
<line x1="1346.8" y1="779.7" x2="1354.8" y2="779.7" stroke="#1a1a1a" stroke-width="1.4"/>
<line x1="1350.4" y1="973.7" x2="1354.8" y2="973.7" stroke="#1a1a1a" stroke-width="1.4"/>
<text x="1346.1" y="789.2" font-size="23.7" text-anchor="end">100</text>
<text x="1346.7" y="1170.7" font-size="23.7" text-anchor="end">0</text>
<line x1="1354.8" y1="1167.7" x2="1354.8" y2="1175.6" stroke="#1a1a1a" stroke-width="1.4"/>
<text transform="translate(1368.2 1186.3) rotate(-45)" font-size="23.7" text-anchor="end">1000</text>
<line x1="1381.2" y1="1167.7" x2="1381.2" y2="1172.4" stroke="#1a1a1a" stroke-width="1.4"/>
<line x1="1407.6" y1="1167.7" x2="1407.6" y2="1175.6" stroke="#1a1a1a" stroke-width="1.4"/>
<text transform="translate(1421 1186.3) rotate(-45)" font-size="23.7" text-anchor="end">1500</text>
<line x1="1434" y1="1167.7" x2="1434" y2="1172.4" stroke="#1a1a1a" stroke-width="1.4"/>
<line x1="1460.3" y1="1167.7" x2="1460.3" y2="1175.6" stroke="#1a1a1a" stroke-width="1.4"/>
<text transform="translate(1473.7 1186.3) rotate(-45)" font-size="23.7" text-anchor="end">2000</text>
<line x1="1486.7" y1="1167.7" x2="1486.7" y2="1172.4" stroke="#1a1a1a" stroke-width="1.4"/>
<line x1="1513.1" y1="1167.7" x2="1513.1" y2="1175.6" stroke="#1a1a1a" stroke-width="1.4"/>
<text transform="translate(1526.5 1186.3) rotate(-45)" font-size="23.7" text-anchor="end">2500</text>
<line x1="1539.5" y1="1167.7" x2="1539.5" y2="1172.4" stroke="#1a1a1a" stroke-width="1.4"/>
<line x1="1565.9" y1="1167.7" x2="1565.9" y2="1175.6" stroke="#1a1a1a" stroke-width="1.4"/>
<text transform="translate(1579.3 1186.3) rotate(-45)" font-size="23.7" text-anchor="end">3000</text>
<line x1="1592.3" y1="1167.7" x2="1592.3" y2="1172.4" stroke="#1a1a1a" stroke-width="1.4"/>
<line x1="1618.7" y1="1167.7" x2="1618.7" y2="1175.6" stroke="#1a1a1a" stroke-width="1.4"/>
<text transform="translate(1632.1 1186.3) rotate(-45)" font-size="23.7" text-anchor="end">3500</text>
<line x1="1645" y1="1167.7" x2="1645" y2="1172.4" stroke="#1a1a1a" stroke-width="1.4"/>
<line x1="1671.4" y1="1167.7" x2="1671.4" y2="1175.6" stroke="#1a1a1a" stroke-width="1.4"/>
<text transform="translate(1684.8 1186.3) rotate(-45)" font-size="23.7" text-anchor="end">4000</text>
<line x1="1697.8" y1="1167.7" x2="1697.8" y2="1172.4" stroke="#1a1a1a" stroke-width="1.4"/>
<line x1="1724.2" y1="1167.7" x2="1724.2" y2="1175.6" stroke="#1a1a1a" stroke-width="1.4"/>
<text transform="translate(1737.6 1186.3) rotate(-45)" font-size="23.7" text-anchor="end">4500</text>
<line x1="1750.6" y1="1167.7" x2="1750.6" y2="1172.4" stroke="#1a1a1a" stroke-width="1.4"/>
<line x1="1777" y1="1167.7" x2="1777" y2="1175.6" stroke="#1a1a1a" stroke-width="1.4"/>
<text transform="translate(1790.4 1186.3) rotate(-45)" font-size="23.7" text-anchor="end">5000</text>
<line x1="1803.3" y1="1167.7" x2="1803.3" y2="1172.4" stroke="#1a1a1a" stroke-width="1.4"/>
<line x1="1829.7" y1="1167.7" x2="1829.7" y2="1175.6" stroke="#1a1a1a" stroke-width="1.4"/>
<text transform="translate(1843.1 1186.3) rotate(-45)" font-size="23.7" text-anchor="end">5500</text>
<line x1="1856.1" y1="1167.7" x2="1856.1" y2="1172.4" stroke="#1a1a1a" stroke-width="1.4"/>
<line x1="1882.5" y1="1167.7" x2="1882.5" y2="1175.6" stroke="#1a1a1a" stroke-width="1.4"/>
<text transform="translate(1895.9 1186.3) rotate(-45)" font-size="23.7" text-anchor="end">6000</text>
<text transform="translate(1317.2 977.5) rotate(-90)" font-size="24" text-anchor="middle">relative intensity</text>
<text transform="translate(1346 977.6) rotate(-90)" font-size="24" text-anchor="middle">[%]</text>
<text x="1600.2" y="1253" font-size="30" text-anchor="middle">m/z</text>
<path d="M1354.8,1166.5 1355.2,1166.3 1355.6,1166.3 1356,1166.2 1356.4,1166.5 1356.8,1166.5 1357.2,1166.5 1357.6,1166.5 1358,1166.2 1358.4,1166.5 1358.8,1166.3 1359.2,1166.5 1359.6,1166.4 1360,1166.3 1360.4,1166.1 1360.8,1166.2 1361.2,1166.5 1361.6,1166.3 1362,1166.3 1362.4,1165.7 1362.8,1165.4 1363.2,1164.5 1363.2,1164.2 1363.5,1160.8 1363.6,1153 1363.6,1150.4 1363.8,1141.7 1363.9,1150.5 1364,1159.3 1364,1160.8 1364.3,1164.6 1364.4,1164.9 1364.8,1165.8 1365.2,1166 1365.6,1166.1 1366,1166.3 1366.4,1165.9 1366.8,1165.9 1367.2,1165.7 1367.6,1165.7 1367.9,1165.4 1368,1164.9 1368.2,1163.8 1368.4,1158.5 1368.4,1156.7 1368.5,1154.5 1368.6,1159 1368.8,1163.6 1368.8,1164 1369.1,1165.4 1369.2,1165.6 1369.6,1166 1370,1166.2 1370.4,1166.1 1370.8,1166.2 1371.2,1166.2 1371.6,1166.3 1372,1166.2 1372.4,1166.3 1372.8,1166 1373.2,1165.8 1373.6,1166 1374,1165.8 1374.4,1165.6 1374.8,1166 1375.2,1165.6 1375.6,1164.5 1376,1162.3 1376,1162.2 1376.3,1154.9 1376.4,1144.6 1376.5,1136 1376.6,1122.1 1376.7,1135.1 1376.8,1148.4 1376.9,1154.1 1377.2,1162.5 1377.2,1162.5 1377.6,1165 1378,1165.1 1378.4,1165.6 1378.8,1165.7 1379.2,1166 1379.6,1165.8 1380,1165.9 1380.4,1165.9 1380.8,1166 1381.2,1165.8 1381.6,1166 1382,1166 1382.4,1166 1382.7,1165.4 1382.8,1165.6 1383,1164.5 1383.2,1161.9 1383.2,1161 1383.3,1158.3 1383.5,1161.2 1383.6,1164.2 1383.6,1164.4 1383.9,1165.6 1384,1165.8 1384.4,1166.1 1384.8,1165.6 1385.2,1166.1 1385.6,1166 1386,1166 1386.4,1165.8 1386.8,1166.1 1387.2,1165.9 1387.6,1165.9 1388,1165.6 1388.4,1166.1 1388.8,1165.8 1389.2,1165.6 1389.6,1165.2 1390,1165.1 1390.2,1164.8 1390.4,1163.6 1390.5,1163.1 1390.7,1158.5 1390.8,1154.2 1390.8,1154.3 1390.9,1158 1391.1,1162.5 1391.2,1163 1391.4,1163 1391.6,1162.6 1391.9,1159.4 1392,1155.8 1392.2,1145.9 1392.3,1113.5 1392.4,1098.3 1392.5,1091.6 1392.6,1104.6 1392.8,1133.1 1392.8,1137.7 1393.1,1153.3 1393.2,1157.1 1393.6,1162.3 1394,1163.5 1394.4,1164.7 1394.8,1164.9 1395.2,1165.1 1395.6,1165.4 1396,1165.6 1396.4,1165.6 1396.8,1165.8 1397.2,1165.4 1397.6,1165.9 1398,1165.4 1398.4,1165.9 1398.8,1165.8 1399.2,1165.8 1399.6,1166 1400,1165.9 1400.4,1165.8 1400.8,1165.7 1401.2,1165.4 1401.6,1165.2 1402,1165.6 1402,1165.2 1402.3,1164.5 1402.4,1162.7 1402.5,1161.5 1402.6,1158.7 1402.7,1161.4 1402.8,1163.5 1402.9,1164.6 1403.2,1165.4 1403.2,1165 1403.6,1165.7 1404,1165.6 1404.4,1165.7 1404.8,1165.7 1405.2,1165.4 1405.6,1165.8 1406,1165.4 1406.4,1165.4 1406.8,1165.2 1407.2,1165.5 1407.6,1165.1 1408,1165.4 1408.4,1165.2 1408.8,1165.1 1409.2,1164.8 1409.6,1164.5 1410,1164.5 1410.4,1163.1 1410.4,1162.6 1410.7,1157.5 1410.8,1154.5 1410.9,1144.9 1411,1132.7 1411.2,1144.1 1411.2,1149.4 1411.3,1156.8 1411.6,1160.4 1411.6,1160 1412,1158.8 1412.4,1149.8 1412.5,1146.8 1412.8,1109.4 1412.8,1098.1 1412.9,1034.1 1413.1,989.2 1413.2,1006.6 1413.2,1012.1 1413.4,1060.7 1413.6,1109.5 1413.7,1117.6 1414,1141.3 1414.4,1150.9 1414.8,1155.8 1415.2,1158.1 1415.6,1158.3 1416,1159.5 1416.4,1160.8 1416.8,1161.2 1417.2,1161.2 1417.6,1161.4 1418,1160.7 1418.4,1161.9 1418.8,1161.2 1419.2,1161.3 1419.6,1162.1 1420,1161.4 1420.4,1161.8 1420.8,1162.3 1421.2,1162.7 1421.6,1162.5 1422,1161.9 1422.4,1162.5 1422.8,1163 1423.2,1162.8 1423.6,1162.7 1424,1163.1 1424.4,1162.6 1424.8,1163.1 1425,1161.9 1425.2,1161.6 1425.2,1161.2 1425.4,1156.3 1425.5,1152.6 1425.6,1152.7 1425.7,1156.1 1425.8,1160.6 1426,1161.4 1426.2,1162.6 1426.4,1162.3 1426.8,1162.6 1427.2,1163 1427.6,1162.3 1428,1163.5 1428.4,1162.5 1428.8,1163.4 1429.2,1162.5 1429.6,1163.3 1430,1163.4 1430.4,1162.9 1430.8,1162.3 1431.2,1163.1 1431.6,1162.8 1432,1162.6 1432.4,1163 1432.8,1162.6 1433.2,1163.2 1433.6,1162.6 1434,1162.1 1434.4,1162.5 1434.8,1162.5 1435.2,1162.5 1435.6,1161.4 1436,1161.3 1436.4,1160 1436.8,1158.7 1437.1,1156.5 1437.2,1153.7 1437.4,1144.3 1437.6,1115.3 1437.6,1112.5 1437.7,1088.8 1437.8,1113.2 1438,1141.2 1438,1142.1 1438.3,1151.3 1438.4,1151.7 1438.8,1147.1 1439.2,1133.6 1439.5,1106.7 1439.6,1081 1439.8,1005.7 1440,849.6 1440,813 1440.1,778.9 1440.2,812.6 1440.4,917 1440.4,929.1 1440.7,1040.2 1440.8,1066.5 1441.2,1106.7 1441.6,1123.4 1442,1125.8 1442.4,1131.9 1442.8,1133.7 1443.2,1135.3 1443.6,1138.9 1444,1142.5 1444.4,1145.7 1444.8,1145.2 1445.2,1146.9 1445.6,1146.5 1446,1147.4 1446.4,1147.4 1446.8,1150.3 1447.2,1151.1 1447.6,1151.2 1448,1151.2 1448.4,1154.2 1448.8,1154.3 1449.2,1155.1 1449.6,1155.1 1450,1155.6 1450.4,1154.1 1450.8,1156.7 1451.2,1155.1 1451.6,1157.2 1452,1157.8 1452.4,1156.3 1452.8,1158.8 1453.2,1159.1 1453.6,1159.4 1454,1159.9 1454.4,1159.6 1454.8,1160.3 1455.2,1160.7 1455.6,1161.3 1456,1160.2 1456.4,1161.2 1456.7,1160.3 1456.8,1159.3 1457,1156.7 1457.2,1151.2 1457.2,1150.1 1457.3,1146.9 1457.4,1151 1457.6,1156.9 1457.9,1160.7 1458,1161.1 1458.4,1160.8 1458.8,1161.2 1459.2,1161.4 1459.6,1161.1 1460,1162.2 1460.4,1161.4 1460.8,1162 1461.2,1162.1 1461.6,1162.4 1462,1162.4 1462.4,1162.1 1462.8,1162.2 1463.2,1161.8 1463.6,1162.8 1464,1162.2 1464.4,1163.2 1464.8,1162.5 1465.2,1163.2 1465.6,1162.4 1466,1162.3 1466.4,1163.3 1466.8,1162.7 1467.2,1163.5 1467.6,1163.4 1468,1163.7 1468.4,1163.3 1468.8,1163.7 1469.2,1163 1469.6,1163.1 1470,1163.4 1470.4,1163 1470.8,1163.6 1471.2,1163.5 1471.6,1163.5 1472,1163.9 1472.4,1162.8 1472.8,1163.8 1473.2,1163.7 1473.6,1162.9 1474,1162.8 1474.4,1163.1 1474.8,1162.9 1475.2,1162.7 1475.3,1162.6 1475.6,1159.7 1475.6,1159.7 1475.8,1155.2 1475.9,1151 1476,1155.4 1476.2,1159.3 1476.4,1160.1 1476.5,1160.1 1476.8,1160 1477.2,1154.6 1477.3,1152.1 1477.6,1129.3 1477.8,1082.7 1477.9,1053.1 1478,1060.2 1478,1062.9 1478.2,1095.9 1478.4,1122.3 1478.5,1129.9 1478.8,1143.1 1479.2,1149.4 1479.6,1151.9 1480,1149.2 1480.4,1150.5 1480.8,1151.2 1481.2,1152.6 1481.6,1152.4 1482,1153.6 1482.4,1152.9 1482.8,1154.2 1483.2,1154.9 1483.6,1154.9 1484,1156.4 1484.4,1156.7 1484.8,1156.6 1485.2,1157.3 1485.6,1157.7 1486,1157.8 1486.4,1158.8 1486.8,1159 1487.2,1160 1487.6,1160.1 1488,1160 1488.4,1160.1 1488.8,1159.6 1489.2,1161.4 1489.6,1161 1490,1160.6 1490.4,1161.3 1490.8,1160.9 1491.2,1162.2 1491.6,1161.4 1492,1162.1 1492.4,1162 1492.8,1162.8 1493.2,1162.3 1493.6,1161.8 1494,1161.9 1494.4,1162.2 1494.8,1162.5 1495.2,1163.1 1495.6,1162.2 1496,1162.6 1496.4,1162.3 1496.8,1162.5 1497.2,1162.8 1497.6,1162.2 1498,1163.3 1498.4,1162.2 1498.8,1163.4 1499.2,1162.3 1499.6,1162.8 1500,1163 1500.4,1162.3 1500.8,1162.6 1501.2,1162 1501.3,1162.4 1501.6,1159.3 1501.6,1159.2 1501.8,1155.2 1501.9,1151.8 1502,1154.7 1502.2,1158.6 1502.4,1160.2 1502.5,1160.9 1502.8,1161.2 1503.2,1155.5 1503.3,1154.6 1503.6,1141.1 1503.6,1140.8 1503.8,1118.2 1503.9,1109.2 1504,1109 1504,1110.4 1504.2,1123.3 1504.4,1132.1 1504.5,1137.1 1504.8,1141.8 1505.2,1143.1 1505.6,1146.2 1506,1148.4 1506.4,1149 1506.8,1151.2 1507.2,1151 1507.6,1152.9 1508,1151.2 1508.4,1154.1 1508.8,1152.9 1509.2,1154.6 1509.6,1153.7 1510,1155.8 1510.4,1156.3 1510.8,1154.9 1511.2,1154.9 1511.6,1154.7 1512,1155.6 1512.4,1155 1512.8,1157.6 1513.2,1156.6 1513.6,1156.8 1514,1158.3 1514.4,1158.6 1514.8,1158.6 1515.2,1158.2 1515.6,1157.8 1516,1158.3 1516.4,1158.9 1516.8,1160.2 1517.2,1159.1 1517.6,1159.8 1518,1160.7 1518.4,1160.1 1518.8,1161.1 1519.2,1161.2 1519.6,1161.1 1520,1160.7 1520.4,1161.9 1520.8,1161.5 1521.2,1161.9 1521.6,1161.3 1522,1161.2 1522.4,1162.1 1522.8,1161.5 1523.2,1162 1523.6,1162.5 1524,1162.5 1524.4,1162.2 1524.8,1161.9 1525.2,1162.3 1525.6,1163.3 1526,1162.3 1526.4,1162.7 1526.8,1163 1527.2,1163.3 1527.6,1163.2 1528,1162.9 1528.4,1163.6 1528.8,1163.8 1529.2,1163 1529.6,1163.7 1530,1164.2 1530.4,1163.3 1530.8,1164.2 1531.2,1163.9 1531.6,1163.7 1532,1163.7 1532.4,1163.4 1532.8,1164.2 1533.2,1163.8 1533.6,1163.5 1534,1163.9 1534.4,1162.4 1534.7,1158.7 1534.8,1157 1535,1152.5 1535.2,1149.7 1535.3,1145.4 1535.4,1146.4 1535.6,1144.1 1535.6,1144.6 1535.9,1144.1 1536,1144.5 1536.4,1147.6 1536.8,1147.4 1537.2,1152.1 1537.6,1151.6 1538,1154.6 1538.4,1154 1538.8,1154 1539.2,1155.7 1539.6,1154.4 1540,1155.9 1540.4,1156.9 1540.8,1157.3 1541.2,1156.5 1541.6,1157.4 1542,1158.6 1542.4,1158.3 1542.8,1157 1543.2,1158.6 1543.6,1158.4 1544,1159.3 1544.4,1160.4 1544.8,1159.7 1545.2,1160.6 1545.6,1161 1546,1160.2 1546.4,1160.3 1546.8,1161.7 1547.2,1160.3 1547.6,1162.1 1548,1162 1548.4,1161.9 1548.8,1161.4 1549.2,1161.7 1549.6,1161.9 1550,1162.5 1550.4,1162.1 1550.8,1163.3 1551.2,1162.3 1551.6,1163.5 1552,1163.4 1552.4,1162.7 1552.8,1162.8 1553.2,1163 1553.6,1163.5 1554,1162.8 1554.4,1163.3 1554.8,1163.8 1555.2,1163.9 1555.6,1162.9 1556,1164.1 1556.4,1164 1556.8,1163.9 1557.2,1163.3 1557.6,1163.4 1558,1163.5 1558.4,1163.8 1558.8,1164.5 1559.2,1163.8 1559.6,1164.3 1560,1163.2 1560.4,1162.9 1560.8,1163.7 1561.2,1162.6 1561.6,1163 1562,1162.9 1562.4,1161.5 1562.8,1161.8 1563.2,1161.8 1563.6,1161.1 1564,1161.9 1564.4,1161.3 1564.8,1161.1 1565.2,1160.8 1565.6,1162.2 1566,1161 1566.4,1162.4 1566.8,1162.3 1567.2,1162.2 1567.6,1162.6 1568,1162.8 1568.4,1162.1 1568.8,1162.6 1569.2,1163 1569.6,1162.6 1570,1163.3 1570.4,1162.6 1570.8,1162.4 1571.2,1163.1 1571.6,1163.3 1572,1163.4 1572.4,1163.4 1572.8,1163.4 1573.2,1163.7 1573.6,1163.6 1574,1163.1 1574.4,1163.4 1574.8,1163.9 1575.2,1163.9 1575.6,1163.1 1576,1163.7 1576.4,1163.1 1576.8,1163.4 1577.2,1163.4 1577.6,1163.8 1578,1163.5 1578.4,1163.7 1578.8,1163.6 1579.2,1163.2 1579.6,1164.2 1580,1164.1 1580.4,1163.3 1580.8,1163.3 1581.2,1163.4 1581.6,1163.4 1582,1164.3 1582.4,1163.6 1582.8,1164.3 1583.2,1163.5 1583.6,1164.1 1584,1164 1584.4,1164 1584.8,1164.3 1585.2,1164 1585.6,1163.7 1586,1164.1 1586.4,1164.2 1586.8,1164.3 1587.2,1164.5 1587.6,1164.4 1588,1163.8 1588.4,1163.7 1588.8,1164.4 1589.2,1164.5 1589.6,1164.5 1590,1163.9 1590.4,1164.6 1590.8,1164.7 1591.2,1164.6 1591.6,1164.8 1592,1164.8 1592.4,1164.7 1592.8,1164.3 1593.2,1164.1 1593.6,1164.8 1594,1164.7 1594.4,1164.5 1594.8,1165 1595.2,1165 1595.6,1164.5 1596,1164.7 1596.4,1164.8 1596.8,1164.7 1597.2,1165.1 1597.6,1164.9 1598,1165 1598.4,1165 1598.8,1165.1 1599.2,1164.5 1599.6,1165.2 1600,1164.9 1600.4,1165.1 1600.8,1165.1 1601.2,1164.6 1601.6,1164.5 1602,1164.5 1602.4,1165.1 1602.8,1164.9 1603.2,1165 1603.6,1165.3 1604,1165.1 1604.4,1164.9 1604.8,1165.1 1605.2,1164.8 1605.6,1165.1 1606,1165.2 1606.4,1164.8 1606.8,1165.1 1607.2,1165.3 1607.6,1164.8 1608,1165.2 1608.4,1165.1 1608.8,1165.2 1609.2,1164.9 1609.6,1165.1 1610,1165.3 1610.4,1165.4 1610.8,1165.1 1611.2,1165 1611.6,1165.2 1612,1165.1 1612.4,1165.3 1612.8,1165.4 1613.2,1165.5 1613.6,1165.6 1614,1165.7 1614.4,1165.1 1614.8,1165.4 1615.2,1165.8 1615.6,1165.7 1616,1165.6 1616.4,1165.3 1616.8,1165.3 1617.2,1165.3 1617.6,1165.7 1618,1165.6 1618.4,1165.2 1618.8,1165.7 1619.2,1165.5 1619.6,1165.9 1620,1165.6 1620.4,1165.6 1620.8,1165.4 1621.2,1165.3 1621.6,1165.5 1622,1165.8 1622.4,1165.4 1622.8,1165.4 1623.2,1166 1623.6,1165.8 1624,1165.7 1624.4,1165.9 1624.8,1165.9 1625.2,1165.6 1625.6,1166 1626,1165.8 1626.4,1166.1 1626.8,1165.8 1627.2,1165.5 1627.6,1166.2 1628,1166.1 1628.4,1165.6 1628.8,1165.6 1629.2,1165.9 1629.6,1166 1630,1166 1630.4,1165.8 1630.8,1165.9 1631.2,1166 1631.6,1165.8 1632,1166.2 1632.4,1166.1 1632.8,1165.8 1633.2,1165.8 1633.6,1166 1634,1165.9 1634.4,1165.8 1634.8,1166 1635.2,1166.3 1635.6,1166.3 1636,1166 1636.4,1166.2 1636.8,1166.1 1637.2,1166.4 1637.6,1165.9 1638,1166.3 1638.4,1166.1 1638.8,1166.1 1639.2,1166.2 1639.6,1166.3 1640,1166.1 1640.4,1166.3 1640.8,1166.4 1641.2,1166.4 1641.6,1166.5 1642,1166 1642.4,1166.4 1642.8,1166 1643.2,1166.1 1643.6,1166 1644,1166.2 1644.4,1166.4 1644.8,1166.5 1645.2,1166.2 1645.6,1166.1 1646,1166.2 1646.4,1166 1646.8,1166.5 1647.2,1166.2 1647.6,1166.2 1648,1166.1 1648.4,1166.4 1648.8,1166.1 1649.2,1166.6 1649.6,1166.3 1650,1166.4 1650.4,1166.3 1650.8,1166.5 1651.2,1166.4 1651.6,1166.4 1652,1166.4 1652.4,1166.4 1652.8,1166.5 1653.2,1166.6 1653.6,1166.4 1654,1166.1 1654.4,1166.2 1654.8,1166.6 1655.2,1166.4 1655.6,1166.6 1656,1166.5 1656.4,1166.2 1656.8,1166.5 1657.2,1166.7 1657.6,1166.4 1658,1166.4 1658.4,1166.5 1658.8,1166.3 1659.2,1166.5 1659.6,1166.6 1660,1166.7 1660.4,1166.5 1660.8,1166.4 1661.2,1166.5 1661.6,1166.6 1662,1166.7 1662.4,1166.4 1662.8,1166.3 1663.2,1166.5 1663.6,1166.5 1664,1166.7 1664.4,1166.7 1664.8,1166.8 1665.2,1166.5 1665.6,1166.4 1666,1166.5 1666.4,1166.5 1666.8,1166.5 1667.2,1166.7 1667.6,1166.7 1668,1166.8 1668.4,1166.5 1668.8,1166.6 1669.2,1166.7 1669.6,1166.5 1670,1166.5 1670.4,1166.9 1670.8,1166.8 1671.2,1166.7 1671.6,1166.6 1672,1166.8 1672.4,1166.7 1672.8,1166.7 1673.2,1166.8 1673.6,1166.7 1674,1166.9 1674.4,1166.8 1674.8,1166.7 1675.2,1166.6 1675.6,1166.8 1676,1166.7 1676.4,1166.7 1676.8,1166.7 1677.2,1166.8 1677.6,1166.9 1678,1167 1678.4,1166.7 1678.8,1166.7 1679.2,1166.8 1679.6,1166.7 1680,1166.9 1680.4,1167 1680.8,1166.8 1681.2,1166.9 1681.6,1166.8 1682,1166.7 1682.4,1166.9 1682.8,1166.9 1683.2,1166.8 1683.6,1166.7 1684,1166.8 1684.4,1166.8 1684.8,1166.7 1685.2,1166.7 1685.6,1167.1 1686,1166.7 1686.4,1167 1686.8,1166.9 1687.2,1166.9 1687.6,1166.7 1688,1167 1688.4,1167.1 1688.8,1166.7 1689.2,1166.9 1689.6,1166.9 1690,1166.9 1690.4,1167 1690.8,1167.1 1691.2,1166.9 1691.6,1167 1692,1166.9 1692.4,1166.7 1692.8,1166.7 1693.2,1167 1693.6,1167 1694,1167.1 1694.4,1166.9 1694.8,1167.1 1695.2,1167.1 1695.6,1166.8 1696,1166.9 1696.4,1166.8 1696.8,1167.1 1697.2,1167.1 1697.6,1166.9 1698,1166.9 1698.4,1167.1 1698.8,1167 1699.2,1166.9 1699.6,1167 1700,1167 1700.4,1167 1700.8,1167.1 1701.2,1167.1 1701.6,1167.2 1702,1166.8 1702.4,1167.1 1702.8,1166.9 1703.2,1167.1 1703.6,1166.8 1704,1167.2 1704.4,1166.9 1704.8,1167 1705.2,1166.8 1705.6,1166.9 1706,1167.2 1706.4,1167.2 1706.8,1167.1 1707.2,1167.2 1707.6,1166.9 1708,1167.2 1708.4,1167 1708.8,1166.9 1709.2,1167 1709.6,1166.8 1710,1167 1710.4,1167.1 1710.8,1166.9 1711.2,1167.2 1711.6,1167 1712,1167.1 1712.4,1167 1712.8,1167.1 1713.2,1166.9 1713.6,1166.9 1714,1167 1714.4,1167.1 1714.8,1166.9 1715.2,1166.9 1715.6,1167.2 1716,1166.9 1716.4,1167.2 1716.8,1167.2 1717.2,1167.2 1717.6,1167.1 1718,1167.1 1718.4,1166.9 1718.8,1167.2 1719.2,1167 1719.6,1167.1 1720,1167.2 1720.4,1166.9 1720.8,1167 1721.2,1167.2 1721.6,1167 1722,1167.1 1722.4,1167.1 1722.8,1167 1723.2,1167.1 1723.6,1167.2 1724,1167.3 1724.4,1167.1 1724.8,1167.1 1725.2,1167.2 1725.6,1167.1 1726,1167.3 1726.4,1167.2 1726.8,1167.2 1727.2,1167.2 1727.6,1167.1 1728,1167.3 1728.4,1167.2 1728.8,1167.1 1729.2,1167.2 1729.6,1167.3 1730,1167.1 1730.4,1167.2 1730.8,1167.1 1731.2,1167 1731.6,1167 1732,1167.1 1732.4,1167 1732.8,1167.1 1733.2,1167.2 1733.6,1167 1734,1167.3 1734.4,1167.3 1734.8,1167.2 1735.2,1167.3 1735.6,1167.2 1736,1167.2 1736.4,1167.3 1736.8,1167.1 1737.2,1167.4 1737.6,1167.2 1738,1167.3 1738.4,1167.1 1738.8,1167.4 1739.2,1167.3 1739.6,1167.2 1740,1167.3 1740.4,1167.1 1740.8,1167.4 1741.2,1167.4 1741.6,1167.4 1742,1167.2 1742.4,1167.2 1742.8,1167.2 1743.2,1167.2 1743.6,1167.1 1744,1167.3 1744.4,1167.4 1744.8,1167.3 1745.2,1167.1 1745.6,1167.1 1746,1167.4 1746.4,1167.4 1746.8,1167.1 1747.2,1167.1 1747.6,1167.3 1748,1167.2 1748.4,1167.4 1748.8,1167.2 1749.2,1167.3 1749.6,1167.2 1750,1167.4 1750.4,1167.2 1750.8,1167.3 1751.2,1167.2 1751.6,1167.1 1752,1167.2 1752.4,1167.1 1752.8,1167.2 1753.2,1167.3 1753.6,1167.3 1754,1167.1 1754.4,1167.2 1754.8,1167.4 1755.2,1167.1 1755.6,1167.3 1756,1167.2 1756.4,1167.1 1756.8,1167.1 1757.2,1167.4 1757.6,1167.4 1758,1167.3 1758.4,1167.2 1758.8,1167.1 1759.2,1167.2 1759.6,1167.2 1760,1167.1 1760.4,1167.3 1760.8,1167.3 1761.2,1167.2 1761.6,1167.2 1762,1167.1 1762.4,1167.1 1762.8,1167.3 1763.2,1167.3 1763.6,1167.4 1764,1167.2 1764.4,1167.3 1764.8,1167.3 1765.2,1167.3 1765.6,1167.2 1766,1167.2 1766.4,1167.3 1766.8,1167.2 1767.2,1167.2 1767.6,1167.1 1768,1167.2 1768.4,1167.1 1768.8,1167.3 1769.2,1167.1 1769.6,1167.4 1770,1167.2 1770.4,1167.4 1770.8,1167.2 1771.2,1167.3 1771.6,1167.4 1772,1167.2 1772.4,1167.4 1772.8,1167.2 1773.2,1167.4 1773.6,1167.4 1774,1167.3 1774.4,1167.2 1774.8,1167.2 1775.2,1167.3 1775.6,1167.1 1776,1167.4 1776.4,1167.4 1776.8,1167.3 1777.2,1167.2 1777.6,1167.2 1778,1167.1 1778.4,1167.3 1778.8,1167.2 1779.2,1167.2 1779.6,1167.4 1780,1167.3 1780.4,1167.3 1780.8,1167.2 1781.2,1167.3 1781.6,1167.4 1782,1167.4 1782.4,1167.3 1782.8,1167.4 1783.2,1167.2 1783.6,1167.1 1784,1167.2 1784.4,1167.4 1784.8,1167.2 1785.2,1167.4 1785.6,1167.4 1786,1167.3 1786.4,1167.2 1786.8,1167.2 1787.2,1167.3 1787.6,1167.4 1788,1167.3 1788.4,1167.2 1788.8,1167.1 1789.2,1167.3 1789.6,1167.3 1790,1167.1 1790.4,1167.4 1790.8,1167.2 1791.2,1167.4 1791.6,1167.2 1792,1167.2 1792.4,1167.4 1792.8,1167.4 1793.2,1167.1 1793.6,1167.3 1794,1167.2 1794.4,1167.2 1794.8,1167.3 1795.2,1167.4 1795.6,1167.2 1796,1167.3 1796.4,1167.3 1796.8,1167.2 1797.2,1167.1 1797.6,1167.3 1798,1167.3 1798.4,1167.2 1798.8,1167.3 1799.2,1167.1 1799.6,1167.3 1800,1167.4 1800.4,1167.3 1800.8,1167.1 1801.2,1167.3 1801.6,1167.1 1802,1167.2 1802.4,1167.2 1802.8,1167.4 1803.2,1167.3 1803.6,1167.4 1804,1167.3 1804.4,1167.4 1804.8,1167.1 1805.2,1167.4 1805.6,1167.3 1806,1167.4 1806.4,1167.4 1806.8,1167.2 1807.2,1167.3 1807.6,1167.3 1808,1167.2 1808.4,1167.2 1808.8,1167.4 1809.2,1167.2 1809.6,1167.2 1810,1167.3 1810.4,1167.3 1810.8,1167.2 1811.2,1167.3 1811.6,1167.4 1812,1167.2 1812.4,1167.2 1812.8,1167.4 1813.2,1167.2 1813.6,1167.1 1814,1167.2 1814.4,1167.3 1814.8,1167.2 1815.2,1167.4 1815.6,1167.4 1816,1167.3 1816.4,1167.3 1816.8,1167.2 1817.2,1167.2 1817.6,1167.3 1818,1167.3 1818.4,1167.2 1818.8,1167.3 1819.2,1167.4 1819.6,1167.3 1820,1167.3 1820.4,1167.2 1820.8,1167.2 1821.2,1167.1 1821.6,1167.2 1822,1167.3 1822.4,1167.2 1822.8,1167.4 1823.2,1167.3 1823.6,1167.1 1824,1167.4 1824.4,1167.3 1824.8,1167.3 1825.2,1167.2 1825.6,1167.4 1826,1167.2 1826.4,1167.4 1826.8,1167.1 1827.2,1167.4 1827.6,1167.3 1828,1167.2 1828.4,1167.3 1828.8,1167.4 1829.2,1167.3 1829.6,1167.2 1830,1167.3 1830.4,1167.3 1830.8,1167.2 1831.2,1167.3 1831.6,1167.2 1832,1167.3 1832.4,1167.2 1832.8,1167.3 1833.2,1167.4 1833.6,1167.4 1834,1167.4 1834.4,1167.4 1834.8,1167.3 1835.2,1167.3 1835.6,1167.3 1836,1167.4 1836.4,1167.1 1836.8,1167.3 1837.2,1167.4 1837.6,1167.3 1838,1167.4 1838.4,1167.4 1838.8,1167.2 1839.2,1167.3 1839.6,1167.4 1840,1167.4 1840.4,1167.2 1840.8,1167.4 1841.2,1167.4 1841.6,1167.4 1842,1167.3 1842.4,1167.4 1842.8,1167.4 1843.2,1167.2 1843.6,1167.3 1844,1167.4 1844.4,1167.4 1844.8,1167.2 1845.2,1167.3 1845.6,1167.3 1846,1167.2 1846.4,1167.4 1846.8,1167.4 1847.2,1167.4 1847.6,1167.2 1848,1167.4 1848.4,1167.3 1848.8,1167.2 1849.2,1167.3 1849.6,1167.3 1850,1167.4 1850.4,1167.3 1850.8,1167.4 1851.2,1167.3 1851.6,1167.3 1852,1167.3 1852.4,1167.2 1852.8,1167.2 1853.2,1167.2 1853.6,1167.3 1854,1167.2 1854.4,1167.3 1854.8,1167.4 1855.2,1167.2 1855.6,1167.4 1856,1167.4 1856.4,1167.2 1856.8,1167.4 1857.2,1167.4 1857.6,1167.2 1858,1167.4 1858.4,1167.4 1858.8,1167.3 1859.2,1167.4 1859.6,1167.3 1860,1167.4 1860.4,1167.4 1860.8,1167.4 1861.2,1167.3 1861.6,1167.2 1862,1167.3 1862.4,1167.4 1862.8,1167.2 1863.2,1167.4 1863.6,1167.3 1864,1167.4 1864.4,1167.2 1864.8,1167.3 1865.2,1167.3 1865.6,1167.2 1866,1167.4 1866.4,1167.3 1866.8,1167.3 1867.2,1167.4 1867.6,1167.2 1868,1167.4 1868.4,1167.3 1868.8,1167.2 1869.2,1167.4 1869.6,1167.4 1870,1167.4 1870.4,1167.4 1870.8,1167.3 1871.2,1167.3 1871.6,1167.2 1872,1167.3 1872.4,1167.3 1872.8,1167.3 1873.2,1167.2 1873.6,1167.3 1874,1167.2 1874.4,1167.2 1874.8,1167.2 1875.2,1167.4 1875.6,1167.3 1876,1167.4 1876.4,1167.3 1876.8,1167.3 1877.2,1167.4 1877.6,1167.2 1878,1167.2 1878.4,1167.2 1878.8,1167.4 1879.2,1167.3 1879.6,1167.2 1880,1167.4 1880.4,1167.3 1880.8,1167.4 1881.2,1167.2 1881.6,1167.3 1882,1167.4 1882.4,1167.2" fill="none" stroke="#1a1a1a" stroke-width="1.3" stroke-linejoin="round"/>
<circle cx="1441.1" cy="767.9" r="7.7" fill="#0000ee" stroke="#000" stroke-width="1.4"/>
<text x="1439.1" y="755.4" font-size="23.7" text-anchor="middle">+6</text>
<circle cx="1414.4" cy="976.2" r="7.7" fill="#0000ee" stroke="#000" stroke-width="1.4"/>
<text x="1412" y="963" font-size="23.7" text-anchor="middle">+7</text>
<circle cx="1478.6" cy="1040.4" r="7.7" fill="#0000ee" stroke="#000" stroke-width="1.4"/>
<text x="1476.2" y="1027.2" font-size="23.7" text-anchor="middle">+5</text>
<circle cx="1392.8" cy="1078.2" r="7.7" fill="#0000ee" stroke="#000" stroke-width="1.4"/>
<text x="1390.8" y="1065" font-size="23.7" text-anchor="middle">+8</text>
<circle cx="1373.2" cy="1110.6" r="7.7" fill="#0000ee" stroke="#000" stroke-width="1.4"/>
<text x="1370.8" y="1097.4" font-size="23.7" text-anchor="middle">+9</text>
<circle cx="1498.8" cy="1096.8" r="6.7" fill="#fdd060" stroke="#000" stroke-width="1.2"/>
<circle cx="1507.6" cy="1096.8" r="6.7" fill="#fdd060" stroke="#000" stroke-width="1.2"/>
<text x="1501.5" y="1084.6" font-size="23.7" text-anchor="middle">+9</text>
<circle cx="1531.3" cy="1135.3" r="6.7" fill="#fdd060" stroke="#000" stroke-width="1.2"/>
<circle cx="1539.7" cy="1135.3" r="6.7" fill="#fdd060" stroke="#000" stroke-width="1.2"/>
<text x="1531.9" y="1122.8" font-size="23.7" text-anchor="middle">+8</text>
<rect x="1676.5" y="831.8" width="47.3" height="194.4" fill="#0000ee"/>
<rect x="1743.4" y="955.4" width="47.3" height="70.8" fill="#fdd060"/>
<text x="1700.1" y="824.7" font-size="23.7" text-anchor="middle">73</text>
<text x="1767.3" y="947.9" font-size="23.7" text-anchor="middle">27</text>
<text transform="translate(1658 913.2) rotate(-90)" font-size="36" text-anchor="middle">%</text>
<circle cx="1700.8" cy="1044.8" r="12" fill="#0000ee" stroke="#000" stroke-width="1.4"/>
<circle cx="1758.9" cy="1044.8" r="11.3" fill="#fdd060" stroke="#000" stroke-width="1.4"/>
<circle cx="1771.7" cy="1044.8" r="11.3" fill="#fdd060" stroke="#000" stroke-width="1.4"/>
<g transform="translate(1848.7 769.5) scale(1.016)">
<path d="M-33.7,247.3 A33.7,7.9 0 0 1 33.7,247.3 L33.7,278.3 A33.7,7.9 0 0 1 -33.7,278.3 Z" fill="#cbd6e9" stroke="#bfbcb7" stroke-width="1.1"/>
<path d="M-33.7,247.3 A33.7,7.9 0 0 0 33.7,247.3" fill="none" stroke="#bfbcb7" stroke-width="1.1"/>
<line x1="0" y1="67" x2="0" y2="245.6" stroke="#000" stroke-width="1.5"/>
<rect x="-13.3" y="0" width="26.6" height="68" rx="13.3" ry="13.3" fill="#690033" stroke="#000" stroke-width="1.5"/>
<rect x="-13.3" y="78.3" width="26.6" height="68" rx="13.3" ry="13.3" fill="#006a6b" stroke="#000" stroke-width="1.5"/>
<rect x="-13.3" y="156.5" width="26.6" height="68" rx="13.3" ry="13.3" fill="#006633" stroke="#000" stroke-width="1.5"/>
<rect x="-13.3" y="243.6" width="26.6" height="38.2" rx="13.3" ry="13.3" fill="#9b0000" stroke="#000" stroke-width="1.5"/>
<path transform="translate(0 281.8)" d="M2.7,0 C2,3 0.5,5 0.3,8.1 C0.1,12 0.3,15 -0.2,17.7 C-0.7,20.5 -1.8,22 -3,22 C-5,22 -5.9,18.5 -5.9,14.8 C-5.9,11 -5,8.6 -3,8.6 C-1,8.3 1,8.3 2.7,9.1 C6.5,10.5 8.7,14 9.4,17.7 C10,20.5 10.4,23 10.2,25.3 C10,29 9.2,32 8,33.5 C7.2,34.5 6,34.3 5.1,33.9 C3,33 1.5,31 -0.2,30.6 L6.1,51.2 L-4.2,44.3" fill="none" stroke="#000" stroke-width="1.7" stroke-linejoin="round" stroke-linecap="round"/>
</g>
<path d="M1841.9,923.3 L1822.4,923.3 L1822.4,940.8 M1855.9,923.3 L1875.4,923.3 L1875.4,940.8 M1841.9,1007.4 L1822.4,1007.4 L1822.4,989.9 M1855.9,1007.4 L1875.4,1007.4 L1875.4,989.9" fill="none" stroke="#e8274b" stroke-width="1.5"/>
</svg>
</body></html>
